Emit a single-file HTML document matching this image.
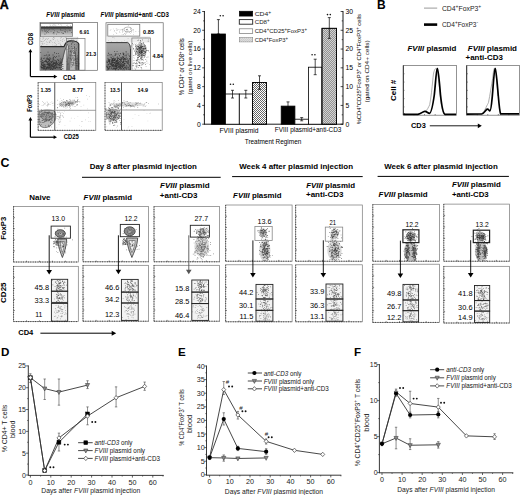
<!DOCTYPE html>
<html><head><meta charset="utf-8"><title>Figure</title>
<style>
html,body{margin:0;padding:0;background:#fff;width:520px;height:495px;overflow:hidden}
svg{display:block;font-family:"Liberation Sans",sans-serif}
</style></head><body>
<svg width="520" height="495" viewBox="0 0 520 495">
<rect width="520" height="495" fill="#fff"/>
<text x="-0.2" y="8.6" font-size="12.4" font-weight="bold" stroke="#000" stroke-width="0.35">A</text>
<text x="46.3" y="16.8" font-size="6.6" font-weight="bold" textLength="38.5" lengthAdjust="spacingAndGlyphs"><tspan font-style="italic">FVIII</tspan> plasmid</text>
<text x="100.5" y="16.8" font-size="6.6" font-weight="bold" textLength="68.3" lengthAdjust="spacingAndGlyphs"><tspan font-style="italic">FVIII</tspan> plasmid+anti -CD3</text>
<rect x="40" y="22.4" width="57.4" height="47.9" fill="#fff" stroke="#666" stroke-width="0.7"/>
<defs><linearGradient id="g1" x1="0" y1="0" x2="0" y2="1"><stop offset="0" stop-color="#9a9a9a"/><stop offset="0.4" stop-color="#8f8f8f"/><stop offset="1" stop-color="#6c6c6c"/></linearGradient><linearGradient id="g2" x1="0" y1="0" x2="0" y2="1"><stop offset="0" stop-color="#a8a8a8"/><stop offset="0.35" stop-color="#9a9a9a"/><stop offset="1" stop-color="#737373"/></linearGradient><linearGradient id="g3" x1="0" y1="0" x2="0" y2="1"><stop offset="0" stop-color="#555"/><stop offset="0.45" stop-color="#999"/><stop offset="1" stop-color="#d8d8d8"/></linearGradient></defs>
<rect x="40.3" y="36.8" width="38" height="10" fill="#e4e4e4"/>
<path d="M52.51 38.26h0.6v0.6h-0.6zM64.84 37.5h0.6v0.6h-0.6zM60.5 40.35h0.6v0.6h-0.6zM42.49 41.72h0.6v0.6h-0.6zM41.71 41.01h0.6v0.6h-0.6zM42.93 37.68h0.6v0.6h-0.6zM56.3 44.82h0.6v0.6h-0.6zM44.97 38.97h0.6v0.6h-0.6zM63.95 45.99h0.6v0.6h-0.6zM62.06 40.65h0.6v0.6h-0.6zM77.1 37.25h0.6v0.6h-0.6zM72.66 39.61h0.6v0.6h-0.6zM45.74 37.94h0.6v0.6h-0.6zM51.93 44.72h0.6v0.6h-0.6zM47.11 42.44h0.6v0.6h-0.6zM64.39 40.41h0.6v0.6h-0.6zM60.95 37.41h0.6v0.6h-0.6zM42.55 38.8h0.6v0.6h-0.6zM65.95 40.95h0.6v0.6h-0.6zM52.14 42.48h0.6v0.6h-0.6zM57.39 39.71h0.6v0.6h-0.6zM70.25 43.58h0.6v0.6h-0.6zM49.5 42.37h0.6v0.6h-0.6zM60.1 45.29h0.6v0.6h-0.6zM67.8 39.59h0.6v0.6h-0.6zM77.25 37.95h0.6v0.6h-0.6zM56.06 44.14h0.6v0.6h-0.6zM46.03 41.54h0.6v0.6h-0.6zM41.78 43.28h0.6v0.6h-0.6zM69.12 42.36h0.6v0.6h-0.6zM73.31 39.84h0.6v0.6h-0.6zM66.51 42.57h0.6v0.6h-0.6zM62.16 41.23h0.6v0.6h-0.6zM71.97 45.96h0.6v0.6h-0.6zM58.17 43.24h0.6v0.6h-0.6zM42.59 43.6h0.6v0.6h-0.6zM64.7 46.43h0.6v0.6h-0.6zM71.29 39.56h0.6v0.6h-0.6zM54.84 43.29h0.6v0.6h-0.6zM41.15 41.28h0.6v0.6h-0.6zM46.64 37.94h0.6v0.6h-0.6zM42.52 44.25h0.6v0.6h-0.6zM45.18 39.2h0.6v0.6h-0.6zM55.04 45.25h0.6v0.6h-0.6zM43.34 41.16h0.6v0.6h-0.6zM61.01 45.37h0.6v0.6h-0.6zM71.19 45.18h0.6v0.6h-0.6zM50.8 40.83h0.6v0.6h-0.6zM53.83 45.38h0.6v0.6h-0.6zM76.41 38.26h0.6v0.6h-0.6zM46.94 39.05h0.6v0.6h-0.6zM49.1 41.5h0.6v0.6h-0.6zM62.51 39.35h0.6v0.6h-0.6zM40.45 40.86h0.6v0.6h-0.6zM54.22 42.29h0.6v0.6h-0.6zM76.23 43.5h0.6v0.6h-0.6zM59.73 42.79h0.6v0.6h-0.6zM65.79 37.32h0.6v0.6h-0.6zM74.21 44.37h0.6v0.6h-0.6zM73.27 44.54h0.6v0.6h-0.6zM55.09 40.67h0.6v0.6h-0.6zM44.2 42.95h0.6v0.6h-0.6zM42.65 37.45h0.6v0.6h-0.6zM48.17 38.37h0.6v0.6h-0.6zM53.12 37.31h0.6v0.6h-0.6zM40.31 38.27h0.6v0.6h-0.6zM44.13 40.33h0.6v0.6h-0.6zM41.26 45.28h0.6v0.6h-0.6zM63.45 38.24h0.6v0.6h-0.6zM49.81 40.17h0.6v0.6h-0.6zM54.03 37.99h0.6v0.6h-0.6zM72.3 46.43h0.6v0.6h-0.6zM57.87 41.49h0.6v0.6h-0.6zM43.54 37.79h0.6v0.6h-0.6zM53.22 39.37h0.6v0.6h-0.6zM71.55 38.37h0.6v0.6h-0.6zM41.17 46.02h0.6v0.6h-0.6zM60.22 38.22h0.6v0.6h-0.6zM60.78 37.06h0.6v0.6h-0.6zM60.21 46.29h0.6v0.6h-0.6zM72.85 43.55h0.6v0.6h-0.6zM50.14 40.36h0.6v0.6h-0.6zM46.6 44.29h0.6v0.6h-0.6zM60.38 44.36h0.6v0.6h-0.6zM52.73 38.96h0.6v0.6h-0.6zM70.89 46.35h0.6v0.6h-0.6zM72.44 44.62h0.6v0.6h-0.6zM71.15 43.98h0.6v0.6h-0.6zM48.85 41.82h0.6v0.6h-0.6zM53.7 37.08h0.6v0.6h-0.6z" fill="#999"/>
<path d="M40.3 46.6 L64 46.6 C65 43.5 67 41.2 70 40.8 C74 40.6 77.5 41.2 78.8 44 L78.8 70 L40.3 70 Z" fill="url(#g1)"/>
<path d="M61 70 C62.5 60 64.5 51 67.5 44.5 C68.5 47 67.5 56 66.5 70 Z" fill="#d6d6d6"/>
<path d="M70 70 C70.5 62 72 52 74 46 C75 52 75.5 62 75.5 70 Z" fill="#b8b8b8"/>
<path d="M55.38 64.64h0.8v0.8h-0.8zM57.39 62.68h0.8v0.8h-0.8zM56.32 62.8h0.8v0.8h-0.8zM50.06 67.17h0.8v0.8h-0.8zM50.78 66.87h0.8v0.8h-0.8zM53.92 59.67h0.8v0.8h-0.8zM40.79 57.38h0.8v0.8h-0.8zM59.13 67.36h0.8v0.8h-0.8zM60.78 59.78h0.8v0.8h-0.8zM49.01 58.87h0.8v0.8h-0.8zM56.9 63.2h0.8v0.8h-0.8zM48.23 61.29h0.8v0.8h-0.8zM52.2 65.84h0.8v0.8h-0.8zM60.98 59.41h0.8v0.8h-0.8zM60.62 63.19h0.8v0.8h-0.8zM43.05 68.58h0.8v0.8h-0.8zM49.92 64.56h0.8v0.8h-0.8zM60.39 62.81h0.8v0.8h-0.8zM51.54 61.25h0.8v0.8h-0.8zM48.92 67.75h0.8v0.8h-0.8zM48.51 68.68h0.8v0.8h-0.8zM43.63 67.96h0.8v0.8h-0.8zM47.46 63.87h0.8v0.8h-0.8zM44.27 65.05h0.8v0.8h-0.8zM53.25 68.5h0.8v0.8h-0.8zM47.42 58.33h0.8v0.8h-0.8zM44.56 68.83h0.8v0.8h-0.8zM57.06 67.57h0.8v0.8h-0.8zM49.06 67.62h0.8v0.8h-0.8zM50.33 58.69h0.8v0.8h-0.8zM56.38 61.46h0.8v0.8h-0.8zM41.78 60.53h0.8v0.8h-0.8zM43.87 55.26h0.8v0.8h-0.8zM54.8 62.76h0.8v0.8h-0.8zM51.33 61.94h0.8v0.8h-0.8zM55.24 67.36h0.8v0.8h-0.8zM54.33 65.47h0.8v0.8h-0.8zM59.67 66.97h0.8v0.8h-0.8zM52.61 54.62h0.8v0.8h-0.8zM46.62 61.89h0.8v0.8h-0.8zM41.58 67.1h0.8v0.8h-0.8zM53.49 68.06h0.8v0.8h-0.8zM41.75 63.6h0.8v0.8h-0.8zM51.34 67.71h0.8v0.8h-0.8zM48.72 63.12h0.8v0.8h-0.8zM40.87 62.38h0.8v0.8h-0.8zM56.13 64.46h0.8v0.8h-0.8zM42.18 60.21h0.8v0.8h-0.8zM54.1 52.33h0.8v0.8h-0.8zM53.97 66.16h0.8v0.8h-0.8zM62.47 65.92h0.8v0.8h-0.8zM48.46 66.35h0.8v0.8h-0.8zM51.6 60.84h0.8v0.8h-0.8zM51.33 64.83h0.8v0.8h-0.8zM45.81 59.62h0.8v0.8h-0.8zM62.63 68.45h0.8v0.8h-0.8zM42.02 65.17h0.8v0.8h-0.8zM48.53 66.35h0.8v0.8h-0.8zM43.18 63.44h0.8v0.8h-0.8zM52.67 65.7h0.8v0.8h-0.8zM54.1 64.94h0.8v0.8h-0.8zM46.41 67.55h0.8v0.8h-0.8zM49.39 60.28h0.8v0.8h-0.8zM43.99 64h0.8v0.8h-0.8zM48.12 64.71h0.8v0.8h-0.8zM49 64.79h0.8v0.8h-0.8zM47.93 58.34h0.8v0.8h-0.8zM52.37 68.74h0.8v0.8h-0.8zM52.48 63.15h0.8v0.8h-0.8zM52.57 59.65h0.8v0.8h-0.8zM41.56 67.33h0.8v0.8h-0.8zM40.33 52.17h0.8v0.8h-0.8zM45.95 57.84h0.8v0.8h-0.8zM42.89 66.34h0.8v0.8h-0.8zM52.97 64.8h0.8v0.8h-0.8zM60.87 67.18h0.8v0.8h-0.8zM48.83 66.69h0.8v0.8h-0.8zM62.24 68.37h0.8v0.8h-0.8zM57.19 59.13h0.8v0.8h-0.8zM47.81 67.28h0.8v0.8h-0.8zM46.63 68.81h0.8v0.8h-0.8zM53.77 68.09h0.8v0.8h-0.8zM58.92 63.03h0.8v0.8h-0.8zM46.25 67.93h0.8v0.8h-0.8zM56.84 64.03h0.8v0.8h-0.8zM51.88 69.08h0.8v0.8h-0.8zM55.26 64.11h0.8v0.8h-0.8zM55.83 66.43h0.8v0.8h-0.8zM50.65 64.25h0.8v0.8h-0.8zM47.05 67.09h0.8v0.8h-0.8zM40.57 61.17h0.8v0.8h-0.8zM49.04 57.41h0.8v0.8h-0.8zM45.51 54.96h0.8v0.8h-0.8zM43.54 66.56h0.8v0.8h-0.8zM53.53 63.75h0.8v0.8h-0.8zM47.14 57.62h0.8v0.8h-0.8zM57.75 60.03h0.8v0.8h-0.8zM47.52 55.81h0.8v0.8h-0.8zM55.24 68.21h0.8v0.8h-0.8zM54.04 56.07h0.8v0.8h-0.8zM43.97 57.69h0.8v0.8h-0.8zM49.25 65.12h0.8v0.8h-0.8zM54.07 67.16h0.8v0.8h-0.8zM61.02 69.24h0.8v0.8h-0.8zM40.52 59.16h0.8v0.8h-0.8zM48.35 64.02h0.8v0.8h-0.8zM52.92 56.86h0.8v0.8h-0.8zM47.4 62.6h0.8v0.8h-0.8zM48.49 60.58h0.8v0.8h-0.8zM54.61 65.59h0.8v0.8h-0.8zM48.3 60.98h0.8v0.8h-0.8zM47.61 51.75h0.8v0.8h-0.8zM41.15 64.17h0.8v0.8h-0.8zM50.18 57.8h0.8v0.8h-0.8zM47 62.59h0.8v0.8h-0.8zM52.68 66.75h0.8v0.8h-0.8zM48.71 60.17h0.8v0.8h-0.8zM47.85 63.71h0.8v0.8h-0.8zM54.88 65.32h0.8v0.8h-0.8zM43.22 57.91h0.8v0.8h-0.8zM46.02 60.67h0.8v0.8h-0.8zM45.07 64.47h0.8v0.8h-0.8zM53.19 62.14h0.8v0.8h-0.8zM57.81 64.55h0.8v0.8h-0.8zM57.93 53.31h0.8v0.8h-0.8zM42.99 65.11h0.8v0.8h-0.8zM55.13 68.26h0.8v0.8h-0.8zM53.08 63.3h0.8v0.8h-0.8zM53.07 59.15h0.8v0.8h-0.8zM58.45 59.42h0.8v0.8h-0.8zM47.21 64.09h0.8v0.8h-0.8zM58.3 64.12h0.8v0.8h-0.8zM42.54 65.16h0.8v0.8h-0.8zM53.66 67.2h0.8v0.8h-0.8zM62.33 64.08h0.8v0.8h-0.8zM51.15 62.07h0.8v0.8h-0.8zM60.31 60.83h0.8v0.8h-0.8zM54.39 61.84h0.8v0.8h-0.8zM43.45 67.23h0.8v0.8h-0.8zM59.67 63.95h0.8v0.8h-0.8zM43.58 67.65h0.8v0.8h-0.8zM48.6 65.4h0.8v0.8h-0.8zM61.18 69.09h0.8v0.8h-0.8zM49.03 67.54h0.8v0.8h-0.8zM43.82 63.8h0.8v0.8h-0.8zM59.93 58.53h0.8v0.8h-0.8zM58.41 61.93h0.8v0.8h-0.8zM48.52 62.59h0.8v0.8h-0.8zM48.03 59.1h0.8v0.8h-0.8zM49.19 57.53h0.8v0.8h-0.8zM48.43 65.39h0.8v0.8h-0.8zM52.74 62.96h0.8v0.8h-0.8zM41.77 64.72h0.8v0.8h-0.8zM55.14 63.48h0.8v0.8h-0.8zM45.23 60.84h0.8v0.8h-0.8zM41.5 62.41h0.8v0.8h-0.8zM51.36 66.32h0.8v0.8h-0.8zM43.36 64.06h0.8v0.8h-0.8zM44.83 64.76h0.8v0.8h-0.8zM50.24 65.84h0.8v0.8h-0.8zM47.09 65.65h0.8v0.8h-0.8zM49.42 67.47h0.8v0.8h-0.8zM48.98 59.36h0.8v0.8h-0.8zM40.64 66.82h0.8v0.8h-0.8zM43.8 66.86h0.8v0.8h-0.8zM54.97 65.38h0.8v0.8h-0.8zM53.06 63.53h0.8v0.8h-0.8zM52.63 61.62h0.8v0.8h-0.8zM48.2 67.37h0.8v0.8h-0.8zM41.98 66.88h0.8v0.8h-0.8zM50.17 63.32h0.8v0.8h-0.8zM61.32 65.42h0.8v0.8h-0.8zM56.18 60.89h0.8v0.8h-0.8zM48.87 63.96h0.8v0.8h-0.8zM56.2 56.13h0.8v0.8h-0.8zM54.95 63.41h0.8v0.8h-0.8zM52.59 65.65h0.8v0.8h-0.8zM60.94 61.41h0.8v0.8h-0.8zM40.82 57.88h0.8v0.8h-0.8zM62.54 65.93h0.8v0.8h-0.8zM44.84 60.97h0.8v0.8h-0.8zM53.23 66.47h0.8v0.8h-0.8zM40.88 58.74h0.8v0.8h-0.8zM51.33 65.11h0.8v0.8h-0.8zM44.66 66.07h0.8v0.8h-0.8zM48.07 63.61h0.8v0.8h-0.8zM46.17 68.74h0.8v0.8h-0.8zM60.13 62.35h0.8v0.8h-0.8zM55.77 60.59h0.8v0.8h-0.8zM49.58 67.37h0.8v0.8h-0.8zM61.11 62.28h0.8v0.8h-0.8zM48.41 64.88h0.8v0.8h-0.8zM43.59 65.67h0.8v0.8h-0.8zM49.31 65.17h0.8v0.8h-0.8zM44.61 68h0.8v0.8h-0.8zM46.81 61.27h0.8v0.8h-0.8zM52.82 56.94h0.8v0.8h-0.8zM43.58 63.91h0.8v0.8h-0.8zM55.79 63.27h0.8v0.8h-0.8zM51.47 61.05h0.8v0.8h-0.8zM43.85 64.08h0.8v0.8h-0.8zM50.39 68.61h0.8v0.8h-0.8zM53.85 67.58h0.8v0.8h-0.8zM50.64 65.14h0.8v0.8h-0.8zM56.43 65.66h0.8v0.8h-0.8zM62.31 58.43h0.8v0.8h-0.8zM55.5 62.32h0.8v0.8h-0.8zM48.95 62.85h0.8v0.8h-0.8zM45 60.23h0.8v0.8h-0.8zM43.96 66.88h0.8v0.8h-0.8zM49.29 64.3h0.8v0.8h-0.8zM47.61 68.11h0.8v0.8h-0.8zM52.95 63.36h0.8v0.8h-0.8zM54.32 63.32h0.8v0.8h-0.8zM52.72 59.69h0.8v0.8h-0.8zM57.63 65.55h0.8v0.8h-0.8zM51.67 68.01h0.8v0.8h-0.8zM50.58 63.33h0.8v0.8h-0.8zM49.24 62.71h0.8v0.8h-0.8zM51.81 64.35h0.8v0.8h-0.8zM54.41 62.33h0.8v0.8h-0.8zM48.71 54.37h0.8v0.8h-0.8zM45.61 67.04h0.8v0.8h-0.8zM59.69 62.36h0.8v0.8h-0.8zM46.39 67.3h0.8v0.8h-0.8zM62.43 64.18h0.8v0.8h-0.8zM58.82 60.8h0.8v0.8h-0.8zM50.66 63.65h0.8v0.8h-0.8zM49.92 69.08h0.8v0.8h-0.8zM44.4 66.24h0.8v0.8h-0.8zM40.56 66.24h0.8v0.8h-0.8zM53.58 62.75h0.8v0.8h-0.8zM53.25 57.03h0.8v0.8h-0.8zM55.08 57.05h0.8v0.8h-0.8zM43.43 61.5h0.8v0.8h-0.8zM45.79 67.86h0.8v0.8h-0.8zM49.65 62.21h0.8v0.8h-0.8zM49.05 65.65h0.8v0.8h-0.8zM58.92 65.21h0.8v0.8h-0.8zM48.69 65.88h0.8v0.8h-0.8zM56.73 67.01h0.8v0.8h-0.8zM46.82 59.26h0.8v0.8h-0.8zM49.82 68.65h0.8v0.8h-0.8zM48.8 55.28h0.8v0.8h-0.8zM46.92 62.04h0.8v0.8h-0.8zM52.61 60.84h0.8v0.8h-0.8zM41.94 62.23h0.8v0.8h-0.8zM48.6 61.01h0.8v0.8h-0.8zM49.1 67.38h0.8v0.8h-0.8zM42.73 62.11h0.8v0.8h-0.8zM43.2 63.85h0.8v0.8h-0.8zM53.18 57.89h0.8v0.8h-0.8zM52.71 63.88h0.8v0.8h-0.8zM58.56 55.59h0.8v0.8h-0.8zM55.46 64.94h0.8v0.8h-0.8zM52.8 65.99h0.8v0.8h-0.8zM59.43 62.99h0.8v0.8h-0.8zM55.99 62.16h0.8v0.8h-0.8zM54.82 60.34h0.8v0.8h-0.8zM52.56 63.29h0.8v0.8h-0.8zM50.55 68.23h0.8v0.8h-0.8zM52.41 66.36h0.8v0.8h-0.8zM45.87 61.53h0.8v0.8h-0.8zM56.1 64.29h0.8v0.8h-0.8zM46.77 61.41h0.8v0.8h-0.8zM46.94 66.81h0.8v0.8h-0.8zM51.83 58.56h0.8v0.8h-0.8zM52.41 64.81h0.8v0.8h-0.8zM41 67.48h0.8v0.8h-0.8zM46.76 62.49h0.8v0.8h-0.8zM43.49 65.97h0.8v0.8h-0.8zM45.05 69.38h0.8v0.8h-0.8zM43.82 67.65h0.8v0.8h-0.8zM45.52 66.25h0.8v0.8h-0.8zM48.26 60.99h0.8v0.8h-0.8zM44.38 64.65h0.8v0.8h-0.8zM59.09 64.53h0.8v0.8h-0.8zM58.46 67.33h0.8v0.8h-0.8zM42.47 67.87h0.8v0.8h-0.8zM52.97 66.91h0.8v0.8h-0.8zM56.2 67.3h0.8v0.8h-0.8zM56.05 52.94h0.8v0.8h-0.8zM50.35 66.21h0.8v0.8h-0.8zM46.37 64.16h0.8v0.8h-0.8zM56.09 62.01h0.8v0.8h-0.8zM58.18 60.45h0.8v0.8h-0.8zM51.13 61.63h0.8v0.8h-0.8zM50.27 60.89h0.8v0.8h-0.8zM51.43 61.49h0.8v0.8h-0.8zM50.61 68.46h0.8v0.8h-0.8zM41.18 63.5h0.8v0.8h-0.8zM53.31 66.37h0.8v0.8h-0.8zM46.32 54.52h0.8v0.8h-0.8zM58.94 65.48h0.8v0.8h-0.8zM49.1 62.75h0.8v0.8h-0.8zM51.11 62.08h0.8v0.8h-0.8zM40.8 60.67h0.8v0.8h-0.8zM44.23 61.24h0.8v0.8h-0.8zM40.88 65.59h0.8v0.8h-0.8zM59.99 64.91h0.8v0.8h-0.8z" fill="#333"/>
<path d="M70.44 58.43h0.7v0.7h-0.7zM73.52 42.4h0.7v0.7h-0.7zM70.87 59.47h0.7v0.7h-0.7zM71.36 58.72h0.7v0.7h-0.7zM75.57 64.9h0.7v0.7h-0.7zM76.17 63.3h0.7v0.7h-0.7zM71.99 57.83h0.7v0.7h-0.7zM72.05 55.18h0.7v0.7h-0.7zM72.37 42.48h0.7v0.7h-0.7zM71.83 57.78h0.7v0.7h-0.7zM69.59 57.78h0.7v0.7h-0.7zM74.8 56.52h0.7v0.7h-0.7zM72.28 41.57h0.7v0.7h-0.7zM74.82 55.28h0.7v0.7h-0.7zM75.98 61.35h0.7v0.7h-0.7zM73.08 52.71h0.7v0.7h-0.7zM75.23 53.63h0.7v0.7h-0.7zM73.78 53.41h0.7v0.7h-0.7zM73.71 64.79h0.7v0.7h-0.7zM69.93 57.7h0.7v0.7h-0.7zM75.16 59.31h0.7v0.7h-0.7zM69.82 40.71h0.7v0.7h-0.7zM76.23 65.33h0.7v0.7h-0.7zM70.83 51.58h0.7v0.7h-0.7zM76.11 49.8h0.7v0.7h-0.7zM66.65 49.02h0.7v0.7h-0.7zM70.6 51.44h0.7v0.7h-0.7zM73.81 51.26h0.7v0.7h-0.7zM77.59 57.3h0.7v0.7h-0.7zM70.96 59.99h0.7v0.7h-0.7zM72.96 55.17h0.7v0.7h-0.7zM74.14 51.77h0.7v0.7h-0.7zM68.57 51.17h0.7v0.7h-0.7zM72.92 58.5h0.7v0.7h-0.7zM74.95 59.08h0.7v0.7h-0.7zM70.22 51.62h0.7v0.7h-0.7zM74.7 62.77h0.7v0.7h-0.7zM72.58 56.43h0.7v0.7h-0.7zM76.28 58.14h0.7v0.7h-0.7zM75.58 63.24h0.7v0.7h-0.7zM71 54.77h0.7v0.7h-0.7zM70.17 50.83h0.7v0.7h-0.7zM73.08 63.11h0.7v0.7h-0.7zM77.11 65.27h0.7v0.7h-0.7zM77.22 46.63h0.7v0.7h-0.7zM70.76 62.07h0.7v0.7h-0.7zM78.02 58.93h0.7v0.7h-0.7zM70 54.81h0.7v0.7h-0.7zM70.69 50.28h0.7v0.7h-0.7zM78.25 52.37h0.7v0.7h-0.7zM77.15 61.03h0.7v0.7h-0.7zM70.86 61.69h0.7v0.7h-0.7zM78.68 63.61h0.7v0.7h-0.7zM77.42 58.88h0.7v0.7h-0.7zM74.81 56.19h0.7v0.7h-0.7zM67.99 57.44h0.7v0.7h-0.7zM73.84 52.86h0.7v0.7h-0.7zM71.92 65.08h0.7v0.7h-0.7zM74.14 44.04h0.7v0.7h-0.7zM72.88 47.93h0.7v0.7h-0.7zM72.8 48.13h0.7v0.7h-0.7zM73.25 62.2h0.7v0.7h-0.7zM73.11 60.52h0.7v0.7h-0.7zM70.71 41.64h0.7v0.7h-0.7zM72.34 51.13h0.7v0.7h-0.7zM69.47 54.81h0.7v0.7h-0.7zM74.02 47.36h0.7v0.7h-0.7zM75.39 56.63h0.7v0.7h-0.7zM73.45 56.92h0.7v0.7h-0.7zM72.83 64.59h0.7v0.7h-0.7zM72.92 49.99h0.7v0.7h-0.7zM75.28 52.51h0.7v0.7h-0.7zM69.34 47.88h0.7v0.7h-0.7zM66.43 61.28h0.7v0.7h-0.7zM70.77 41.19h0.7v0.7h-0.7zM67.81 63.56h0.7v0.7h-0.7zM70.29 54.7h0.7v0.7h-0.7zM73.5 59.66h0.7v0.7h-0.7zM71.91 62.12h0.7v0.7h-0.7zM74 58.47h0.7v0.7h-0.7zM71.25 46.06h0.7v0.7h-0.7zM71.13 44.1h0.7v0.7h-0.7zM77.28 62.83h0.7v0.7h-0.7zM76.12 40.82h0.7v0.7h-0.7zM74.86 61.81h0.7v0.7h-0.7zM73.71 59.54h0.7v0.7h-0.7zM76.69 44.55h0.7v0.7h-0.7zM68.65 45.45h0.7v0.7h-0.7zM71.05 52.55h0.7v0.7h-0.7zM74.29 60.4h0.7v0.7h-0.7zM73.11 51.91h0.7v0.7h-0.7zM71.45 66.57h0.7v0.7h-0.7zM75.67 58.91h0.7v0.7h-0.7zM70.92 63.84h0.7v0.7h-0.7zM77.04 55.61h0.7v0.7h-0.7zM75.89 47.96h0.7v0.7h-0.7zM76.54 59.8h0.7v0.7h-0.7zM67.45 64.03h0.7v0.7h-0.7zM70.62 56.52h0.7v0.7h-0.7zM73.99 55.01h0.7v0.7h-0.7zM73.91 53.02h0.7v0.7h-0.7zM75.35 58.05h0.7v0.7h-0.7zM77.06 58.29h0.7v0.7h-0.7zM66.76 58.86h0.7v0.7h-0.7zM74.64 67.64h0.7v0.7h-0.7zM72.49 64.12h0.7v0.7h-0.7zM71.72 47.96h0.7v0.7h-0.7zM76.84 66.16h0.7v0.7h-0.7zM78.38 65.71h0.7v0.7h-0.7zM70.99 43.04h0.7v0.7h-0.7z" fill="#444"/>
<path d="M40.3 46.6 L64 46.6 C65 43.5 67 41.2 70 40.8 C74 40.6 77.5 41.2 78.8 44 L78.8 70" fill="none" stroke="#2a2a2a" stroke-width="1.2"/>
<polyline points="60.5,70 62.5,60 64.5,51 67.5,44.2" fill="none" stroke="#444" stroke-width="0.7"/>
<polyline points="66.8,70 67.8,56 68.6,46" fill="none" stroke="#555" stroke-width="0.6"/>
<polyline points="76,70 75.6,56 74.3,46" fill="none" stroke="#444" stroke-width="0.6"/>
<rect x="40.6" y="23.6" width="31.9" height="13" fill="#fff" stroke="#555" stroke-width="0.7"/>
<rect x="41" y="26.5" width="31.2" height="9.8" fill="url(#g3)"/>
<rect x="41" y="26.6" width="31.2" height="2" fill="#3a3a3a" stroke="none" stroke-width="1"/>
<path d="M60.47 29.17h0.6v0.6h-0.6zM53.44 29.46h0.6v0.6h-0.6zM68.6 27.15h0.6v0.6h-0.6zM68.54 26.69h0.6v0.6h-0.6zM47.39 28.47h0.6v0.6h-0.6zM68.94 30.26h0.6v0.6h-0.6zM52.76 33.13h0.6v0.6h-0.6zM48.24 29.96h0.6v0.6h-0.6zM57.48 32.16h0.6v0.6h-0.6zM64.34 31.35h0.6v0.6h-0.6zM51.8 28.95h0.6v0.6h-0.6zM45.82 32.82h0.6v0.6h-0.6zM61.53 32.06h0.6v0.6h-0.6zM46.26 29.79h0.6v0.6h-0.6zM64.98 30.84h0.6v0.6h-0.6zM44.91 29.97h0.6v0.6h-0.6zM68.44 28.28h0.6v0.6h-0.6zM46.94 28.76h0.6v0.6h-0.6zM62.8 32.83h0.6v0.6h-0.6zM45.79 27.67h0.6v0.6h-0.6zM48.68 28.95h0.6v0.6h-0.6zM57.19 27.71h0.6v0.6h-0.6zM51.17 27.92h0.6v0.6h-0.6zM71.23 31.97h0.6v0.6h-0.6zM44.16 33.72h0.6v0.6h-0.6zM44.15 29.38h0.6v0.6h-0.6zM71.5 32.46h0.6v0.6h-0.6zM63.73 29.76h0.6v0.6h-0.6zM47.08 31.28h0.6v0.6h-0.6zM44.31 28.05h0.6v0.6h-0.6zM53.04 26.75h0.6v0.6h-0.6zM53.37 32.43h0.6v0.6h-0.6zM62.5 30.25h0.6v0.6h-0.6zM60.6 29.97h0.6v0.6h-0.6zM45.4 31.03h0.6v0.6h-0.6zM53.55 32.06h0.6v0.6h-0.6zM69.15 29.73h0.6v0.6h-0.6zM58.79 32.12h0.6v0.6h-0.6zM54.06 28.21h0.6v0.6h-0.6zM63.39 33.1h0.6v0.6h-0.6zM65 31.75h0.6v0.6h-0.6zM67.43 31.6h0.6v0.6h-0.6zM60.89 29.9h0.6v0.6h-0.6zM50.7 31.21h0.6v0.6h-0.6zM44.03 29.65h0.6v0.6h-0.6zM65.25 31.85h0.6v0.6h-0.6zM60.52 28.38h0.6v0.6h-0.6zM54.13 29.91h0.6v0.6h-0.6zM60.27 29.57h0.6v0.6h-0.6zM61.93 33.48h0.6v0.6h-0.6zM46.67 31.41h0.6v0.6h-0.6zM65.12 29.42h0.6v0.6h-0.6zM56.19 33.81h0.6v0.6h-0.6zM42.18 30.58h0.6v0.6h-0.6zM45.99 32.36h0.6v0.6h-0.6zM70.16 30.39h0.6v0.6h-0.6zM44.13 30.81h0.6v0.6h-0.6zM57.77 31.88h0.6v0.6h-0.6zM56.88 31.29h0.6v0.6h-0.6zM66.7 30.41h0.6v0.6h-0.6zM53.72 33.61h0.6v0.6h-0.6zM47.51 31.63h0.6v0.6h-0.6zM53.17 32.22h0.6v0.6h-0.6zM44.79 33.88h0.6v0.6h-0.6zM52.02 26.92h0.6v0.6h-0.6zM49.51 29.5h0.6v0.6h-0.6zM41.41 29.64h0.6v0.6h-0.6zM54.04 31.74h0.6v0.6h-0.6zM51.92 28.49h0.6v0.6h-0.6zM47.96 32.06h0.6v0.6h-0.6z" fill="#444"/>
<path d="M70.14 25.32h0.6v0.6h-0.6zM47.79 26h0.6v0.6h-0.6zM53.15 24.53h0.6v0.6h-0.6zM45.01 25.94h0.6v0.6h-0.6zM66.1 25.59h0.6v0.6h-0.6zM55.54 25.41h0.6v0.6h-0.6zM48.01 26.41h0.6v0.6h-0.6zM51.95 25.6h0.6v0.6h-0.6zM66.38 26.04h0.6v0.6h-0.6zM55.51 24.74h0.6v0.6h-0.6zM58 24.31h0.6v0.6h-0.6zM66.85 24.89h0.6v0.6h-0.6zM67.37 24.67h0.6v0.6h-0.6zM52.66 24.63h0.6v0.6h-0.6zM54.21 24.46h0.6v0.6h-0.6zM41.08 25.8h0.6v0.6h-0.6zM49.72 24.61h0.6v0.6h-0.6zM50.36 25.2h0.6v0.6h-0.6zM54.28 25.59h0.6v0.6h-0.6zM61.44 24.91h0.6v0.6h-0.6zM69.79 26.14h0.6v0.6h-0.6zM42.77 26.07h0.6v0.6h-0.6zM69.08 25.96h0.6v0.6h-0.6zM45.35 26.08h0.6v0.6h-0.6zM60.63 24.04h0.6v0.6h-0.6z" fill="#aaa"/>
<rect x="66.6" y="38.6" width="18.4" height="31.6" fill="none" stroke="#777" stroke-width="0.7"/>
<text x="79.6" y="33.8" font-size="5.6" font-weight="bold" textLength="9.6" lengthAdjust="spacingAndGlyphs">6.91</text>
<text x="86" y="55.8" font-size="5.6" font-weight="bold" textLength="10.2" lengthAdjust="spacingAndGlyphs">21.3</text>
<rect x="106" y="22.75" width="57.2" height="47.55" fill="#fff" stroke="#666" stroke-width="0.7"/>
<rect x="106.3" y="36.5" width="44" height="6" fill="#ececec"/>
<path d="M107 68.38h0.6v0.6h-0.6zM135.03 44.88h0.6v0.6h-0.6zM110.92 41.28h0.6v0.6h-0.6zM116.66 62.51h0.6v0.6h-0.6zM121.57 41.61h0.6v0.6h-0.6zM145.83 63.02h0.6v0.6h-0.6zM113.8 66.35h0.6v0.6h-0.6zM132.96 62.67h0.6v0.6h-0.6zM135.58 66.45h0.6v0.6h-0.6zM140.78 64.6h0.6v0.6h-0.6zM115.09 59.71h0.6v0.6h-0.6zM129.59 61.35h0.6v0.6h-0.6zM125.58 66.07h0.6v0.6h-0.6zM130.65 45.36h0.6v0.6h-0.6zM116.69 41.17h0.6v0.6h-0.6zM127.95 38.46h0.6v0.6h-0.6zM126.82 41.34h0.6v0.6h-0.6zM127.87 53.19h0.6v0.6h-0.6zM129.97 65.41h0.6v0.6h-0.6zM106.79 64.67h0.6v0.6h-0.6zM126.86 55.35h0.6v0.6h-0.6zM135.44 64.66h0.6v0.6h-0.6zM122.81 50.53h0.6v0.6h-0.6zM148.29 39.03h0.6v0.6h-0.6zM134.21 57.81h0.6v0.6h-0.6zM107.74 56.92h0.6v0.6h-0.6zM136.19 67.71h0.6v0.6h-0.6zM120.87 69.39h0.6v0.6h-0.6zM128.71 52.74h0.6v0.6h-0.6zM145.54 37.64h0.6v0.6h-0.6zM137.74 57.45h0.6v0.6h-0.6zM121.23 65.37h0.6v0.6h-0.6zM122.43 52.4h0.6v0.6h-0.6zM129.36 62.31h0.6v0.6h-0.6zM115.67 51.08h0.6v0.6h-0.6zM124.87 55.06h0.6v0.6h-0.6zM142.46 46.31h0.6v0.6h-0.6zM142.51 50.02h0.6v0.6h-0.6zM128.41 45.6h0.6v0.6h-0.6zM128.53 69.16h0.6v0.6h-0.6zM134.97 63.03h0.6v0.6h-0.6zM120.89 47.12h0.6v0.6h-0.6zM119.52 56.15h0.6v0.6h-0.6zM134.11 62.77h0.6v0.6h-0.6zM108.24 60.71h0.6v0.6h-0.6zM145.02 54.77h0.6v0.6h-0.6zM108.66 46.56h0.6v0.6h-0.6zM106.77 42.86h0.6v0.6h-0.6zM146.58 56.89h0.6v0.6h-0.6zM135.12 62.93h0.6v0.6h-0.6zM146.08 56.99h0.6v0.6h-0.6zM133.33 57.5h0.6v0.6h-0.6zM136.79 56.48h0.6v0.6h-0.6zM136.12 43.62h0.6v0.6h-0.6zM135.51 51.84h0.6v0.6h-0.6zM139.68 39.9h0.6v0.6h-0.6zM114.39 37.74h0.6v0.6h-0.6zM140.19 67.12h0.6v0.6h-0.6zM135.02 48.86h0.6v0.6h-0.6zM142.28 62.85h0.6v0.6h-0.6zM130.95 45.14h0.6v0.6h-0.6zM119.64 50.63h0.6v0.6h-0.6zM120.35 50.93h0.6v0.6h-0.6zM134.42 67.78h0.6v0.6h-0.6zM108.88 55.51h0.6v0.6h-0.6zM108.21 40.48h0.6v0.6h-0.6zM141.75 55.77h0.6v0.6h-0.6zM146.46 51.46h0.6v0.6h-0.6zM107.11 49.47h0.6v0.6h-0.6zM132.25 67.91h0.6v0.6h-0.6zM149.16 52.43h0.6v0.6h-0.6zM124.44 39.92h0.6v0.6h-0.6zM134.54 43.61h0.6v0.6h-0.6zM113.1 37.02h0.6v0.6h-0.6zM106.71 59.41h0.6v0.6h-0.6zM111.79 68.87h0.6v0.6h-0.6zM110.33 65.63h0.6v0.6h-0.6zM112.11 37.1h0.6v0.6h-0.6zM137.79 44.62h0.6v0.6h-0.6zM138.41 42.78h0.6v0.6h-0.6zM108.68 62.43h0.6v0.6h-0.6zM137.54 65.16h0.6v0.6h-0.6zM138.24 39.32h0.6v0.6h-0.6zM133.85 60.26h0.6v0.6h-0.6zM126.54 67.73h0.6v0.6h-0.6zM117.55 68.8h0.6v0.6h-0.6zM137.7 36.88h0.6v0.6h-0.6zM107.14 58.3h0.6v0.6h-0.6zM142.05 39.17h0.6v0.6h-0.6zM120.03 60.94h0.6v0.6h-0.6zM113.72 65.34h0.6v0.6h-0.6zM127.66 38.5h0.6v0.6h-0.6zM122.49 55.76h0.6v0.6h-0.6zM125.58 59.18h0.6v0.6h-0.6zM112.8 63.21h0.6v0.6h-0.6zM122.3 58.1h0.6v0.6h-0.6zM133.89 50.5h0.6v0.6h-0.6zM123.28 62.84h0.6v0.6h-0.6zM147.6 62.78h0.6v0.6h-0.6zM131.16 46.3h0.6v0.6h-0.6zM109.14 69.13h0.6v0.6h-0.6zM137.09 64.22h0.6v0.6h-0.6zM120.94 56.8h0.6v0.6h-0.6zM149.02 64.35h0.6v0.6h-0.6zM132.65 46.84h0.6v0.6h-0.6zM125.14 66.25h0.6v0.6h-0.6zM122.89 59.44h0.6v0.6h-0.6zM132.68 66.52h0.6v0.6h-0.6zM141.63 45.99h0.6v0.6h-0.6zM106.57 45.31h0.6v0.6h-0.6z" fill="#aaa"/>
<path d="M106.3 42.6 L127.5 42.6 C129.5 43 130.5 46 130.5 50 L130.5 70 L106.3 70 Z" fill="url(#g2)"/>
<path d="M106.3 42.6 L127.5 42.6 C129.5 43 130.5 46 130.5 50 L130.5 70" fill="none" stroke="#3a3a3a" stroke-width="1"/>
<path d="M123.58 53.43h0.8v0.8h-0.8zM122.84 53.7h0.8v0.8h-0.8zM109.52 61.25h0.8v0.8h-0.8zM125.69 55.7h0.8v0.8h-0.8zM108.05 52.85h0.8v0.8h-0.8zM113.83 64.73h0.8v0.8h-0.8zM121.98 61.48h0.8v0.8h-0.8zM110.02 63.74h0.8v0.8h-0.8zM118.58 57.64h0.8v0.8h-0.8zM129.9 67.75h0.8v0.8h-0.8zM116.91 59.39h0.8v0.8h-0.8zM124.21 58.99h0.8v0.8h-0.8zM118.19 66.03h0.8v0.8h-0.8zM108.45 67.89h0.8v0.8h-0.8zM107.11 66.47h0.8v0.8h-0.8zM117.61 64.22h0.8v0.8h-0.8zM124.71 62.91h0.8v0.8h-0.8zM126.01 67.38h0.8v0.8h-0.8zM117.22 60.17h0.8v0.8h-0.8zM109.22 60.36h0.8v0.8h-0.8zM114.18 62.88h0.8v0.8h-0.8zM122.92 58.7h0.8v0.8h-0.8zM109.61 61.4h0.8v0.8h-0.8zM117.73 57.82h0.8v0.8h-0.8zM125.7 51.32h0.8v0.8h-0.8zM115.94 64.39h0.8v0.8h-0.8zM117.72 66.01h0.8v0.8h-0.8zM118.52 63.81h0.8v0.8h-0.8zM118.77 62.02h0.8v0.8h-0.8zM108.61 60.09h0.8v0.8h-0.8zM115.48 69.44h0.8v0.8h-0.8zM111.65 58.63h0.8v0.8h-0.8zM110.97 63.94h0.8v0.8h-0.8zM116.45 64.38h0.8v0.8h-0.8zM115.69 67.65h0.8v0.8h-0.8zM117.46 61.68h0.8v0.8h-0.8zM119.21 55.34h0.8v0.8h-0.8zM120.73 63.96h0.8v0.8h-0.8zM116.66 51.17h0.8v0.8h-0.8zM112.64 59.22h0.8v0.8h-0.8zM122.28 65.72h0.8v0.8h-0.8zM115.8 65.57h0.8v0.8h-0.8zM110.57 63.36h0.8v0.8h-0.8zM116.36 65.77h0.8v0.8h-0.8zM115.37 62.28h0.8v0.8h-0.8zM114.79 59.78h0.8v0.8h-0.8zM128.63 55.22h0.8v0.8h-0.8zM122.26 67.19h0.8v0.8h-0.8zM122.94 57.11h0.8v0.8h-0.8zM108.16 64.34h0.8v0.8h-0.8zM120.54 57.89h0.8v0.8h-0.8zM112.54 61h0.8v0.8h-0.8zM116.54 64.68h0.8v0.8h-0.8zM113.42 56.82h0.8v0.8h-0.8zM115.05 68.12h0.8v0.8h-0.8zM120 66.3h0.8v0.8h-0.8zM120.33 59.18h0.8v0.8h-0.8zM121.17 68.05h0.8v0.8h-0.8zM112.96 60h0.8v0.8h-0.8zM108.68 63.58h0.8v0.8h-0.8zM115.7 66.35h0.8v0.8h-0.8zM122.09 65.38h0.8v0.8h-0.8zM118.46 61.96h0.8v0.8h-0.8zM114.89 58.88h0.8v0.8h-0.8zM117.6 62.88h0.8v0.8h-0.8zM118.88 58.72h0.8v0.8h-0.8zM116.36 63.24h0.8v0.8h-0.8zM121.44 57.68h0.8v0.8h-0.8zM119.78 67.92h0.8v0.8h-0.8zM121.37 61.16h0.8v0.8h-0.8zM111.58 61.82h0.8v0.8h-0.8zM114.58 59.79h0.8v0.8h-0.8zM119.38 64.02h0.8v0.8h-0.8zM107.83 59.31h0.8v0.8h-0.8zM115.09 66.36h0.8v0.8h-0.8zM120.49 56.88h0.8v0.8h-0.8zM116.98 64.76h0.8v0.8h-0.8zM115 57.91h0.8v0.8h-0.8zM115.46 61.34h0.8v0.8h-0.8zM119.02 58.81h0.8v0.8h-0.8zM125.82 54.62h0.8v0.8h-0.8zM114.41 63.04h0.8v0.8h-0.8zM124.65 59.96h0.8v0.8h-0.8zM120.91 60.17h0.8v0.8h-0.8zM112.39 65.21h0.8v0.8h-0.8zM107.65 67.87h0.8v0.8h-0.8zM126.9 63.18h0.8v0.8h-0.8zM126.34 68.45h0.8v0.8h-0.8zM123.32 53.85h0.8v0.8h-0.8zM126.08 61.34h0.8v0.8h-0.8zM114.21 62.76h0.8v0.8h-0.8zM122.27 62.28h0.8v0.8h-0.8zM117.73 65.12h0.8v0.8h-0.8zM119.98 63.42h0.8v0.8h-0.8zM114.13 59.87h0.8v0.8h-0.8zM128.1 63.75h0.8v0.8h-0.8zM114.77 60.77h0.8v0.8h-0.8zM125.76 57.19h0.8v0.8h-0.8zM120.43 63.72h0.8v0.8h-0.8zM115.15 65.51h0.8v0.8h-0.8zM111.95 64.52h0.8v0.8h-0.8zM123.06 68.21h0.8v0.8h-0.8zM115.88 60h0.8v0.8h-0.8zM125.74 52.54h0.8v0.8h-0.8zM108.8 66.36h0.8v0.8h-0.8zM121.87 57.84h0.8v0.8h-0.8zM117.38 58.52h0.8v0.8h-0.8zM116.49 67.51h0.8v0.8h-0.8zM122.66 52.59h0.8v0.8h-0.8zM122.94 54.1h0.8v0.8h-0.8zM126.25 64.99h0.8v0.8h-0.8zM116.04 68.24h0.8v0.8h-0.8zM110.24 59.48h0.8v0.8h-0.8zM112.65 62.64h0.8v0.8h-0.8zM120.89 63.36h0.8v0.8h-0.8zM127.76 60.27h0.8v0.8h-0.8zM122.8 53.33h0.8v0.8h-0.8zM117.78 62.12h0.8v0.8h-0.8zM111.54 59.95h0.8v0.8h-0.8zM112.87 59.4h0.8v0.8h-0.8zM111.05 60.38h0.8v0.8h-0.8zM106.48 62.32h0.8v0.8h-0.8zM123.06 61.75h0.8v0.8h-0.8zM124.79 67.61h0.8v0.8h-0.8zM126.4 61.36h0.8v0.8h-0.8zM114.84 68.57h0.8v0.8h-0.8zM111.01 62.4h0.8v0.8h-0.8zM119.4 64.86h0.8v0.8h-0.8zM113.51 67.92h0.8v0.8h-0.8zM114.4 66.63h0.8v0.8h-0.8zM125.63 66.3h0.8v0.8h-0.8zM122.6 57.2h0.8v0.8h-0.8zM108.31 59.34h0.8v0.8h-0.8zM113.51 66.46h0.8v0.8h-0.8zM117.92 68.9h0.8v0.8h-0.8zM107.13 67.45h0.8v0.8h-0.8zM124.37 63.35h0.8v0.8h-0.8zM120.3 60.18h0.8v0.8h-0.8zM117.82 64.56h0.8v0.8h-0.8zM122.69 59.1h0.8v0.8h-0.8zM124.25 64.88h0.8v0.8h-0.8zM120.97 65.26h0.8v0.8h-0.8zM120.61 66.74h0.8v0.8h-0.8zM107.9 69h0.8v0.8h-0.8zM120.7 57.56h0.8v0.8h-0.8zM114.95 54.78h0.8v0.8h-0.8zM116.62 57.33h0.8v0.8h-0.8zM119.08 55.34h0.8v0.8h-0.8zM120.04 61.67h0.8v0.8h-0.8zM116.58 62.66h0.8v0.8h-0.8zM117.18 56.39h0.8v0.8h-0.8zM107.58 60.73h0.8v0.8h-0.8zM119.84 53.07h0.8v0.8h-0.8zM109.13 59.95h0.8v0.8h-0.8zM106.48 64.63h0.8v0.8h-0.8zM114.74 58.9h0.8v0.8h-0.8zM107.14 67.04h0.8v0.8h-0.8zM110.06 65.93h0.8v0.8h-0.8zM120.04 53.53h0.8v0.8h-0.8zM119.08 66.9h0.8v0.8h-0.8zM123.22 68.17h0.8v0.8h-0.8zM112.63 61.95h0.8v0.8h-0.8zM122.98 60.87h0.8v0.8h-0.8zM125.51 55.05h0.8v0.8h-0.8zM121.88 62.13h0.8v0.8h-0.8zM118.8 63.1h0.8v0.8h-0.8zM106.31 60.67h0.8v0.8h-0.8zM129.61 58.86h0.8v0.8h-0.8zM112.46 58.44h0.8v0.8h-0.8zM108.42 68.24h0.8v0.8h-0.8zM111.1 57.54h0.8v0.8h-0.8zM123.09 65.82h0.8v0.8h-0.8zM106.61 66.74h0.8v0.8h-0.8zM126.14 61.72h0.8v0.8h-0.8zM124.25 62.89h0.8v0.8h-0.8zM119.76 66.84h0.8v0.8h-0.8zM111.66 62.81h0.8v0.8h-0.8zM126.86 58.29h0.8v0.8h-0.8zM123.18 59.62h0.8v0.8h-0.8zM120.13 66.44h0.8v0.8h-0.8zM118.17 65.94h0.8v0.8h-0.8zM107.63 58.04h0.8v0.8h-0.8zM114.27 61.89h0.8v0.8h-0.8zM123.67 63.1h0.8v0.8h-0.8zM122.54 57.44h0.8v0.8h-0.8zM113.07 60.12h0.8v0.8h-0.8zM107.73 60.68h0.8v0.8h-0.8zM119.8 65.02h0.8v0.8h-0.8zM116.25 60.63h0.8v0.8h-0.8zM120.45 64.8h0.8v0.8h-0.8zM117.32 63.3h0.8v0.8h-0.8zM117.02 58.62h0.8v0.8h-0.8zM114.19 58.44h0.8v0.8h-0.8zM119.44 66.44h0.8v0.8h-0.8zM108.75 60.71h0.8v0.8h-0.8zM107.55 64.53h0.8v0.8h-0.8zM116.01 64.5h0.8v0.8h-0.8zM119.08 59.11h0.8v0.8h-0.8zM116.4 67.96h0.8v0.8h-0.8zM114.75 59.53h0.8v0.8h-0.8zM116.23 66.08h0.8v0.8h-0.8zM112.36 65.5h0.8v0.8h-0.8zM123.34 62.26h0.8v0.8h-0.8zM111.88 62.07h0.8v0.8h-0.8zM107.32 61.96h0.8v0.8h-0.8zM113.28 64.05h0.8v0.8h-0.8zM111.99 66.01h0.8v0.8h-0.8zM118.65 66.81h0.8v0.8h-0.8zM116.19 64.33h0.8v0.8h-0.8zM111.78 59.08h0.8v0.8h-0.8zM123.85 69.49h0.8v0.8h-0.8zM121.96 65.18h0.8v0.8h-0.8zM118.4 60.75h0.8v0.8h-0.8zM117.79 60.23h0.8v0.8h-0.8zM107.32 69.39h0.8v0.8h-0.8zM109.54 62.89h0.8v0.8h-0.8zM111.44 63.78h0.8v0.8h-0.8zM114.11 59.26h0.8v0.8h-0.8zM125.67 59.08h0.8v0.8h-0.8zM111.43 65.77h0.8v0.8h-0.8zM111.16 60.83h0.8v0.8h-0.8zM119.2 61.16h0.8v0.8h-0.8zM108.93 61.22h0.8v0.8h-0.8zM113.06 64.35h0.8v0.8h-0.8zM124.96 67.06h0.8v0.8h-0.8zM109.17 67.5h0.8v0.8h-0.8zM115.03 64.77h0.8v0.8h-0.8zM113.58 66.32h0.8v0.8h-0.8zM126.04 68.66h0.8v0.8h-0.8zM114.15 67.98h0.8v0.8h-0.8zM129.07 58.32h0.8v0.8h-0.8zM129.25 56.32h0.8v0.8h-0.8zM120.88 65.97h0.8v0.8h-0.8zM129.35 64.39h0.8v0.8h-0.8zM111.67 59.02h0.8v0.8h-0.8zM113.87 59.41h0.8v0.8h-0.8zM120.79 59.18h0.8v0.8h-0.8zM112.07 60.71h0.8v0.8h-0.8zM114.58 55.14h0.8v0.8h-0.8zM118.49 63.36h0.8v0.8h-0.8zM119.14 65.83h0.8v0.8h-0.8zM113.12 67.63h0.8v0.8h-0.8zM123.53 64.05h0.8v0.8h-0.8zM112.34 60.6h0.8v0.8h-0.8zM122.23 57.5h0.8v0.8h-0.8zM114.56 59.25h0.8v0.8h-0.8zM115.77 63.18h0.8v0.8h-0.8zM123.87 55.53h0.8v0.8h-0.8zM115.4 64.44h0.8v0.8h-0.8zM123.49 57.58h0.8v0.8h-0.8zM122.44 64.1h0.8v0.8h-0.8zM128.2 68.69h0.8v0.8h-0.8zM115.99 60.88h0.8v0.8h-0.8zM112.93 58.3h0.8v0.8h-0.8zM115.74 53.61h0.8v0.8h-0.8zM115.24 65.13h0.8v0.8h-0.8zM124.92 61.26h0.8v0.8h-0.8zM128.5 59.74h0.8v0.8h-0.8zM114.79 53.61h0.8v0.8h-0.8zM109.15 59.04h0.8v0.8h-0.8zM129.13 65.59h0.8v0.8h-0.8zM120.23 61.86h0.8v0.8h-0.8zM116.2 61.51h0.8v0.8h-0.8zM111.23 54.34h0.8v0.8h-0.8zM115.2 69.27h0.8v0.8h-0.8zM128.59 61.64h0.8v0.8h-0.8zM109.44 61.97h0.8v0.8h-0.8zM123.89 64.72h0.8v0.8h-0.8zM110.87 64.77h0.8v0.8h-0.8zM114.19 65.52h0.8v0.8h-0.8zM112.42 55.82h0.8v0.8h-0.8zM116.51 66.71h0.8v0.8h-0.8zM123.7 61.17h0.8v0.8h-0.8zM123.28 68.01h0.8v0.8h-0.8zM122.48 69.48h0.8v0.8h-0.8zM107.85 59.77h0.8v0.8h-0.8zM117.72 53.62h0.8v0.8h-0.8zM121.6 65.72h0.8v0.8h-0.8zM112.08 65.61h0.8v0.8h-0.8zM122.79 64.5h0.8v0.8h-0.8zM111.83 63.79h0.8v0.8h-0.8zM111.44 68.02h0.8v0.8h-0.8zM112.44 65.3h0.8v0.8h-0.8zM117.19 63.32h0.8v0.8h-0.8zM128.36 67h0.8v0.8h-0.8zM127.5 62.2h0.8v0.8h-0.8zM124.08 66.66h0.8v0.8h-0.8zM110.65 64.3h0.8v0.8h-0.8zM114.88 62.83h0.8v0.8h-0.8zM127.33 59.52h0.8v0.8h-0.8zM112.07 59.89h0.8v0.8h-0.8zM116.12 65.73h0.8v0.8h-0.8zM120.03 59.45h0.8v0.8h-0.8zM127.64 53.58h0.8v0.8h-0.8zM123.17 55.79h0.8v0.8h-0.8zM113.34 65.83h0.8v0.8h-0.8zM119.6 59.09h0.8v0.8h-0.8zM108.28 67.65h0.8v0.8h-0.8zM116.17 64.45h0.8v0.8h-0.8zM121.97 55.92h0.8v0.8h-0.8zM120.17 66.53h0.8v0.8h-0.8zM112.79 62h0.8v0.8h-0.8zM113.96 60.23h0.8v0.8h-0.8zM118.17 63.76h0.8v0.8h-0.8zM110.56 64.21h0.8v0.8h-0.8zM115.89 62.63h0.8v0.8h-0.8zM125.56 54.73h0.8v0.8h-0.8zM118.18 57.88h0.8v0.8h-0.8zM106.63 62.52h0.8v0.8h-0.8zM110.89 67.56h0.8v0.8h-0.8zM107.53 54.92h0.8v0.8h-0.8zM120.44 61.3h0.8v0.8h-0.8zM113.24 68.19h0.8v0.8h-0.8zM108.33 61.21h0.8v0.8h-0.8zM117.28 64.99h0.8v0.8h-0.8zM111.53 67.97h0.8v0.8h-0.8zM128.16 61.35h0.8v0.8h-0.8zM117.19 61.37h0.8v0.8h-0.8zM110.5 56.87h0.8v0.8h-0.8zM112.59 69.22h0.8v0.8h-0.8zM125.85 61.33h0.8v0.8h-0.8zM111.44 59.63h0.8v0.8h-0.8zM121.73 63.56h0.8v0.8h-0.8zM111.75 58.09h0.8v0.8h-0.8zM127.38 66.75h0.8v0.8h-0.8zM107.77 67.75h0.8v0.8h-0.8zM106.43 66.08h0.8v0.8h-0.8zM107.7 61.01h0.8v0.8h-0.8zM120.28 65.08h0.8v0.8h-0.8zM124.74 58.98h0.8v0.8h-0.8zM129.64 69.45h0.8v0.8h-0.8zM115.91 65.23h0.8v0.8h-0.8zM109.28 62.27h0.8v0.8h-0.8zM117.72 69.45h0.8v0.8h-0.8zM124.19 66.91h0.8v0.8h-0.8zM112.87 61.92h0.8v0.8h-0.8zM113.05 64.07h0.8v0.8h-0.8zM116.19 60.54h0.8v0.8h-0.8zM129.58 68.63h0.8v0.8h-0.8zM111.71 64.92h0.8v0.8h-0.8zM127.22 61.4h0.8v0.8h-0.8zM116.76 60.32h0.8v0.8h-0.8zM116.51 61.3h0.8v0.8h-0.8zM116.71 67.81h0.8v0.8h-0.8zM128.03 63.64h0.8v0.8h-0.8zM117.74 67.11h0.8v0.8h-0.8zM113.49 57.92h0.8v0.8h-0.8zM125.59 58.51h0.8v0.8h-0.8zM124.04 58.37h0.8v0.8h-0.8zM108.89 54.53h0.8v0.8h-0.8zM122.24 66.37h0.8v0.8h-0.8zM114.25 50.88h0.8v0.8h-0.8zM115.53 61.53h0.8v0.8h-0.8zM112.72 61.61h0.8v0.8h-0.8zM112.88 59.58h0.8v0.8h-0.8zM119.42 68.1h0.8v0.8h-0.8zM122.25 57.39h0.8v0.8h-0.8zM117.4 63.67h0.8v0.8h-0.8zM128.43 68.74h0.8v0.8h-0.8zM120.53 68.84h0.8v0.8h-0.8zM112.32 64.9h0.8v0.8h-0.8zM123.93 58.61h0.8v0.8h-0.8zM109.93 54.56h0.8v0.8h-0.8zM117.42 62.74h0.8v0.8h-0.8zM113.18 65.39h0.8v0.8h-0.8zM116.75 61.72h0.8v0.8h-0.8zM112.15 58.49h0.8v0.8h-0.8zM110.78 63.45h0.8v0.8h-0.8zM121.06 58.87h0.8v0.8h-0.8zM124.63 58.08h0.8v0.8h-0.8zM123.15 65.05h0.8v0.8h-0.8zM113.72 62.21h0.8v0.8h-0.8zM120.12 67.14h0.8v0.8h-0.8zM109.59 66.03h0.8v0.8h-0.8zM127.83 63.25h0.8v0.8h-0.8zM115.08 63.88h0.8v0.8h-0.8zM120.85 63.79h0.8v0.8h-0.8zM112.58 59.49h0.8v0.8h-0.8zM114.45 68.82h0.8v0.8h-0.8zM115.12 69.47h0.8v0.8h-0.8z" fill="#333"/>
<ellipse cx="141" cy="50" rx="6" ry="7" fill="#999" fill-opacity="0.6"/>
<path d="M133.1 48.32h0.7v0.7h-0.7zM141.84 49.95h0.7v0.7h-0.7zM135.9 47.57h0.7v0.7h-0.7zM144.84 45.29h0.7v0.7h-0.7zM137.96 46h0.7v0.7h-0.7zM139.3 52.34h0.7v0.7h-0.7zM142.83 42.59h0.7v0.7h-0.7zM145.48 47.84h0.7v0.7h-0.7zM139.19 56.08h0.7v0.7h-0.7zM140.75 45.48h0.7v0.7h-0.7zM139.04 47.35h0.7v0.7h-0.7zM137.9 48.78h0.7v0.7h-0.7zM143.7 51.28h0.7v0.7h-0.7zM136.76 60.17h0.7v0.7h-0.7zM137.96 50.42h0.7v0.7h-0.7zM141.1 52.78h0.7v0.7h-0.7zM139.99 51.67h0.7v0.7h-0.7zM147.47 50.35h0.7v0.7h-0.7zM137.67 51.2h0.7v0.7h-0.7zM138.53 48.65h0.7v0.7h-0.7zM141.58 51.23h0.7v0.7h-0.7zM140.13 53.09h0.7v0.7h-0.7zM140.41 45.24h0.7v0.7h-0.7zM143.7 48.67h0.7v0.7h-0.7zM144.73 47.61h0.7v0.7h-0.7zM142.76 51.15h0.7v0.7h-0.7zM132.72 44.55h0.7v0.7h-0.7zM137.56 55.13h0.7v0.7h-0.7zM135.2 53.33h0.7v0.7h-0.7zM144.36 51.81h0.7v0.7h-0.7zM143.07 48.19h0.7v0.7h-0.7zM140.97 50.82h0.7v0.7h-0.7zM142.29 52.58h0.7v0.7h-0.7zM140.37 47.44h0.7v0.7h-0.7zM139.27 51.5h0.7v0.7h-0.7zM135.9 45.43h0.7v0.7h-0.7zM139.73 47.98h0.7v0.7h-0.7zM140.17 40.29h0.7v0.7h-0.7zM139.95 49.08h0.7v0.7h-0.7zM143.38 42.78h0.7v0.7h-0.7zM140.06 51.73h0.7v0.7h-0.7zM142.5 54.36h0.7v0.7h-0.7zM144.24 46.17h0.7v0.7h-0.7zM142.96 48.78h0.7v0.7h-0.7zM138.53 55.6h0.7v0.7h-0.7zM139.06 46.88h0.7v0.7h-0.7zM139.75 46.89h0.7v0.7h-0.7zM144.1 51.39h0.7v0.7h-0.7zM145.31 51.5h0.7v0.7h-0.7zM139.11 53.83h0.7v0.7h-0.7zM138.99 48.31h0.7v0.7h-0.7zM140.48 50.14h0.7v0.7h-0.7zM144.68 47.78h0.7v0.7h-0.7zM142.08 49.9h0.7v0.7h-0.7zM137.13 46h0.7v0.7h-0.7zM140.32 51.48h0.7v0.7h-0.7zM141.99 51.75h0.7v0.7h-0.7zM141.15 48.36h0.7v0.7h-0.7zM142.31 46.33h0.7v0.7h-0.7zM136.86 48.78h0.7v0.7h-0.7zM136.59 48.12h0.7v0.7h-0.7zM138.7 47.97h0.7v0.7h-0.7zM140.86 47.07h0.7v0.7h-0.7zM139.7 43.74h0.7v0.7h-0.7zM141.45 46.77h0.7v0.7h-0.7zM142.25 39.64h0.7v0.7h-0.7zM138.53 50.89h0.7v0.7h-0.7zM133.47 48.68h0.7v0.7h-0.7zM141.29 50.38h0.7v0.7h-0.7zM136.38 50.84h0.7v0.7h-0.7zM141.46 46.44h0.7v0.7h-0.7zM143.3 49.82h0.7v0.7h-0.7zM141.06 48.35h0.7v0.7h-0.7zM142.69 50.36h0.7v0.7h-0.7zM144.51 51.66h0.7v0.7h-0.7zM139.09 49.18h0.7v0.7h-0.7zM143.84 48.66h0.7v0.7h-0.7zM142.18 51.92h0.7v0.7h-0.7zM140.44 41.45h0.7v0.7h-0.7zM141.41 50.79h0.7v0.7h-0.7zM141.42 47.21h0.7v0.7h-0.7zM144.74 49.51h0.7v0.7h-0.7zM139.07 47.37h0.7v0.7h-0.7zM142.11 45.99h0.7v0.7h-0.7zM137.9 57.35h0.7v0.7h-0.7zM145.05 53.87h0.7v0.7h-0.7zM145.22 52.19h0.7v0.7h-0.7zM135.78 54.39h0.7v0.7h-0.7zM144.83 51.8h0.7v0.7h-0.7zM134.94 54.57h0.7v0.7h-0.7zM145.23 48.19h0.7v0.7h-0.7zM141.4 52.86h0.7v0.7h-0.7zM140.74 54.04h0.7v0.7h-0.7zM141.25 52.54h0.7v0.7h-0.7zM141.26 44.56h0.7v0.7h-0.7zM137.92 61.66h0.7v0.7h-0.7zM141.87 54.83h0.7v0.7h-0.7zM144.53 56.31h0.7v0.7h-0.7zM142.72 47.81h0.7v0.7h-0.7zM141.06 42.93h0.7v0.7h-0.7zM140.42 53.34h0.7v0.7h-0.7zM134.29 50.73h0.7v0.7h-0.7zM143.56 54.89h0.7v0.7h-0.7zM138.13 47.6h0.7v0.7h-0.7zM135.18 46.24h0.7v0.7h-0.7zM142.66 57.63h0.7v0.7h-0.7zM137.44 55.08h0.7v0.7h-0.7zM142.33 48.18h0.7v0.7h-0.7zM147.82 40.7h0.7v0.7h-0.7zM140.79 50.81h0.7v0.7h-0.7zM147.62 56.63h0.7v0.7h-0.7zM148.04 50.5h0.7v0.7h-0.7zM144.05 55.04h0.7v0.7h-0.7zM142.59 51.33h0.7v0.7h-0.7zM140.43 48.49h0.7v0.7h-0.7zM137.18 57.2h0.7v0.7h-0.7zM139.61 42.32h0.7v0.7h-0.7zM141.82 49.87h0.7v0.7h-0.7zM141.55 56.7h0.7v0.7h-0.7zM140.67 49.02h0.7v0.7h-0.7zM138.68 49.92h0.7v0.7h-0.7zM139.64 50.76h0.7v0.7h-0.7zM138.33 57.13h0.7v0.7h-0.7zM143.69 53.02h0.7v0.7h-0.7zM143.23 53.03h0.7v0.7h-0.7zM143.1 55.21h0.7v0.7h-0.7zM144.13 54.99h0.7v0.7h-0.7zM139.44 49.99h0.7v0.7h-0.7zM138.73 53.54h0.7v0.7h-0.7zM143.59 48.28h0.7v0.7h-0.7zM142.82 59.71h0.7v0.7h-0.7zM144.85 45.87h0.7v0.7h-0.7zM140.71 52.35h0.7v0.7h-0.7zM140.89 51.43h0.7v0.7h-0.7zM144.68 51.21h0.7v0.7h-0.7zM137.58 52.64h0.7v0.7h-0.7zM140.7 50.42h0.7v0.7h-0.7zM139.24 44.88h0.7v0.7h-0.7zM137.12 48.69h0.7v0.7h-0.7zM137.67 39.95h0.7v0.7h-0.7zM144.58 45.7h0.7v0.7h-0.7zM138.74 51.97h0.7v0.7h-0.7zM133.49 54.97h0.7v0.7h-0.7zM138.6 52.44h0.7v0.7h-0.7zM139.5 51.13h0.7v0.7h-0.7zM141.33 50h0.7v0.7h-0.7zM135.31 44.56h0.7v0.7h-0.7zM140.87 55.22h0.7v0.7h-0.7zM139.3 51.97h0.7v0.7h-0.7zM141.51 51.79h0.7v0.7h-0.7zM144.09 44.45h0.7v0.7h-0.7zM141.86 49.34h0.7v0.7h-0.7zM140.03 46.84h0.7v0.7h-0.7zM138.55 46.19h0.7v0.7h-0.7zM137.58 59.29h0.7v0.7h-0.7zM146.3 50.04h0.7v0.7h-0.7zM143.31 46.39h0.7v0.7h-0.7zM132.33 43.25h0.7v0.7h-0.7zM141.44 55.33h0.7v0.7h-0.7zM140.87 46.29h0.7v0.7h-0.7zM140.25 46.31h0.7v0.7h-0.7zM136.65 49.14h0.7v0.7h-0.7zM139.75 46.99h0.7v0.7h-0.7zM138.24 46.56h0.7v0.7h-0.7zM141.74 55.16h0.7v0.7h-0.7zM140.34 58.28h0.7v0.7h-0.7zM135.95 51.02h0.7v0.7h-0.7zM137.39 49.4h0.7v0.7h-0.7zM141.32 52.07h0.7v0.7h-0.7zM144.52 47.94h0.7v0.7h-0.7z" fill="#333"/>
<path d="M135.76 59.9h0.7v0.7h-0.7zM141 56.92h0.7v0.7h-0.7zM135.15 63.12h0.7v0.7h-0.7zM143.47 49.76h0.7v0.7h-0.7zM140.7 59.68h0.7v0.7h-0.7zM135.14 68.69h0.7v0.7h-0.7zM140.74 58.2h0.7v0.7h-0.7zM141.51 64.76h0.7v0.7h-0.7zM142.62 64.39h0.7v0.7h-0.7zM141.39 54.12h0.7v0.7h-0.7zM138.56 61.75h0.7v0.7h-0.7zM138.71 54.83h0.7v0.7h-0.7zM133.8 62.46h0.7v0.7h-0.7zM140.11 57.59h0.7v0.7h-0.7zM138.58 55.81h0.7v0.7h-0.7zM137.44 60.43h0.7v0.7h-0.7zM137.8 64.97h0.7v0.7h-0.7zM139.51 61.77h0.7v0.7h-0.7zM141.38 68.43h0.7v0.7h-0.7zM142.05 62.33h0.7v0.7h-0.7zM139.44 56.29h0.7v0.7h-0.7zM138.83 64.99h0.7v0.7h-0.7zM140.77 58.73h0.7v0.7h-0.7zM135.46 52.04h0.7v0.7h-0.7zM141.1 67.01h0.7v0.7h-0.7zM141.28 52.97h0.7v0.7h-0.7zM139.27 62.3h0.7v0.7h-0.7zM136.87 63.03h0.7v0.7h-0.7zM139.32 56.12h0.7v0.7h-0.7zM135.76 65.74h0.7v0.7h-0.7zM141.22 55.81h0.7v0.7h-0.7zM136.54 66.2h0.7v0.7h-0.7zM142.03 59.22h0.7v0.7h-0.7zM145.43 59.31h0.7v0.7h-0.7zM136.4 67.38h0.7v0.7h-0.7zM139.36 63.02h0.7v0.7h-0.7zM140.13 55.14h0.7v0.7h-0.7zM135.95 59.86h0.7v0.7h-0.7zM144.79 55.14h0.7v0.7h-0.7zM144.63 62.29h0.7v0.7h-0.7zM136.21 62.56h0.7v0.7h-0.7zM141.93 55.75h0.7v0.7h-0.7zM132.74 63.08h0.7v0.7h-0.7zM136.22 63.57h0.7v0.7h-0.7zM133.49 60.17h0.7v0.7h-0.7zM137.24 52.35h0.7v0.7h-0.7zM139.18 62h0.7v0.7h-0.7zM138.1 54.11h0.7v0.7h-0.7zM140.72 50.79h0.7v0.7h-0.7zM141.82 63.86h0.7v0.7h-0.7zM145.71 66.16h0.7v0.7h-0.7zM141.21 62.54h0.7v0.7h-0.7zM140.09 53.27h0.7v0.7h-0.7zM144.98 64.07h0.7v0.7h-0.7zM139.03 54.32h0.7v0.7h-0.7zM145.05 64.1h0.7v0.7h-0.7zM135.97 64.92h0.7v0.7h-0.7zM146.45 60.87h0.7v0.7h-0.7zM141.36 58.58h0.7v0.7h-0.7zM137.86 67.26h0.7v0.7h-0.7zM139.58 65.62h0.7v0.7h-0.7zM138.96 65.25h0.7v0.7h-0.7zM142.82 55.08h0.7v0.7h-0.7zM136.35 60.57h0.7v0.7h-0.7zM142.83 62.62h0.7v0.7h-0.7zM144.22 52.98h0.7v0.7h-0.7zM141.68 57.37h0.7v0.7h-0.7zM140.34 62.87h0.7v0.7h-0.7zM136.7 59.67h0.7v0.7h-0.7zM136.05 62.55h0.7v0.7h-0.7zM137.11 58.12h0.7v0.7h-0.7zM140.74 57.2h0.7v0.7h-0.7zM143.9 57.29h0.7v0.7h-0.7zM142.88 62.65h0.7v0.7h-0.7zM136.49 59.73h0.7v0.7h-0.7zM137.16 58.9h0.7v0.7h-0.7zM141.52 53.4h0.7v0.7h-0.7zM132.15 64.94h0.7v0.7h-0.7zM133.25 65.18h0.7v0.7h-0.7zM143.49 63.27h0.7v0.7h-0.7zM139.29 59.54h0.7v0.7h-0.7zM140.88 59.24h0.7v0.7h-0.7zM138.19 58.85h0.7v0.7h-0.7zM143.97 57.39h0.7v0.7h-0.7zM141.29 54.31h0.7v0.7h-0.7zM137.58 53.01h0.7v0.7h-0.7zM139.33 64.97h0.7v0.7h-0.7zM141.04 58.14h0.7v0.7h-0.7zM142.07 58.98h0.7v0.7h-0.7zM141.26 62.59h0.7v0.7h-0.7z" fill="#666"/>
<rect x="107.8" y="24.3" width="32" height="11.8" fill="#fff" stroke="#666" stroke-width="0.7"/>
<path d="M128.19 25.2h0.6v0.6h-0.6zM113.91 31.5h0.6v0.6h-0.6zM123.17 34.34h0.6v0.6h-0.6zM122.18 28.93h0.6v0.6h-0.6zM135.57 31.08h0.6v0.6h-0.6zM138.69 30.99h0.6v0.6h-0.6zM122.42 31.4h0.6v0.6h-0.6zM117.9 29.14h0.6v0.6h-0.6zM119.7 29.57h0.6v0.6h-0.6zM130.03 29.07h0.6v0.6h-0.6zM126.49 29.04h0.6v0.6h-0.6zM122.39 30.33h0.6v0.6h-0.6zM115.66 31.96h0.6v0.6h-0.6zM125.67 32.48h0.6v0.6h-0.6zM131.44 31.24h0.6v0.6h-0.6zM122.84 27.9h0.6v0.6h-0.6zM122.3 29.11h0.6v0.6h-0.6zM125.93 29.1h0.6v0.6h-0.6zM133.08 29.09h0.6v0.6h-0.6zM122.13 31.79h0.6v0.6h-0.6zM124.02 27.66h0.6v0.6h-0.6zM127.2 29.62h0.6v0.6h-0.6zM115.85 28.56h0.6v0.6h-0.6zM127.73 30.58h0.6v0.6h-0.6zM121.76 34.19h0.6v0.6h-0.6zM127.24 28.81h0.6v0.6h-0.6zM125.83 29.77h0.6v0.6h-0.6zM113.26 33.99h0.6v0.6h-0.6zM122.58 29.47h0.6v0.6h-0.6zM119.64 31.89h0.6v0.6h-0.6zM124.22 33.29h0.6v0.6h-0.6zM130.09 33.18h0.6v0.6h-0.6zM123.09 30.72h0.6v0.6h-0.6zM120.66 29.67h0.6v0.6h-0.6zM110.64 28.88h0.6v0.6h-0.6zM116.66 28.74h0.6v0.6h-0.6zM133.39 30.5h0.6v0.6h-0.6zM133.45 31.66h0.6v0.6h-0.6zM131.1 31.94h0.6v0.6h-0.6zM119.33 31.55h0.6v0.6h-0.6zM121.52 28.98h0.6v0.6h-0.6zM133.22 34.17h0.6v0.6h-0.6zM116.45 33.35h0.6v0.6h-0.6zM130.41 28.37h0.6v0.6h-0.6zM126.11 30.72h0.6v0.6h-0.6zM126.89 29.31h0.6v0.6h-0.6zM114.09 30.06h0.6v0.6h-0.6zM130.64 31.51h0.6v0.6h-0.6zM129.09 32.12h0.6v0.6h-0.6zM116.36 29.92h0.6v0.6h-0.6zM126.62 31.93h0.6v0.6h-0.6zM125.2 31h0.6v0.6h-0.6zM125.03 34.04h0.6v0.6h-0.6zM109.88 30.26h0.6v0.6h-0.6zM112.95 28.69h0.6v0.6h-0.6zM125.73 33.3h0.6v0.6h-0.6zM127.57 31.29h0.6v0.6h-0.6zM131.85 30.39h0.6v0.6h-0.6zM117.4 29.81h0.6v0.6h-0.6zM126.59 29.47h0.6v0.6h-0.6z" fill="#999"/>
<ellipse cx="128" cy="29.5" rx="4" ry="2.5" fill="none" stroke="#999" stroke-width="0.6"/>
<rect x="131.9" y="38" width="18.7" height="32.2" fill="none" stroke="#777" stroke-width="0.7"/>
<text x="143.1" y="33.8" font-size="5.6" font-weight="bold" textLength="10.9" lengthAdjust="spacingAndGlyphs">0.85</text>
<text x="152.5" y="58.4" font-size="5.6" font-weight="bold" textLength="10.5" lengthAdjust="spacingAndGlyphs">4.84</text>
<rect x="38.1" y="82.6" width="57.7" height="47.7" fill="#fff" stroke="#777" stroke-width="0.7"/>
<path d="M68.93 102.72h0.6v0.6h-0.6zM69.76 120.87h0.6v0.6h-0.6zM75.54 97.05h0.6v0.6h-0.6zM52.29 114.77h0.6v0.6h-0.6zM89.15 96.36h0.6v0.6h-0.6zM70.91 117.83h0.6v0.6h-0.6zM80.73 106.29h0.6v0.6h-0.6zM80.53 110.24h0.6v0.6h-0.6zM86.04 95.36h0.6v0.6h-0.6zM87.02 108.6h0.6v0.6h-0.6zM60.36 97.91h0.6v0.6h-0.6zM52.24 119.21h0.6v0.6h-0.6zM73.94 99.99h0.6v0.6h-0.6zM57.22 99.63h0.6v0.6h-0.6zM49.91 102.25h0.6v0.6h-0.6zM56.55 127.21h0.6v0.6h-0.6zM89.86 121.12h0.6v0.6h-0.6zM63.99 111.41h0.6v0.6h-0.6zM78.96 124.97h0.6v0.6h-0.6zM77.57 116h0.6v0.6h-0.6zM49.95 115.63h0.6v0.6h-0.6zM82.29 120.96h0.6v0.6h-0.6zM44.62 118.68h0.6v0.6h-0.6zM57.46 100.35h0.6v0.6h-0.6zM88.29 117.2h0.6v0.6h-0.6zM77.28 99.45h0.6v0.6h-0.6zM81.42 125.93h0.6v0.6h-0.6zM85.24 119.58h0.6v0.6h-0.6zM81.62 121.47h0.6v0.6h-0.6zM69.52 109.37h0.6v0.6h-0.6zM81.26 120.89h0.6v0.6h-0.6zM83.54 104.87h0.6v0.6h-0.6zM88.05 112.55h0.6v0.6h-0.6zM87.3 98.82h0.6v0.6h-0.6zM88.42 120.99h0.6v0.6h-0.6zM52.6 122.67h0.6v0.6h-0.6zM51.6 101.53h0.6v0.6h-0.6zM62.9 102.81h0.6v0.6h-0.6zM64.63 124.97h0.6v0.6h-0.6zM74.27 118.44h0.6v0.6h-0.6z" fill="#bbb"/>
<path d="M39 112 C42 109.5 50 109.5 54.5 111 C56 113 56 117 55 120 C53 124 50 127 46 127.5 C42 128 39 126 39 122 Z" fill="#bcbcbc" stroke="#555" stroke-width="0.7"/>
<path d="M41 114 C44 112 50 112 52.5 113.5 C53.5 116 52 119 49 120 C45 121 42 119 41 117 Z" fill="#9a9a9a" stroke="#444" stroke-width="0.6"/>
<path d="M40.37 121.94h0.7v0.7h-0.7zM48.35 110.44h0.7v0.7h-0.7zM54.35 113.99h0.7v0.7h-0.7zM44.9 118.07h0.7v0.7h-0.7zM41.58 110h0.7v0.7h-0.7zM43.27 122.12h0.7v0.7h-0.7zM50.62 110.16h0.7v0.7h-0.7zM51.71 117.15h0.7v0.7h-0.7zM48.67 117.22h0.7v0.7h-0.7zM48.29 112.67h0.7v0.7h-0.7zM42.56 113.96h0.7v0.7h-0.7zM44.9 119.68h0.7v0.7h-0.7zM41.23 123.9h0.7v0.7h-0.7zM43.76 114.45h0.7v0.7h-0.7zM49.55 118.88h0.7v0.7h-0.7zM45.03 112.37h0.7v0.7h-0.7zM42.17 110.08h0.7v0.7h-0.7zM51.45 121.69h0.7v0.7h-0.7zM54.59 119.16h0.7v0.7h-0.7zM47.94 120.28h0.7v0.7h-0.7zM50.62 115.88h0.7v0.7h-0.7zM48.03 126.33h0.7v0.7h-0.7zM39.16 110.91h0.7v0.7h-0.7zM42.33 120.26h0.7v0.7h-0.7zM51.64 115.53h0.7v0.7h-0.7zM49.41 116.79h0.7v0.7h-0.7zM47.8 114.66h0.7v0.7h-0.7zM46.38 116.98h0.7v0.7h-0.7zM51.4 126.67h0.7v0.7h-0.7zM38.64 119.31h0.7v0.7h-0.7zM46.48 121.19h0.7v0.7h-0.7zM51.1 120.38h0.7v0.7h-0.7zM50 112.88h0.7v0.7h-0.7zM39.11 124.23h0.7v0.7h-0.7zM51.74 112.87h0.7v0.7h-0.7zM52.09 119.89h0.7v0.7h-0.7zM42.22 122.05h0.7v0.7h-0.7zM43.55 113.78h0.7v0.7h-0.7zM39.8 116.06h0.7v0.7h-0.7zM50.91 114.09h0.7v0.7h-0.7zM38.44 126.29h0.7v0.7h-0.7zM54.5 119.99h0.7v0.7h-0.7zM44.17 111.75h0.7v0.7h-0.7zM39.4 119.42h0.7v0.7h-0.7zM52.13 112.4h0.7v0.7h-0.7zM46.5 115.8h0.7v0.7h-0.7zM45.39 119.18h0.7v0.7h-0.7zM55.57 114.24h0.7v0.7h-0.7zM50.18 121.72h0.7v0.7h-0.7zM45.27 116.35h0.7v0.7h-0.7zM40.68 121.68h0.7v0.7h-0.7zM44.2 114.16h0.7v0.7h-0.7zM46.79 113.28h0.7v0.7h-0.7zM41.98 115.71h0.7v0.7h-0.7zM52.95 116.11h0.7v0.7h-0.7zM48.79 110.64h0.7v0.7h-0.7zM44.77 110.32h0.7v0.7h-0.7zM46.04 119.63h0.7v0.7h-0.7zM39.01 113.17h0.7v0.7h-0.7zM47.63 113h0.7v0.7h-0.7zM49.96 121.17h0.7v0.7h-0.7zM48.42 115.14h0.7v0.7h-0.7zM46.3 114.25h0.7v0.7h-0.7zM45.93 118.38h0.7v0.7h-0.7zM45.2 121.23h0.7v0.7h-0.7zM47.99 120.57h0.7v0.7h-0.7zM49.3 115.97h0.7v0.7h-0.7zM44.42 121.36h0.7v0.7h-0.7zM49.21 119.2h0.7v0.7h-0.7zM43.01 119.74h0.7v0.7h-0.7zM49.95 116.2h0.7v0.7h-0.7zM49.31 126.44h0.7v0.7h-0.7zM41.41 111.07h0.7v0.7h-0.7zM45.48 119.37h0.7v0.7h-0.7zM46.73 111.93h0.7v0.7h-0.7zM40.25 114.58h0.7v0.7h-0.7zM46.56 113.39h0.7v0.7h-0.7zM39.96 124.63h0.7v0.7h-0.7zM42.85 116.32h0.7v0.7h-0.7zM44.11 114.45h0.7v0.7h-0.7zM46.67 115.7h0.7v0.7h-0.7zM49.19 111.84h0.7v0.7h-0.7zM40.03 125.49h0.7v0.7h-0.7zM46.17 120.34h0.7v0.7h-0.7zM51.64 119.41h0.7v0.7h-0.7zM46.66 110.23h0.7v0.7h-0.7zM39.53 121.26h0.7v0.7h-0.7zM49.45 119.48h0.7v0.7h-0.7zM41.9 111.85h0.7v0.7h-0.7zM47.19 112.55h0.7v0.7h-0.7zM53.4 114.29h0.7v0.7h-0.7zM44.05 120.77h0.7v0.7h-0.7zM47.93 113.08h0.7v0.7h-0.7zM50.08 125.38h0.7v0.7h-0.7zM41.15 115.92h0.7v0.7h-0.7zM49.23 120.05h0.7v0.7h-0.7zM50.75 118.87h0.7v0.7h-0.7zM43.58 111.86h0.7v0.7h-0.7zM41.67 120.34h0.7v0.7h-0.7zM45.21 125.59h0.7v0.7h-0.7zM50.41 122.46h0.7v0.7h-0.7zM46.64 111.7h0.7v0.7h-0.7zM54.23 111.26h0.7v0.7h-0.7zM41.01 109.56h0.7v0.7h-0.7zM51.27 122.16h0.7v0.7h-0.7zM44.73 111.06h0.7v0.7h-0.7zM46.24 118.66h0.7v0.7h-0.7zM39.82 111.93h0.7v0.7h-0.7zM46.05 120.08h0.7v0.7h-0.7zM46.83 118.97h0.7v0.7h-0.7zM47.87 112.98h0.7v0.7h-0.7zM45.96 115.35h0.7v0.7h-0.7zM48.61 113.61h0.7v0.7h-0.7zM52.84 117.14h0.7v0.7h-0.7zM48.82 119.76h0.7v0.7h-0.7zM51.06 118.77h0.7v0.7h-0.7zM38.81 114.24h0.7v0.7h-0.7zM54.68 119.08h0.7v0.7h-0.7zM48.97 119.05h0.7v0.7h-0.7zM43.68 114.02h0.7v0.7h-0.7zM43.66 122.09h0.7v0.7h-0.7zM48.1 124.83h0.7v0.7h-0.7zM48.69 125.32h0.7v0.7h-0.7zM48.51 111.79h0.7v0.7h-0.7zM54.17 118.49h0.7v0.7h-0.7zM51.75 117.95h0.7v0.7h-0.7zM45.06 117.75h0.7v0.7h-0.7zM41.55 111.73h0.7v0.7h-0.7zM42.58 114.69h0.7v0.7h-0.7zM40.52 116.54h0.7v0.7h-0.7z" fill="#555"/>
<path d="M58.75 123.96h0.6v0.6h-0.6zM62.51 115.8h0.6v0.6h-0.6zM60.17 115.14h0.6v0.6h-0.6zM58.96 115.87h0.6v0.6h-0.6zM56.67 116.3h0.6v0.6h-0.6zM57.29 111.74h0.6v0.6h-0.6zM57.12 118.18h0.6v0.6h-0.6zM56.33 117.87h0.6v0.6h-0.6zM59.4 122.13h0.6v0.6h-0.6zM55.33 115.56h0.6v0.6h-0.6zM59.26 121.91h0.6v0.6h-0.6zM58.65 118.97h0.6v0.6h-0.6zM62.09 114.88h0.6v0.6h-0.6zM63.32 113.13h0.6v0.6h-0.6zM59.57 117.04h0.6v0.6h-0.6zM62.97 116.65h0.6v0.6h-0.6zM57.38 110.45h0.6v0.6h-0.6zM57.8 119.73h0.6v0.6h-0.6zM59.83 120.85h0.6v0.6h-0.6zM60.13 115.82h0.6v0.6h-0.6zM59.49 116.68h0.6v0.6h-0.6zM58.92 111.85h0.6v0.6h-0.6zM58.95 117.14h0.6v0.6h-0.6zM60.46 121.71h0.6v0.6h-0.6zM61.78 112.25h0.6v0.6h-0.6zM58.83 117.39h0.6v0.6h-0.6zM58.48 118.95h0.6v0.6h-0.6zM63.42 117.16h0.6v0.6h-0.6zM60.66 115.48h0.6v0.6h-0.6zM57.73 112.09h0.6v0.6h-0.6zM58.27 116.48h0.6v0.6h-0.6zM58.74 121.17h0.6v0.6h-0.6zM57.75 116.37h0.6v0.6h-0.6zM57.28 116.27h0.6v0.6h-0.6zM60.37 112.82h0.6v0.6h-0.6zM59.99 117.53h0.6v0.6h-0.6zM58.51 118.87h0.6v0.6h-0.6zM60.04 113.81h0.6v0.6h-0.6zM60.65 119.25h0.6v0.6h-0.6zM59.17 117.9h0.6v0.6h-0.6z" fill="#999"/>
<ellipse cx="68" cy="103.5" rx="9" ry="2.6" transform="rotate(-10 68 103.5)" fill="#aaa" fill-opacity="0.6"/>
<path d="M60.55 105.43h0.6v0.6h-0.6zM61.57 102.44h0.6v0.6h-0.6zM65.99 104.1h0.6v0.6h-0.6zM67.59 102.97h0.6v0.6h-0.6zM62.18 104.84h0.6v0.6h-0.6zM63.22 101.76h0.6v0.6h-0.6zM68.99 105.97h0.6v0.6h-0.6zM65.3 102.04h0.6v0.6h-0.6zM76.66 105.12h0.6v0.6h-0.6zM66.21 103.42h0.6v0.6h-0.6zM70.14 108.49h0.6v0.6h-0.6zM69.09 105.12h0.6v0.6h-0.6zM70.06 99.84h0.6v0.6h-0.6zM61.14 102.44h0.6v0.6h-0.6zM70.58 103.25h0.6v0.6h-0.6zM78.45 101.21h0.6v0.6h-0.6zM69.84 103.32h0.6v0.6h-0.6zM69.52 107.45h0.6v0.6h-0.6zM70.12 105.81h0.6v0.6h-0.6zM75.46 101.12h0.6v0.6h-0.6zM71.92 102.13h0.6v0.6h-0.6zM68.69 103.67h0.6v0.6h-0.6zM67.98 102.65h0.6v0.6h-0.6zM77.09 101.46h0.6v0.6h-0.6zM72.65 105.76h0.6v0.6h-0.6zM72 104.68h0.6v0.6h-0.6zM76.52 104.02h0.6v0.6h-0.6zM77.7 99.24h0.6v0.6h-0.6zM79.55 101.57h0.6v0.6h-0.6zM57.5 104.14h0.6v0.6h-0.6zM59.77 104.87h0.6v0.6h-0.6zM58.91 103.23h0.6v0.6h-0.6zM69.79 103.48h0.6v0.6h-0.6zM63.22 103.89h0.6v0.6h-0.6zM67.44 103.73h0.6v0.6h-0.6zM67.89 103.12h0.6v0.6h-0.6zM72.7 99.77h0.6v0.6h-0.6zM65.13 104.24h0.6v0.6h-0.6zM65.47 102.93h0.6v0.6h-0.6zM65.48 104.31h0.6v0.6h-0.6zM75.3 101.91h0.6v0.6h-0.6zM66.53 104.4h0.6v0.6h-0.6zM65.98 100.32h0.6v0.6h-0.6zM69.47 102.56h0.6v0.6h-0.6zM64.81 105.19h0.6v0.6h-0.6zM68.09 102.45h0.6v0.6h-0.6zM68.05 103.28h0.6v0.6h-0.6zM70.66 103.45h0.6v0.6h-0.6zM64.79 101.74h0.6v0.6h-0.6zM61.49 104.36h0.6v0.6h-0.6zM61.44 106.01h0.6v0.6h-0.6zM59.62 101.67h0.6v0.6h-0.6zM66.31 100.55h0.6v0.6h-0.6zM77.32 100.09h0.6v0.6h-0.6zM67.62 103.12h0.6v0.6h-0.6zM62.61 101.2h0.6v0.6h-0.6zM57.26 106.92h0.6v0.6h-0.6zM74.7 106.3h0.6v0.6h-0.6zM59.52 105.98h0.6v0.6h-0.6zM68.17 105.01h0.6v0.6h-0.6zM65.18 105.3h0.6v0.6h-0.6zM73.48 103.67h0.6v0.6h-0.6zM76.5 101.72h0.6v0.6h-0.6zM76.92 100.69h0.6v0.6h-0.6zM77.02 96.94h0.6v0.6h-0.6zM67.84 102.07h0.6v0.6h-0.6zM68.32 105.33h0.6v0.6h-0.6zM72.28 102.94h0.6v0.6h-0.6zM77.61 99.15h0.6v0.6h-0.6zM63.64 107.01h0.6v0.6h-0.6zM69.31 99.49h0.6v0.6h-0.6zM69.65 101.05h0.6v0.6h-0.6zM77.08 104.03h0.6v0.6h-0.6zM65.16 106.35h0.6v0.6h-0.6zM63.35 105.98h0.6v0.6h-0.6zM71.39 102.69h0.6v0.6h-0.6zM59.51 104.45h0.6v0.6h-0.6zM57.43 107.53h0.6v0.6h-0.6zM61.54 100.17h0.6v0.6h-0.6zM71.57 103.56h0.6v0.6h-0.6zM65.65 107.77h0.6v0.6h-0.6zM72.59 102.83h0.6v0.6h-0.6zM63.29 98.91h0.6v0.6h-0.6zM71.13 104.72h0.6v0.6h-0.6zM64.07 101.59h0.6v0.6h-0.6zM67.24 100.58h0.6v0.6h-0.6zM68.28 104.86h0.6v0.6h-0.6zM77.01 102.44h0.6v0.6h-0.6zM69.39 104.63h0.6v0.6h-0.6zM76.18 101.51h0.6v0.6h-0.6zM60.5 103.34h0.6v0.6h-0.6zM60.29 103.2h0.6v0.6h-0.6zM67.39 104.23h0.6v0.6h-0.6zM68.95 103.47h0.6v0.6h-0.6zM66.02 104.61h0.6v0.6h-0.6zM73.47 103.95h0.6v0.6h-0.6zM76.77 101.47h0.6v0.6h-0.6zM67.03 106.76h0.6v0.6h-0.6zM69.31 104.03h0.6v0.6h-0.6zM66.31 105.56h0.6v0.6h-0.6zM65.31 102.12h0.6v0.6h-0.6zM67.51 102.78h0.6v0.6h-0.6zM72.82 101.98h0.6v0.6h-0.6zM68.66 102.99h0.6v0.6h-0.6zM69.82 102.04h0.6v0.6h-0.6zM74.1 99.85h0.6v0.6h-0.6zM65.51 102.63h0.6v0.6h-0.6zM71.84 102.91h0.6v0.6h-0.6zM70.77 102.42h0.6v0.6h-0.6zM63.41 102.24h0.6v0.6h-0.6z" fill="#555"/>
<path d="M45.33 102.7h0.6v0.6h-0.6zM48.4 104.03h0.6v0.6h-0.6zM51.88 103.34h0.6v0.6h-0.6zM43.26 101.91h0.6v0.6h-0.6zM47.31 104.04h0.6v0.6h-0.6zM41.76 105.32h0.6v0.6h-0.6zM52.68 105.52h0.6v0.6h-0.6zM46.95 104.93h0.6v0.6h-0.6zM44.59 103.39h0.6v0.6h-0.6zM47.1 106.17h0.6v0.6h-0.6zM45.92 104.93h0.6v0.6h-0.6zM47.33 102.44h0.6v0.6h-0.6zM48.21 104.49h0.6v0.6h-0.6zM43.44 104.45h0.6v0.6h-0.6zM43.44 102.18h0.6v0.6h-0.6zM48.1 103.15h0.6v0.6h-0.6zM42.09 101.06h0.6v0.6h-0.6zM47.12 103.86h0.6v0.6h-0.6zM44.7 103.78h0.6v0.6h-0.6zM39.36 104.09h0.6v0.6h-0.6zM49.08 103.92h0.6v0.6h-0.6zM43.94 103.62h0.6v0.6h-0.6zM47.65 105.1h0.6v0.6h-0.6zM48.38 103.88h0.6v0.6h-0.6zM43.38 104.79h0.6v0.6h-0.6zM52.86 102.76h0.6v0.6h-0.6zM50.19 103.96h0.6v0.6h-0.6zM46.77 101.57h0.6v0.6h-0.6zM48.51 102.94h0.6v0.6h-0.6zM52.72 102.87h0.6v0.6h-0.6z" fill="#aaa"/>
<line x1="54.75" y1="82.6" x2="54.75" y2="130.3" stroke="#444" stroke-width="0.9"/>
<line x1="38.1" y1="110.3" x2="95.8" y2="110.3" stroke="#777" stroke-width="0.7"/>
<path d="M38.1 130.3H95.8" stroke="#333" stroke-width="0.9" stroke-dasharray="0.8 1.6"/>
<path d="M38.1 82.6V130.3" stroke="#333" stroke-width="0.8" stroke-dasharray="0.8 1.8"/>
<text x="40.6" y="91.9" font-size="5.6" font-weight="bold" textLength="10.4" lengthAdjust="spacingAndGlyphs">1.35</text>
<text x="72.5" y="91.9" font-size="5.6" font-weight="bold" textLength="10.6" lengthAdjust="spacingAndGlyphs">8.77</text>
<rect x="105" y="82.4" width="57.2" height="47.9" fill="#fff" stroke="#777" stroke-width="0.7"/>
<path d="M116.55 104.78h0.6v0.6h-0.6zM144.05 105.95h0.6v0.6h-0.6zM109.66 107.43h0.6v0.6h-0.6zM146.66 112.91h0.6v0.6h-0.6zM138.18 102.08h0.6v0.6h-0.6zM125.93 108.9h0.6v0.6h-0.6zM115.03 118.56h0.6v0.6h-0.6zM121.89 103.35h0.6v0.6h-0.6zM149.3 113.48h0.6v0.6h-0.6zM113.92 100.3h0.6v0.6h-0.6zM134.73 114.41h0.6v0.6h-0.6zM107.08 113.17h0.6v0.6h-0.6zM138.58 115.04h0.6v0.6h-0.6zM116.3 113.97h0.6v0.6h-0.6zM132.62 118.23h0.6v0.6h-0.6zM112.38 122.5h0.6v0.6h-0.6zM147.61 120.73h0.6v0.6h-0.6zM143.72 110.3h0.6v0.6h-0.6zM145.72 105.09h0.6v0.6h-0.6zM115.98 116.74h0.6v0.6h-0.6zM145.67 102.3h0.6v0.6h-0.6zM115.55 101.01h0.6v0.6h-0.6zM125.32 103.93h0.6v0.6h-0.6zM114.43 120.97h0.6v0.6h-0.6zM131.67 126.3h0.6v0.6h-0.6zM123.69 119.02h0.6v0.6h-0.6zM106.55 126.56h0.6v0.6h-0.6zM116.26 113.36h0.6v0.6h-0.6zM128.51 126.55h0.6v0.6h-0.6zM127.65 127.77h0.6v0.6h-0.6zM133.33 106.06h0.6v0.6h-0.6zM142.69 105.65h0.6v0.6h-0.6zM149.98 112.78h0.6v0.6h-0.6zM115.96 126.91h0.6v0.6h-0.6zM120.16 111.4h0.6v0.6h-0.6zM121.1 118.72h0.6v0.6h-0.6zM107.01 110.47h0.6v0.6h-0.6zM113.13 123.18h0.6v0.6h-0.6zM106.01 117.01h0.6v0.6h-0.6zM117.35 112.72h0.6v0.6h-0.6z" fill="#bbb"/>
<ellipse cx="113" cy="115" rx="7.5" ry="6.5" fill="#999" fill-opacity="0.6"/>
<path d="M106.43 112.31h0.7v0.7h-0.7zM115.16 117.54h0.7v0.7h-0.7zM114.45 116.97h0.7v0.7h-0.7zM107.12 114.17h0.7v0.7h-0.7zM114.17 113.99h0.7v0.7h-0.7zM113.27 117.71h0.7v0.7h-0.7zM108.76 112.47h0.7v0.7h-0.7zM108.3 107.41h0.7v0.7h-0.7zM116.43 114.05h0.7v0.7h-0.7zM117.3 113.36h0.7v0.7h-0.7zM113.67 115.51h0.7v0.7h-0.7zM112.08 118.6h0.7v0.7h-0.7zM108.16 117.66h0.7v0.7h-0.7zM117.75 108.36h0.7v0.7h-0.7zM109.92 110.57h0.7v0.7h-0.7zM115.5 117.25h0.7v0.7h-0.7zM109.74 109.99h0.7v0.7h-0.7zM116.04 105.86h0.7v0.7h-0.7zM115.86 114.31h0.7v0.7h-0.7zM110.43 113.78h0.7v0.7h-0.7zM111.77 111.77h0.7v0.7h-0.7zM113.36 119.28h0.7v0.7h-0.7zM106.31 113.99h0.7v0.7h-0.7zM119.63 118.29h0.7v0.7h-0.7zM109.39 111.42h0.7v0.7h-0.7zM109.21 107.88h0.7v0.7h-0.7zM118.1 115.31h0.7v0.7h-0.7zM109.91 108.64h0.7v0.7h-0.7zM111.3 112.73h0.7v0.7h-0.7zM120.63 112.96h0.7v0.7h-0.7zM113.51 119.75h0.7v0.7h-0.7zM115.96 114.2h0.7v0.7h-0.7zM115.65 113.08h0.7v0.7h-0.7zM112.61 110.77h0.7v0.7h-0.7zM109.02 108.43h0.7v0.7h-0.7zM115.22 117.29h0.7v0.7h-0.7zM113.77 118.45h0.7v0.7h-0.7zM115.37 115.54h0.7v0.7h-0.7zM109.09 117.62h0.7v0.7h-0.7zM118.25 117.79h0.7v0.7h-0.7zM118.52 112.91h0.7v0.7h-0.7zM108.67 120.53h0.7v0.7h-0.7zM110.42 116.07h0.7v0.7h-0.7zM112.16 115.1h0.7v0.7h-0.7zM111.8 112.62h0.7v0.7h-0.7zM113.9 106.5h0.7v0.7h-0.7zM108.99 110.03h0.7v0.7h-0.7zM109.72 103.75h0.7v0.7h-0.7zM115.54 122.24h0.7v0.7h-0.7zM111.91 118.28h0.7v0.7h-0.7zM115.65 109.51h0.7v0.7h-0.7zM118.38 107.56h0.7v0.7h-0.7zM110.46 113.42h0.7v0.7h-0.7zM118.54 115.52h0.7v0.7h-0.7zM112.45 111.45h0.7v0.7h-0.7zM113.4 115.19h0.7v0.7h-0.7zM116.22 121.15h0.7v0.7h-0.7zM116.25 115.08h0.7v0.7h-0.7zM112.33 122.06h0.7v0.7h-0.7zM113.89 114.93h0.7v0.7h-0.7zM120.92 121.91h0.7v0.7h-0.7zM115.51 114.52h0.7v0.7h-0.7zM110.2 119.7h0.7v0.7h-0.7zM111 119.23h0.7v0.7h-0.7zM109.55 115.46h0.7v0.7h-0.7zM114.77 115.64h0.7v0.7h-0.7zM114.03 116.68h0.7v0.7h-0.7zM108.06 110.11h0.7v0.7h-0.7zM112.35 122.95h0.7v0.7h-0.7zM112.45 110.92h0.7v0.7h-0.7zM110.1 115.15h0.7v0.7h-0.7zM118.2 112.51h0.7v0.7h-0.7zM115.47 115.82h0.7v0.7h-0.7zM111.43 110.85h0.7v0.7h-0.7zM112.33 111.82h0.7v0.7h-0.7zM115.36 107.25h0.7v0.7h-0.7zM117.96 118.34h0.7v0.7h-0.7zM115.54 121.58h0.7v0.7h-0.7zM115.65 107.49h0.7v0.7h-0.7zM113.23 116.98h0.7v0.7h-0.7zM110 110.03h0.7v0.7h-0.7zM114.9 117.25h0.7v0.7h-0.7zM111.13 113.93h0.7v0.7h-0.7zM110.77 112.51h0.7v0.7h-0.7zM112.75 119.72h0.7v0.7h-0.7zM105.93 113.51h0.7v0.7h-0.7zM120.09 116.39h0.7v0.7h-0.7zM113.68 118.67h0.7v0.7h-0.7zM108.6 109.69h0.7v0.7h-0.7zM105.72 108.6h0.7v0.7h-0.7zM114.09 118.73h0.7v0.7h-0.7zM111.17 112.02h0.7v0.7h-0.7zM114.77 117.69h0.7v0.7h-0.7zM114.13 106.65h0.7v0.7h-0.7zM110.61 103.89h0.7v0.7h-0.7zM114.07 111.28h0.7v0.7h-0.7zM110.12 121.59h0.7v0.7h-0.7zM118.8 117.11h0.7v0.7h-0.7zM114.21 115.76h0.7v0.7h-0.7zM110.43 114.78h0.7v0.7h-0.7zM110.1 115.71h0.7v0.7h-0.7zM116.91 118.65h0.7v0.7h-0.7zM108.77 114.43h0.7v0.7h-0.7zM111.84 109.6h0.7v0.7h-0.7zM113.34 112.89h0.7v0.7h-0.7zM117.03 116.9h0.7v0.7h-0.7zM109.58 115.35h0.7v0.7h-0.7zM111.44 112.22h0.7v0.7h-0.7zM110.87 119.66h0.7v0.7h-0.7zM111.19 107.5h0.7v0.7h-0.7zM109.61 118.53h0.7v0.7h-0.7zM111.44 113.56h0.7v0.7h-0.7zM106.84 116.76h0.7v0.7h-0.7zM112.78 116.22h0.7v0.7h-0.7zM116.47 118.65h0.7v0.7h-0.7zM110.22 112.41h0.7v0.7h-0.7zM119.82 118.13h0.7v0.7h-0.7zM113.63 110.21h0.7v0.7h-0.7zM116.87 117.31h0.7v0.7h-0.7zM116.52 116.17h0.7v0.7h-0.7zM113.27 112.59h0.7v0.7h-0.7zM114.35 116.07h0.7v0.7h-0.7zM115.85 119.75h0.7v0.7h-0.7zM114.37 112.63h0.7v0.7h-0.7zM116.53 121.79h0.7v0.7h-0.7zM109.35 116.84h0.7v0.7h-0.7zM115.4 117.35h0.7v0.7h-0.7zM115.21 114.6h0.7v0.7h-0.7zM112.56 122.38h0.7v0.7h-0.7zM120.58 108.87h0.7v0.7h-0.7zM110.05 112.74h0.7v0.7h-0.7zM106.03 116.55h0.7v0.7h-0.7zM112.76 112.64h0.7v0.7h-0.7zM116.93 125.64h0.7v0.7h-0.7zM119.45 120.14h0.7v0.7h-0.7zM111.2 117.88h0.7v0.7h-0.7zM112.84 120.06h0.7v0.7h-0.7zM115.55 114.85h0.7v0.7h-0.7zM115.42 111.86h0.7v0.7h-0.7zM116.47 121.58h0.7v0.7h-0.7zM111.42 117.43h0.7v0.7h-0.7zM105.72 119.1h0.7v0.7h-0.7zM116.84 110.54h0.7v0.7h-0.7zM120.62 115.5h0.7v0.7h-0.7zM105.44 109.02h0.7v0.7h-0.7zM116.82 113.81h0.7v0.7h-0.7zM117.83 108.22h0.7v0.7h-0.7zM112.57 119.27h0.7v0.7h-0.7zM110.04 117.98h0.7v0.7h-0.7zM111.43 116.51h0.7v0.7h-0.7zM114.41 124.76h0.7v0.7h-0.7zM107.59 118.41h0.7v0.7h-0.7zM118.74 110.09h0.7v0.7h-0.7zM113.36 125.1h0.7v0.7h-0.7zM111.96 107.53h0.7v0.7h-0.7zM114.33 111.83h0.7v0.7h-0.7zM110.55 111.34h0.7v0.7h-0.7zM114.29 112.96h0.7v0.7h-0.7zM109.05 114.01h0.7v0.7h-0.7zM114.78 111.26h0.7v0.7h-0.7zM117.86 107.74h0.7v0.7h-0.7zM114.78 113.3h0.7v0.7h-0.7zM119.88 112.19h0.7v0.7h-0.7zM110.1 109.14h0.7v0.7h-0.7zM108.26 113.53h0.7v0.7h-0.7zM108.81 121.66h0.7v0.7h-0.7zM114.83 106.1h0.7v0.7h-0.7zM113.92 119h0.7v0.7h-0.7zM113.01 117.07h0.7v0.7h-0.7zM112.52 115.91h0.7v0.7h-0.7zM113.93 111.91h0.7v0.7h-0.7zM114.52 115.72h0.7v0.7h-0.7zM112.83 112.01h0.7v0.7h-0.7zM108.57 116.08h0.7v0.7h-0.7zM116.61 104.43h0.7v0.7h-0.7zM110.66 120.92h0.7v0.7h-0.7zM117 111.88h0.7v0.7h-0.7zM118.91 110.68h0.7v0.7h-0.7zM109.55 123.48h0.7v0.7h-0.7zM111.09 114.05h0.7v0.7h-0.7zM105.79 110.58h0.7v0.7h-0.7zM107.86 114.4h0.7v0.7h-0.7zM111.44 112.35h0.7v0.7h-0.7zM110.23 118.25h0.7v0.7h-0.7zM119.71 113.22h0.7v0.7h-0.7zM120.06 122.05h0.7v0.7h-0.7zM118.87 116.31h0.7v0.7h-0.7zM106.48 117.95h0.7v0.7h-0.7zM111.21 115.85h0.7v0.7h-0.7zM114.02 110.9h0.7v0.7h-0.7zM114.29 122.33h0.7v0.7h-0.7zM114.01 112h0.7v0.7h-0.7zM108.97 116.79h0.7v0.7h-0.7zM110.41 104.96h0.7v0.7h-0.7zM114.14 118.64h0.7v0.7h-0.7zM109.52 121.42h0.7v0.7h-0.7zM115.19 120.22h0.7v0.7h-0.7zM106.31 114.99h0.7v0.7h-0.7zM120.01 123.83h0.7v0.7h-0.7zM118.78 115h0.7v0.7h-0.7z" fill="#444"/>
<ellipse cx="128" cy="104.5" rx="16" ry="2.2" fill="#bbb" fill-opacity="0.5"/>
<path d="M127.78 103.52h0.6v0.6h-0.6zM136.7 103.42h0.6v0.6h-0.6zM127.2 101.28h0.6v0.6h-0.6zM111.34 107.27h0.6v0.6h-0.6zM126.58 104.84h0.6v0.6h-0.6zM146.19 102.17h0.6v0.6h-0.6zM120.82 104.17h0.6v0.6h-0.6zM113.74 102.38h0.6v0.6h-0.6zM113.95 105.5h0.6v0.6h-0.6zM125.54 105.78h0.6v0.6h-0.6zM115.47 105.42h0.6v0.6h-0.6zM121.68 104.64h0.6v0.6h-0.6zM135.11 104.55h0.6v0.6h-0.6zM122.57 101.9h0.6v0.6h-0.6zM126.62 105.73h0.6v0.6h-0.6zM119.82 104.4h0.6v0.6h-0.6zM108.72 102.41h0.6v0.6h-0.6zM129.94 106.53h0.6v0.6h-0.6zM122.96 101.88h0.6v0.6h-0.6zM122.28 102.05h0.6v0.6h-0.6zM123.31 107.52h0.6v0.6h-0.6zM128.93 104.26h0.6v0.6h-0.6zM136.15 103.91h0.6v0.6h-0.6zM129.25 104.81h0.6v0.6h-0.6zM130.37 102.2h0.6v0.6h-0.6zM132.96 105.88h0.6v0.6h-0.6zM117.22 106.84h0.6v0.6h-0.6zM126.2 105.56h0.6v0.6h-0.6zM131.44 105.89h0.6v0.6h-0.6zM119.74 103.58h0.6v0.6h-0.6zM129.69 105.46h0.6v0.6h-0.6zM131.64 105.03h0.6v0.6h-0.6zM121.24 106.24h0.6v0.6h-0.6zM130.63 106.17h0.6v0.6h-0.6zM119.46 104.69h0.6v0.6h-0.6zM121.32 104.01h0.6v0.6h-0.6zM127.9 105.05h0.6v0.6h-0.6zM118.14 100.51h0.6v0.6h-0.6zM118.32 105.35h0.6v0.6h-0.6zM117.7 105.18h0.6v0.6h-0.6zM122.37 103.01h0.6v0.6h-0.6zM137.51 107.11h0.6v0.6h-0.6zM124.98 104.42h0.6v0.6h-0.6zM135.45 102.41h0.6v0.6h-0.6zM117.39 106.29h0.6v0.6h-0.6zM134.89 103.72h0.6v0.6h-0.6zM118.33 105.05h0.6v0.6h-0.6zM112.1 103.71h0.6v0.6h-0.6zM123.71 100.61h0.6v0.6h-0.6zM131.83 105.71h0.6v0.6h-0.6zM136.54 102.23h0.6v0.6h-0.6zM113.3 103.21h0.6v0.6h-0.6zM113.09 107.75h0.6v0.6h-0.6zM116.34 104h0.6v0.6h-0.6zM128.04 105.22h0.6v0.6h-0.6zM140.36 102.78h0.6v0.6h-0.6zM134.71 104.74h0.6v0.6h-0.6zM114.39 104.74h0.6v0.6h-0.6zM112.11 107.07h0.6v0.6h-0.6zM118.77 106.1h0.6v0.6h-0.6zM138.9 103.52h0.6v0.6h-0.6zM117.1 104.71h0.6v0.6h-0.6zM115.6 105.93h0.6v0.6h-0.6zM127.74 103.29h0.6v0.6h-0.6zM119.2 105.65h0.6v0.6h-0.6zM111.61 107.18h0.6v0.6h-0.6zM118.21 104.19h0.6v0.6h-0.6zM116.82 107.08h0.6v0.6h-0.6zM134.18 106.57h0.6v0.6h-0.6zM132.49 104.64h0.6v0.6h-0.6zM142.85 105.56h0.6v0.6h-0.6zM130.34 105.42h0.6v0.6h-0.6zM133.32 104.94h0.6v0.6h-0.6zM124.34 101.96h0.6v0.6h-0.6zM146.49 102.43h0.6v0.6h-0.6zM145.25 106.44h0.6v0.6h-0.6zM120.01 104.92h0.6v0.6h-0.6zM125.76 101.34h0.6v0.6h-0.6zM122.67 104.97h0.6v0.6h-0.6zM137.68 102.58h0.6v0.6h-0.6zM129.3 104.63h0.6v0.6h-0.6zM127.49 104.74h0.6v0.6h-0.6zM122.35 102.32h0.6v0.6h-0.6zM130.53 105.12h0.6v0.6h-0.6zM131.76 106.49h0.6v0.6h-0.6zM113.63 100.76h0.6v0.6h-0.6zM108.19 107.92h0.6v0.6h-0.6zM116.87 105.14h0.6v0.6h-0.6zM125.85 105.66h0.6v0.6h-0.6zM158.08 103.67h0.6v0.6h-0.6zM124.3 103.55h0.6v0.6h-0.6zM128.45 105.33h0.6v0.6h-0.6zM116.31 106.61h0.6v0.6h-0.6zM137.46 105.21h0.6v0.6h-0.6zM124.9 104.12h0.6v0.6h-0.6zM109.57 105.55h0.6v0.6h-0.6zM116.26 103.7h0.6v0.6h-0.6zM135.96 103.03h0.6v0.6h-0.6zM120.78 105.87h0.6v0.6h-0.6zM144.57 103.4h0.6v0.6h-0.6zM137.04 103.45h0.6v0.6h-0.6zM129.88 105.27h0.6v0.6h-0.6zM114.62 106.14h0.6v0.6h-0.6zM143.99 104.58h0.6v0.6h-0.6zM128.7 102.62h0.6v0.6h-0.6zM143.88 104.6h0.6v0.6h-0.6zM113.24 105.72h0.6v0.6h-0.6zM111.39 103.4h0.6v0.6h-0.6zM148.1 103.48h0.6v0.6h-0.6zM119.47 103.58h0.6v0.6h-0.6z" fill="#666"/>
<line x1="121.5" y1="82.4" x2="121.5" y2="130.3" stroke="#444" stroke-width="0.9"/>
<line x1="105" y1="110" x2="162.2" y2="110" stroke="#777" stroke-width="0.7"/>
<path d="M105 130.3H162.2" stroke="#333" stroke-width="0.9" stroke-dasharray="0.8 1.6"/>
<path d="M105 82.4V130.3" stroke="#333" stroke-width="0.8" stroke-dasharray="0.8 1.8"/>
<text x="110" y="91.9" font-size="5.6" font-weight="bold" textLength="10" lengthAdjust="spacingAndGlyphs">13.5</text>
<text x="137.5" y="91.9" font-size="5.6" font-weight="bold" textLength="10.5" lengthAdjust="spacingAndGlyphs">14.9</text>
<line x1="30.4" y1="76.6" x2="30.4" y2="51.8" stroke="#000" stroke-width="1.2"/>
<polygon points="30.4,48.9 28.5,52.3 32.3,52.3" fill="#000" stroke="none" stroke-width="1"/>
<line x1="30.4" y1="76.6" x2="54.4" y2="76.6" stroke="#000" stroke-width="1.2"/>
<polygon points="57.3,76.6 53.9,74.7 53.9,78.5" fill="#000" stroke="none" stroke-width="1"/>
<text transform="translate(31 39) rotate(-90)" x="0" y="2.31" text-anchor="middle" font-size="6.6" font-weight="bold" textLength="11.9" lengthAdjust="spacingAndGlyphs">CD8</text>
<text x="63.1" y="79.6" font-size="6.6" font-weight="bold" textLength="12.4" lengthAdjust="spacingAndGlyphs">CD4</text>
<line x1="30.4" y1="137.2" x2="30.4" y2="119.9" stroke="#000" stroke-width="1.2"/>
<polygon points="30.4,117 28.5,120.4 32.3,120.4" fill="#000" stroke="none" stroke-width="1"/>
<line x1="30.4" y1="137.2" x2="54.1" y2="137.2" stroke="#000" stroke-width="1.2"/>
<polygon points="57,137.2 53.6,135.3 53.6,139.1" fill="#000" stroke="none" stroke-width="1"/>
<text transform="translate(30 103.3) rotate(-90)" x="0" y="2.31" text-anchor="middle" font-size="6.6" font-weight="bold" textLength="16.7" lengthAdjust="spacingAndGlyphs">FoxP3</text>
<text x="63.7" y="139.4" font-size="6.6" font-weight="bold" textLength="15.1" lengthAdjust="spacingAndGlyphs">CD25</text>
<line x1="204.4" y1="124.7" x2="204.4" y2="11" stroke="#000" stroke-width="0.9"/>
<line x1="343" y1="124.7" x2="343" y2="11" stroke="#000" stroke-width="0.9"/>
<line x1="204.4" y1="124.2" x2="343" y2="124.2" stroke="#000" stroke-width="0.9"/>
<line x1="202.2" y1="124.2" x2="204.4" y2="124.2" stroke="#000" stroke-width="0.7"/>
<line x1="203.2" y1="114.81" x2="204.4" y2="114.81" stroke="#000" stroke-width="0.7"/>
<line x1="202.2" y1="105.42" x2="204.4" y2="105.42" stroke="#000" stroke-width="0.7"/>
<line x1="203.2" y1="96.02" x2="204.4" y2="96.02" stroke="#000" stroke-width="0.7"/>
<line x1="202.2" y1="86.63" x2="204.4" y2="86.63" stroke="#000" stroke-width="0.7"/>
<line x1="203.2" y1="77.24" x2="204.4" y2="77.24" stroke="#000" stroke-width="0.7"/>
<line x1="202.2" y1="67.85" x2="204.4" y2="67.85" stroke="#000" stroke-width="0.7"/>
<line x1="203.2" y1="58.46" x2="204.4" y2="58.46" stroke="#000" stroke-width="0.7"/>
<line x1="202.2" y1="49.06" x2="204.4" y2="49.06" stroke="#000" stroke-width="0.7"/>
<line x1="203.2" y1="39.67" x2="204.4" y2="39.67" stroke="#000" stroke-width="0.7"/>
<line x1="202.2" y1="30.28" x2="204.4" y2="30.28" stroke="#000" stroke-width="0.7"/>
<line x1="203.2" y1="20.89" x2="204.4" y2="20.89" stroke="#000" stroke-width="0.7"/>
<line x1="202.2" y1="11.5" x2="204.4" y2="11.5" stroke="#000" stroke-width="0.7"/>
<line x1="340.6" y1="124.2" x2="343" y2="124.2" stroke="#000" stroke-width="0.7"/>
<line x1="340.6" y1="105.42" x2="343" y2="105.42" stroke="#000" stroke-width="0.7"/>
<line x1="340.6" y1="86.63" x2="343" y2="86.63" stroke="#000" stroke-width="0.7"/>
<line x1="340.6" y1="67.84" x2="343" y2="67.84" stroke="#000" stroke-width="0.7"/>
<line x1="340.6" y1="49.06" x2="343" y2="49.06" stroke="#000" stroke-width="0.7"/>
<line x1="340.6" y1="30.28" x2="343" y2="30.28" stroke="#000" stroke-width="0.7"/>
<line x1="340.6" y1="11.49" x2="343" y2="11.49" stroke="#000" stroke-width="0.7"/>
<line x1="341.7" y1="114.81" x2="343" y2="114.81" stroke="#000" stroke-width="0.6"/>
<line x1="341.7" y1="96.02" x2="343" y2="96.02" stroke="#000" stroke-width="0.6"/>
<line x1="341.7" y1="77.24" x2="343" y2="77.24" stroke="#000" stroke-width="0.6"/>
<line x1="341.7" y1="58.45" x2="343" y2="58.45" stroke="#000" stroke-width="0.6"/>
<line x1="341.7" y1="39.67" x2="343" y2="39.67" stroke="#000" stroke-width="0.6"/>
<line x1="341.7" y1="20.88" x2="343" y2="20.88" stroke="#000" stroke-width="0.6"/>
<text x="200.8" y="126.6" font-size="6.8" text-anchor="end">0</text>
<text x="200.8" y="107.82" font-size="6.8" text-anchor="end">4</text>
<text x="200.8" y="89.03" font-size="6.8" text-anchor="end">8</text>
<text x="200.8" y="70.25" font-size="6.8" text-anchor="end">12</text>
<text x="200.8" y="51.46" font-size="6.8" text-anchor="end">16</text>
<text x="200.8" y="32.68" font-size="6.8" text-anchor="end">20</text>
<text x="200.8" y="13.9" font-size="6.8" text-anchor="end">24</text>
<text x="345.4" y="126.6" font-size="6.8">0</text>
<text x="345.4" y="107.82" font-size="6.8">5</text>
<text x="345.4" y="89.03" font-size="6.8">10</text>
<text x="345.4" y="70.25" font-size="6.8">15</text>
<text x="345.4" y="51.46" font-size="6.8">20</text>
<text x="345.4" y="32.68" font-size="6.8">25</text>
<text x="345.4" y="13.89" font-size="6.8">30</text>
<defs><pattern id="hatch" patternUnits="userSpaceOnUse" width="1.5" height="1.5" patternTransform="rotate(45)"><rect width="1.5" height="1.5" fill="#fff"/><line x1="0" y1="0" x2="0" y2="1.5" stroke="#333" stroke-width="0.6"/></pattern></defs>
<rect x="211.4" y="34" width="14" height="90.2" fill="#000" stroke="#000" stroke-width="0.8"/>
<rect x="225.4" y="94" width="13.9" height="30.2" fill="#fff" stroke="#000" stroke-width="0.8"/>
<rect x="239.3" y="94" width="13.1" height="30.2" fill="#fff" stroke="#000" stroke-width="0.8"/>
<rect x="252.4" y="82.6" width="14.2" height="41.6" fill="#fff" stroke="#000" stroke-width="0.8"/>
<clipPath id="hc1"><rect x="252.4" y="82.6" width="14.2" height="41.6"/></clipPath>
<path clip-path="url(#hc1)" d="M210.8 124.2L252.4 82.6M212.8 124.2L254.4 82.6M214.8 124.2L256.4 82.6M216.8 124.2L258.4 82.6M218.8 124.2L260.4 82.6M220.8 124.2L262.4 82.6M222.8 124.2L264.4 82.6M224.8 124.2L266.4 82.6M226.8 124.2L268.4 82.6M228.8 124.2L270.4 82.6M230.8 124.2L272.4 82.6M232.8 124.2L274.4 82.6M234.8 124.2L276.4 82.6M236.8 124.2L278.4 82.6M238.8 124.2L280.4 82.6M240.8 124.2L282.4 82.6M242.8 124.2L284.4 82.6M244.8 124.2L286.4 82.6M246.8 124.2L288.4 82.6M248.8 124.2L290.4 82.6M250.8 124.2L292.4 82.6M252.8 124.2L294.4 82.6M254.8 124.2L296.4 82.6M256.8 124.2L298.4 82.6M258.8 124.2L300.4 82.6M260.8 124.2L302.4 82.6M262.8 124.2L304.4 82.6M264.8 124.2L306.4 82.6M266.8 124.2L308.4 82.6" stroke="#333" stroke-width="0.75" stroke-opacity="1" fill="none"/>
<rect x="252.4" y="82.6" width="14.2" height="41.6" fill="none" stroke="#000" stroke-width="0.8"/>
<rect x="281.2" y="106.1" width="13.7" height="18.1" fill="#000" stroke="#000" stroke-width="0.8"/>
<rect x="294.9" y="119.2" width="13.6" height="5" fill="#fff" stroke="#000" stroke-width="0.8"/>
<rect x="308.5" y="67.2" width="13.5" height="57" fill="#fff" stroke="#000" stroke-width="0.8"/>
<rect x="322" y="28.3" width="14.6" height="95.9" fill="#fff" stroke="#000" stroke-width="0.8"/>
<clipPath id="hc2"><rect x="322" y="28.3" width="14.6" height="95.9"/></clipPath>
<path clip-path="url(#hc2)" d="M226.1 124.2L322 28.3M228.1 124.2L324 28.3M230.1 124.2L326 28.3M232.1 124.2L328 28.3M234.1 124.2L330 28.3M236.1 124.2L332 28.3M238.1 124.2L334 28.3M240.1 124.2L336 28.3M242.1 124.2L338 28.3M244.1 124.2L340 28.3M246.1 124.2L342 28.3M248.1 124.2L344 28.3M250.1 124.2L346 28.3M252.1 124.2L348 28.3M254.1 124.2L350 28.3M256.1 124.2L352 28.3M258.1 124.2L354 28.3M260.1 124.2L356 28.3M262.1 124.2L358 28.3M264.1 124.2L360 28.3M266.1 124.2L362 28.3M268.1 124.2L364 28.3M270.1 124.2L366 28.3M272.1 124.2L368 28.3M274.1 124.2L370 28.3M276.1 124.2L372 28.3M278.1 124.2L374 28.3M280.1 124.2L376 28.3M282.1 124.2L378 28.3M284.1 124.2L380 28.3M286.1 124.2L382 28.3M288.1 124.2L384 28.3M290.1 124.2L386 28.3M292.1 124.2L388 28.3M294.1 124.2L390 28.3M296.1 124.2L392 28.3M298.1 124.2L394 28.3M300.1 124.2L396 28.3M302.1 124.2L398 28.3M304.1 124.2L400 28.3M306.1 124.2L402 28.3M308.1 124.2L404 28.3M310.1 124.2L406 28.3M312.1 124.2L408 28.3M314.1 124.2L410 28.3M316.1 124.2L412 28.3M318.1 124.2L414 28.3M320.1 124.2L416 28.3M322.1 124.2L418 28.3M324.1 124.2L420 28.3M326.1 124.2L422 28.3M328.1 124.2L424 28.3M330.1 124.2L426 28.3M332.1 124.2L428 28.3M334.1 124.2L430 28.3M336.1 124.2L432 28.3" stroke="#333" stroke-width="0.75" stroke-opacity="1" fill="none"/>
<rect x="322" y="28.3" width="14.6" height="95.9" fill="none" stroke="#000" stroke-width="0.8"/>
<line x1="218.4" y1="19.6" x2="218.4" y2="34" stroke="#000" stroke-width="0.7"/>
<line x1="216.9" y1="19.6" x2="219.9" y2="19.6" stroke="#000" stroke-width="0.7"/>
<line x1="216.9" y1="34" x2="219.9" y2="34" stroke="#000" stroke-width="0.7"/>
<line x1="232.5" y1="90.3" x2="232.5" y2="98" stroke="#000" stroke-width="0.7"/>
<line x1="231" y1="90.3" x2="234" y2="90.3" stroke="#000" stroke-width="0.7"/>
<line x1="231" y1="98" x2="234" y2="98" stroke="#000" stroke-width="0.7"/>
<line x1="245.8" y1="90.3" x2="245.8" y2="98" stroke="#000" stroke-width="0.7"/>
<line x1="244.3" y1="90.3" x2="247.3" y2="90.3" stroke="#000" stroke-width="0.7"/>
<line x1="244.3" y1="98" x2="247.3" y2="98" stroke="#000" stroke-width="0.7"/>
<line x1="259.5" y1="75.8" x2="259.5" y2="89.3" stroke="#000" stroke-width="0.7"/>
<line x1="258" y1="75.8" x2="261" y2="75.8" stroke="#000" stroke-width="0.7"/>
<line x1="258" y1="89.3" x2="261" y2="89.3" stroke="#000" stroke-width="0.7"/>
<line x1="288" y1="101.9" x2="288" y2="110" stroke="#000" stroke-width="0.7"/>
<line x1="286.5" y1="101.9" x2="289.5" y2="101.9" stroke="#000" stroke-width="0.7"/>
<line x1="286.5" y1="110" x2="289.5" y2="110" stroke="#000" stroke-width="0.7"/>
<line x1="301.7" y1="117.6" x2="301.7" y2="120.8" stroke="#000" stroke-width="0.7"/>
<line x1="300.2" y1="117.6" x2="303.2" y2="117.6" stroke="#000" stroke-width="0.7"/>
<line x1="300.2" y1="120.8" x2="303.2" y2="120.8" stroke="#000" stroke-width="0.7"/>
<line x1="315.2" y1="59.2" x2="315.2" y2="74.7" stroke="#000" stroke-width="0.7"/>
<line x1="313.7" y1="59.2" x2="316.7" y2="59.2" stroke="#000" stroke-width="0.7"/>
<line x1="313.7" y1="74.7" x2="316.7" y2="74.7" stroke="#000" stroke-width="0.7"/>
<line x1="329.3" y1="17.6" x2="329.3" y2="38.4" stroke="#000" stroke-width="0.7"/>
<line x1="327.8" y1="17.6" x2="330.8" y2="17.6" stroke="#000" stroke-width="0.7"/>
<line x1="327.8" y1="38.4" x2="330.8" y2="38.4" stroke="#000" stroke-width="0.7"/>
<circle cx="220.3" cy="15.8" r="0.8" fill="#111"/><circle cx="223.1" cy="15.8" r="0.8" fill="#111"/>
<circle cx="230.5" cy="84.2" r="0.8" fill="#111"/><circle cx="233.3" cy="84.2" r="0.8" fill="#111"/>
<circle cx="312.1" cy="54.8" r="0.8" fill="#111"/><circle cx="314.9" cy="54.8" r="0.8" fill="#111"/>
<circle cx="327.5" cy="14.6" r="0.8" fill="#111"/><circle cx="330.3" cy="14.6" r="0.8" fill="#111"/>
<rect x="239.3" y="11.2" width="13.4" height="4.9" fill="#000" stroke="#000" stroke-width="0.6"/>
<rect x="239.3" y="19.6" width="13.4" height="4.6" fill="#fff" stroke="#222" stroke-width="0.9"/>
<rect x="239.3" y="28.8" width="13.4" height="4.7" fill="#fff" stroke="#777" stroke-width="0.7"/>
<clipPath id="hc3"><rect x="239.3" y="37.3" width="13.4" height="4.6"/></clipPath>
<path clip-path="url(#hc3)" d="M234.7 41.9L239.3 37.3M236.7 41.9L241.3 37.3M238.7 41.9L243.3 37.3M240.7 41.9L245.3 37.3M242.7 41.9L247.3 37.3M244.7 41.9L249.3 37.3M246.7 41.9L251.3 37.3M248.7 41.9L253.3 37.3M250.7 41.9L255.3 37.3M252.7 41.9L257.3 37.3" stroke="#777" stroke-width="0.6" stroke-opacity="1" fill="none"/>
<rect x="239.3" y="37.3" width="13.4" height="4.6" fill="none" stroke="#888" stroke-width="0.6"/>
<text x="254.7" y="16" font-size="6.2" fill="#222" textLength="16.5" lengthAdjust="spacingAndGlyphs">CD4<tspan baseline-shift="super" font-size="72%">+</tspan></text>
<text x="254.7" y="24.3" font-size="6.2" fill="#222" textLength="14.9" lengthAdjust="spacingAndGlyphs">CD8<tspan baseline-shift="super" font-size="72%">+</tspan></text>
<text x="254.7" y="33.3" font-size="6.2" fill="#222" textLength="52.3" lengthAdjust="spacingAndGlyphs">CD4<tspan baseline-shift="super" font-size="72%">+</tspan>CD25<tspan baseline-shift="super" font-size="72%">+</tspan>FoxP3<tspan baseline-shift="super" font-size="72%">+</tspan></text>
<text x="254.7" y="42.2" font-size="6.2" fill="#222" textLength="33.3" lengthAdjust="spacingAndGlyphs">CD4<tspan baseline-shift="super" font-size="72%">+</tspan>FoxP3<tspan baseline-shift="super" font-size="72%">+</tspan></text>
<text x="219.5" y="133.4" font-size="6.6" textLength="39" lengthAdjust="spacingAndGlyphs">FVIII plasmid</text>
<text x="274.8" y="132.1" font-size="6.6" textLength="66.6" lengthAdjust="spacingAndGlyphs">FVIII plasmid+anti-CD3</text>
<text x="244.7" y="143.5" font-size="6.6" textLength="56.6" lengthAdjust="spacingAndGlyphs">Treatment Regimen</text>
<text transform="translate(181.8 66.7) rotate(-90)" x="0" y="2.24" text-anchor="middle" font-size="6.4" textLength="56.9" lengthAdjust="spacingAndGlyphs">% CD4<tspan baseline-shift="super" font-size="72%">+</tspan> or CD8<tspan baseline-shift="super" font-size="72%">+</tspan> cells</text>
<text transform="translate(189.4 67.5) rotate(-90)" x="0" y="2.1" text-anchor="middle" font-size="6" textLength="53.8" lengthAdjust="spacingAndGlyphs">(gated on live cells)</text>
<text transform="translate(358.4 69.2) rotate(-90)" x="0" y="2.17" text-anchor="middle" font-size="6.2" textLength="110.3" lengthAdjust="spacingAndGlyphs">%CD4<tspan baseline-shift="super" font-size="72%">+</tspan>CD25<tspan baseline-shift="super" font-size="72%">+</tspan>FoxP3<tspan baseline-shift="super" font-size="72%">+</tspan> or CD4<tspan baseline-shift="super" font-size="72%">+</tspan>FoxP3<tspan baseline-shift="super" font-size="72%">+</tspan> cells</text>
<text transform="translate(366.9 71.4) rotate(-90)" x="0" y="2.1" text-anchor="middle" font-size="6" textLength="62" lengthAdjust="spacingAndGlyphs">(gated on CD4+ cells)</text>
<text x="376.9" y="8.6" font-size="12" font-weight="bold">B</text>
<line x1="424" y1="8.1" x2="437.2" y2="8.1" stroke="#999" stroke-width="1"/>
<line x1="424" y1="24.6" x2="437.2" y2="24.6" stroke="#000" stroke-width="2.6"/>
<text x="441.9" y="11.2" font-size="7.2" fill="#222" textLength="39.3" lengthAdjust="spacingAndGlyphs">CD4<tspan baseline-shift="super" font-size="72%">+</tspan>FoxP3<tspan baseline-shift="super" font-size="72%">+</tspan></text>
<text x="441.9" y="27.2" font-size="7.2" fill="#222" textLength="36.1" lengthAdjust="spacingAndGlyphs">CD4<tspan baseline-shift="super" font-size="72%">+</tspan>FoxP3<tspan baseline-shift="super" font-size="72%">-</tspan></text>
<text x="407.5" y="51.3" font-size="7.4" font-weight="bold" textLength="48.9" lengthAdjust="spacingAndGlyphs"><tspan font-style="italic">FVIII</tspan> plasmid</text>
<text x="467.8" y="51.3" font-size="7.4" font-weight="bold" textLength="49.2" lengthAdjust="spacingAndGlyphs"><tspan font-style="italic">FVIII</tspan> plasmid</text>
<text x="465.5" y="60.4" font-size="7.4" font-weight="bold" textLength="37.3" lengthAdjust="spacingAndGlyphs">+anti-CD3</text>
<rect x="403.3" y="65.5" width="53.1" height="49.7" fill="#fff" stroke="#666" stroke-width="0.7"/>
<line x1="403.3" y1="65.5" x2="403.3" y2="115.2" stroke="#333" stroke-width="1"/>
<line x1="403.3" y1="106.92" x2="404.5" y2="106.92" stroke="#444" stroke-width="0.6"/>
<line x1="403.3" y1="98.63" x2="404.5" y2="98.63" stroke="#444" stroke-width="0.6"/>
<line x1="403.3" y1="90.35" x2="404.5" y2="90.35" stroke="#444" stroke-width="0.6"/>
<line x1="403.3" y1="82.07" x2="404.5" y2="82.07" stroke="#444" stroke-width="0.6"/>
<line x1="403.3" y1="73.78" x2="404.5" y2="73.78" stroke="#444" stroke-width="0.6"/>
<line x1="413.92" y1="115.2" x2="413.92" y2="114" stroke="#444" stroke-width="0.6"/>
<line x1="424.54" y1="115.2" x2="424.54" y2="114" stroke="#444" stroke-width="0.6"/>
<line x1="435.16" y1="115.2" x2="435.16" y2="114" stroke="#444" stroke-width="0.6"/>
<line x1="445.78" y1="115.2" x2="445.78" y2="114" stroke="#444" stroke-width="0.6"/>
<path d="M418 114.1 C421 113.6 423 111.8 425 111.4 C427 111 428.5 107 429.7 104.8 C431 98 432 88 432.8 80 C433.4 72 434.5 69 435.8 68.5 C437 68.4 438 75 439.5 88 C440.5 100 441.5 110 444 114" fill="none" stroke="#999" stroke-width="0.8" stroke-linejoin="round"/>
<path d="M403.6 113.6 L404.5 114.3 L418 114.3 C421 114 422.5 111.5 424.8 111.3 C426.8 111.2 428 113.4 429.5 113.4 C431.5 113.2 433 104 434.3 95 C435.5 84 436.3 69 437.3 68.5 C438.5 69 439.5 84 440.5 95 C441.5 104 442.5 113 444.8 114.3 L456 114.3" fill="none" stroke="#000" stroke-width="1.7" stroke-linejoin="round"/>
<rect x="466.7" y="65.5" width="52.7" height="49.7" fill="#fff" stroke="#666" stroke-width="0.7"/>
<line x1="466.7" y1="65.5" x2="466.7" y2="115.2" stroke="#333" stroke-width="1"/>
<line x1="466.7" y1="106.92" x2="467.9" y2="106.92" stroke="#444" stroke-width="0.6"/>
<line x1="466.7" y1="98.63" x2="467.9" y2="98.63" stroke="#444" stroke-width="0.6"/>
<line x1="466.7" y1="90.35" x2="467.9" y2="90.35" stroke="#444" stroke-width="0.6"/>
<line x1="466.7" y1="82.07" x2="467.9" y2="82.07" stroke="#444" stroke-width="0.6"/>
<line x1="466.7" y1="73.78" x2="467.9" y2="73.78" stroke="#444" stroke-width="0.6"/>
<line x1="477.24" y1="115.2" x2="477.24" y2="114" stroke="#444" stroke-width="0.6"/>
<line x1="487.78" y1="115.2" x2="487.78" y2="114" stroke="#444" stroke-width="0.6"/>
<line x1="498.32" y1="115.2" x2="498.32" y2="114" stroke="#444" stroke-width="0.6"/>
<line x1="508.86" y1="115.2" x2="508.86" y2="114" stroke="#444" stroke-width="0.6"/>
<path d="M481.8 113.9 C483.5 113.4 484.5 110 486 107.5 C487 105 488 104 488.5 102.4 C490 95 491.5 85 492.7 78.2 C493.3 72 493.8 69 494.2 68.5 C495.5 69 497 80 498 96" fill="none" stroke="#999" stroke-width="0.8" stroke-linejoin="round"/>
<path d="M467 114.2 L481.8 113.9 C484 113.6 485.5 110 487.3 109.1 C488.5 108.8 489 110.9 489.9 110.9 C491 110.9 491.5 105 492.3 96.4 C493.3 85 494.2 69 495.2 68.5 C496.2 69 497.3 85 498.3 96 C499 104 499.8 112 500.6 113.8 L519 113.8" fill="none" stroke="#000" stroke-width="1.7" stroke-linejoin="round"/>
<text transform="translate(393 90.4) rotate(-90)" x="0" y="2.59" text-anchor="middle" font-size="7.4" font-weight="bold" textLength="21.4" lengthAdjust="spacingAndGlyphs">Cell #</text>
<text x="411" y="128.4" font-size="7.2" font-weight="bold" textLength="14.8" lengthAdjust="spacingAndGlyphs">CD3</text>
<line x1="429.8" y1="125.8" x2="478.3" y2="125.8" stroke="#000" stroke-width="0.9"/>
<polygon points="481.8,125.8 477.8,123.4 477.8,128.2" fill="#000" stroke="none" stroke-width="1"/>
<text x="0.6" y="166.6" font-size="12.4" font-weight="bold">C</text>
<text x="89.7" y="168.5" font-size="8" font-weight="bold" textLength="107.2" lengthAdjust="spacingAndGlyphs">Day 8 after plasmid injection</text>
<line x1="82" y1="177.3" x2="220.7" y2="177.3" stroke="#000" stroke-width="1"/>
<text x="239.2" y="168.5" font-size="8" font-weight="bold" textLength="113.8" lengthAdjust="spacingAndGlyphs">Week 4 after plasmid injection</text>
<line x1="232.1" y1="176.6" x2="362.7" y2="176.6" stroke="#000" stroke-width="1"/>
<text x="384.2" y="168.5" font-size="8" font-weight="bold" textLength="113.6" lengthAdjust="spacingAndGlyphs">Week 6 after plasmid injection</text>
<line x1="377.6" y1="176.4" x2="508.9" y2="176.4" stroke="#000" stroke-width="1"/>
<text x="29.3" y="200.1" font-size="7.9" font-weight="bold" textLength="21.2" lengthAdjust="spacingAndGlyphs">Naive</text>
<text x="83.6" y="199.5" font-size="7.9" font-weight="bold" textLength="48.5" lengthAdjust="spacingAndGlyphs"><tspan font-style="italic">FVIII</tspan> plasmid</text>
<text x="160.1" y="188.3" font-size="7.9" font-weight="bold" textLength="49.5" lengthAdjust="spacingAndGlyphs"><tspan font-style="italic">FVIII</tspan> plasmid</text>
<text x="159.8" y="198.1" font-size="7.9" font-weight="bold" textLength="37.7" lengthAdjust="spacingAndGlyphs">+anti-CD3</text>
<text x="233.1" y="198.1" font-size="7.9" font-weight="bold" textLength="48.5" lengthAdjust="spacingAndGlyphs"><tspan font-style="italic">FVIII</tspan> plasmid</text>
<text x="306.2" y="188" font-size="7.9" font-weight="bold" textLength="48.8" lengthAdjust="spacingAndGlyphs"><tspan font-style="italic">FVIII</tspan> plasmid</text>
<text x="306" y="197.2" font-size="7.9" font-weight="bold" textLength="37.5" lengthAdjust="spacingAndGlyphs">+anti-CD3</text>
<text x="378.6" y="197.4" font-size="7.9" font-weight="bold" textLength="49.1" lengthAdjust="spacingAndGlyphs"><tspan font-style="italic">FVIII</tspan> plasmid</text>
<text x="451.9" y="187.3" font-size="7.9" font-weight="bold" textLength="48.9" lengthAdjust="spacingAndGlyphs"><tspan font-style="italic">FVIII</tspan> plasmid</text>
<text x="451.9" y="196.6" font-size="7.9" font-weight="bold" textLength="36.8" lengthAdjust="spacingAndGlyphs">+anti-CD3</text>
<text transform="translate(3.9 228.3) rotate(-90)" x="0" y="2.59" text-anchor="middle" font-size="7.4" font-weight="bold" textLength="23" lengthAdjust="spacingAndGlyphs">FoxP3</text>
<text transform="translate(3.8 292.7) rotate(-90)" x="0" y="2.59" text-anchor="middle" font-size="7.4" font-weight="bold" textLength="20.4" lengthAdjust="spacingAndGlyphs">CD25</text>
<text x="18.2" y="334.5" font-size="7.4" font-weight="bold" textLength="15.1" lengthAdjust="spacingAndGlyphs">CD4</text>
<line x1="40.4" y1="333.2" x2="112.2" y2="333.2" stroke="#000" stroke-width="1"/>
<polygon points="116.2,333.2 111.7,330.7 111.7,335.7" fill="#000" stroke="none" stroke-width="1"/>
<rect x="13.6" y="206.5" width="64.7" height="55.5" fill="#fff" stroke="#777" stroke-width="0.7"/>
<path d="M13.6 206.5V262" stroke="#222" stroke-width="0.9" stroke-dasharray="0.8 1.6"/>
<path d="M13.6 262H78.3" stroke="#222" stroke-width="0.9" stroke-dasharray="0.8 1.6"/>
<line x1="13.6" y1="217.6" x2="14.9" y2="217.6" stroke="#333" stroke-width="0.6"/>
<line x1="26.54" y1="262" x2="26.54" y2="260.7" stroke="#333" stroke-width="0.6"/>
<line x1="13.6" y1="228.7" x2="14.9" y2="228.7" stroke="#333" stroke-width="0.6"/>
<line x1="39.48" y1="262" x2="39.48" y2="260.7" stroke="#333" stroke-width="0.6"/>
<line x1="13.6" y1="239.8" x2="14.9" y2="239.8" stroke="#333" stroke-width="0.6"/>
<line x1="52.42" y1="262" x2="52.42" y2="260.7" stroke="#333" stroke-width="0.6"/>
<line x1="13.6" y1="250.9" x2="14.9" y2="250.9" stroke="#333" stroke-width="0.6"/>
<line x1="65.36" y1="262" x2="65.36" y2="260.7" stroke="#333" stroke-width="0.6"/>
<rect x="13.6" y="266.3" width="64.7" height="55.3" fill="#fff" stroke="#777" stroke-width="0.7"/>
<path d="M13.6 266.3V321.6" stroke="#222" stroke-width="0.9" stroke-dasharray="0.8 1.6"/>
<path d="M13.6 321.6H78.3" stroke="#222" stroke-width="0.9" stroke-dasharray="0.8 1.6"/>
<line x1="13.6" y1="277.36" x2="14.9" y2="277.36" stroke="#333" stroke-width="0.6"/>
<line x1="26.54" y1="321.6" x2="26.54" y2="320.3" stroke="#333" stroke-width="0.6"/>
<line x1="13.6" y1="288.42" x2="14.9" y2="288.42" stroke="#333" stroke-width="0.6"/>
<line x1="39.48" y1="321.6" x2="39.48" y2="320.3" stroke="#333" stroke-width="0.6"/>
<line x1="13.6" y1="299.48" x2="14.9" y2="299.48" stroke="#333" stroke-width="0.6"/>
<line x1="52.42" y1="321.6" x2="52.42" y2="320.3" stroke="#333" stroke-width="0.6"/>
<line x1="13.6" y1="310.54" x2="14.9" y2="310.54" stroke="#333" stroke-width="0.6"/>
<line x1="65.36" y1="321.6" x2="65.36" y2="320.3" stroke="#333" stroke-width="0.6"/>
<path d="M57.7 239 C58.2 247 60.4 252.5 62.4 257.5 C64.4 252.5 66.3 247 66.6 239 Z" fill="#c4c4c4" stroke="#333" stroke-width="0.8"/>
<path d="M60.2 241.5 C60.7 247 61.4 250.5 62.4 252.5 C63.4 250.5 64.1 247 64.1 241.5 Z" fill="#eee" stroke="#555" stroke-width="0.6"/>
<path d="M62.4 245.5h1.4v1.4h-1.4z" fill="#333"/>
<path d="M60.45 247.49h0.7v0.7h-0.7zM66.53 240.47h0.7v0.7h-0.7zM63.47 236.89h0.7v0.7h-0.7zM66.72 244.6h0.7v0.7h-0.7zM60.05 251.89h0.7v0.7h-0.7zM61.83 251.16h0.7v0.7h-0.7zM65.37 252.46h0.7v0.7h-0.7zM59.75 245.26h0.7v0.7h-0.7zM63.25 244.13h0.7v0.7h-0.7zM66.72 241.79h0.7v0.7h-0.7zM65.16 251.13h0.7v0.7h-0.7zM56.29 240.64h0.7v0.7h-0.7zM59.44 242.54h0.7v0.7h-0.7zM63.32 244.22h0.7v0.7h-0.7zM62.39 242.93h0.7v0.7h-0.7zM61.9 247.18h0.7v0.7h-0.7zM64.39 241.48h0.7v0.7h-0.7zM61.81 241.57h0.7v0.7h-0.7zM61.61 238.54h0.7v0.7h-0.7zM65.01 248.02h0.7v0.7h-0.7zM61.78 241.92h0.7v0.7h-0.7zM60.78 242.01h0.7v0.7h-0.7zM57.52 252.35h0.7v0.7h-0.7zM72.02 239.47h0.7v0.7h-0.7zM58.65 247.6h0.7v0.7h-0.7zM63.97 237.92h0.7v0.7h-0.7zM56.39 247.44h0.7v0.7h-0.7zM56.18 251.4h0.7v0.7h-0.7zM60.66 245.38h0.7v0.7h-0.7zM62.14 242.48h0.7v0.7h-0.7zM61.72 243.65h0.7v0.7h-0.7zM65.88 244.59h0.7v0.7h-0.7zM62.05 242.62h0.7v0.7h-0.7zM60.25 241.69h0.7v0.7h-0.7zM62.18 253.27h0.7v0.7h-0.7z" fill="#666"/>
<path d="M57.37 242.97h0.8v0.8h-0.8zM58.2 244.53h0.8v0.8h-0.8zM56.01 242.17h0.8v0.8h-0.8zM54.05 243h0.8v0.8h-0.8zM55.23 239.33h0.8v0.8h-0.8zM53.77 246.37h0.8v0.8h-0.8zM56.02 243.5h0.8v0.8h-0.8zM56 241.57h0.8v0.8h-0.8zM56.39 244.67h0.8v0.8h-0.8zM55.24 243.52h0.8v0.8h-0.8zM57.24 241.53h0.8v0.8h-0.8zM55.95 241.02h0.8v0.8h-0.8zM56.6 241.76h0.8v0.8h-0.8zM57.42 240.97h0.8v0.8h-0.8zM58.23 241.88h0.8v0.8h-0.8zM54.44 240.69h0.8v0.8h-0.8zM56.69 240.79h0.8v0.8h-0.8zM58.41 245.06h0.8v0.8h-0.8zM56.48 239.66h0.8v0.8h-0.8zM55.66 241.05h0.8v0.8h-0.8zM52.98 243.35h0.8v0.8h-0.8zM59 241.43h0.8v0.8h-0.8zM56.91 245.07h0.8v0.8h-0.8zM54.26 241.82h0.8v0.8h-0.8zM56.1 243.44h0.8v0.8h-0.8zM53.98 242.93h0.8v0.8h-0.8zM55.54 244.4h0.8v0.8h-0.8zM53.3 241.37h0.8v0.8h-0.8zM54.94 241.87h0.8v0.8h-0.8zM56.78 241.24h0.8v0.8h-0.8zM59.81 241.09h0.8v0.8h-0.8zM56.96 244.54h0.8v0.8h-0.8zM57.15 242.09h0.8v0.8h-0.8zM54.46 241.99h0.8v0.8h-0.8zM56.7 242.74h0.8v0.8h-0.8zM56.57 243.65h0.8v0.8h-0.8zM54.37 240.63h0.8v0.8h-0.8zM57.86 241.53h0.8v0.8h-0.8zM53.32 246.22h0.8v0.8h-0.8zM54.45 240.63h0.8v0.8h-0.8z" fill="#555"/>
<ellipse cx="60.3" cy="233.5" rx="5" ry="3.8" fill="#8a8a8a" stroke="#333" stroke-width="0.8"/>
<ellipse cx="60.6" cy="233.8" rx="2.25" ry="1.71" fill="#bbb" stroke="#555" stroke-width="0.5"/>
<path d="M63.2 230.92h0.7v0.7h-0.7zM57.69 235.89h0.7v0.7h-0.7zM57.84 239.22h0.7v0.7h-0.7zM60.59 239.62h0.7v0.7h-0.7zM60.69 233.63h0.7v0.7h-0.7zM58.38 232.99h0.7v0.7h-0.7zM58.8 233.45h0.7v0.7h-0.7zM62.62 230.6h0.7v0.7h-0.7zM57.55 228.73h0.7v0.7h-0.7zM64.81 233.33h0.7v0.7h-0.7zM60.26 233.37h0.7v0.7h-0.7zM63.31 234.23h0.7v0.7h-0.7zM62.85 233.12h0.7v0.7h-0.7zM59.94 233.37h0.7v0.7h-0.7zM54.71 235.98h0.7v0.7h-0.7zM55.57 231.23h0.7v0.7h-0.7zM62.31 233.63h0.7v0.7h-0.7zM62.74 237.39h0.7v0.7h-0.7zM65.89 236.65h0.7v0.7h-0.7zM59.62 238.17h0.7v0.7h-0.7zM57.66 233.3h0.7v0.7h-0.7zM63.29 233.01h0.7v0.7h-0.7zM59.94 232.7h0.7v0.7h-0.7zM64.39 227.87h0.7v0.7h-0.7zM64.12 235.92h0.7v0.7h-0.7z" fill="#555"/>
<rect x="51.1" y="226.1" width="19.3" height="12.1" fill="none" stroke="#222" stroke-width="0.9"/>
<text x="51.5" y="221.4" font-size="7.4" textLength="13.5" lengthAdjust="spacingAndGlyphs">13.0</text>
<line x1="49.2" y1="235.3" x2="49.2" y2="270.6" stroke="#000" stroke-width="0.9"/>
<polygon points="49.2,274.6 46.4,270.1 52,270.1" fill="#000" stroke="none" stroke-width="1"/>
<rect x="51.4" y="279.3" width="16.3" height="41.9" fill="#ddd" fill-opacity="0.35"/>
<path d="M59.33 287.48h0.7v0.7h-0.7zM56.64 289.65h0.7v0.7h-0.7zM63.74 285.03h0.7v0.7h-0.7zM58.54 283.32h0.7v0.7h-0.7zM58.98 280.29h0.7v0.7h-0.7zM59.5 287.44h0.7v0.7h-0.7zM60.48 287.14h0.7v0.7h-0.7zM54.97 281.49h0.7v0.7h-0.7zM61.45 289.21h0.7v0.7h-0.7zM56.12 282.96h0.7v0.7h-0.7zM56.34 287.84h0.7v0.7h-0.7zM60.58 285.38h0.7v0.7h-0.7zM57.6 286.61h0.7v0.7h-0.7zM59.65 282.3h0.7v0.7h-0.7zM60.55 282.61h0.7v0.7h-0.7zM62.41 287.73h0.7v0.7h-0.7zM57.49 287.58h0.7v0.7h-0.7zM59.75 282.45h0.7v0.7h-0.7zM56.16 286.63h0.7v0.7h-0.7zM63.17 282.76h0.7v0.7h-0.7zM60.03 286.62h0.7v0.7h-0.7zM61.89 287.01h0.7v0.7h-0.7zM63.23 288.29h0.7v0.7h-0.7zM57.26 286.82h0.7v0.7h-0.7zM52.52 284.54h0.7v0.7h-0.7zM59.61 287.55h0.7v0.7h-0.7zM58.64 288.55h0.7v0.7h-0.7zM63.51 281.92h0.7v0.7h-0.7zM57.92 286.28h0.7v0.7h-0.7zM61.02 285.82h0.7v0.7h-0.7zM62.04 280.56h0.7v0.7h-0.7zM61.88 289.88h0.7v0.7h-0.7zM62.88 286.94h0.7v0.7h-0.7zM58.84 286.84h0.7v0.7h-0.7zM57.73 285.09h0.7v0.7h-0.7zM58 281.55h0.7v0.7h-0.7zM58.85 283.78h0.7v0.7h-0.7zM59.76 285.06h0.7v0.7h-0.7zM60.07 289.19h0.7v0.7h-0.7zM59.96 286.86h0.7v0.7h-0.7zM58.35 287.94h0.7v0.7h-0.7zM58.53 282.78h0.7v0.7h-0.7zM55.83 288.79h0.7v0.7h-0.7zM57.97 286.22h0.7v0.7h-0.7zM62.94 287.38h0.7v0.7h-0.7zM66.28 284.72h0.7v0.7h-0.7zM62.42 288h0.7v0.7h-0.7zM57.58 285.44h0.7v0.7h-0.7zM57.86 281.19h0.7v0.7h-0.7zM60.45 282.18h0.7v0.7h-0.7zM64.59 282.31h0.7v0.7h-0.7zM57.92 285.61h0.7v0.7h-0.7zM57.99 285.46h0.7v0.7h-0.7zM57.73 279.61h0.7v0.7h-0.7zM52.31 280.13h0.7v0.7h-0.7zM64.11 287.01h0.7v0.7h-0.7zM60.01 283.41h0.7v0.7h-0.7zM59.11 286.44h0.7v0.7h-0.7zM55.38 282.08h0.7v0.7h-0.7zM56.88 290.24h0.7v0.7h-0.7zM56.38 289.9h0.7v0.7h-0.7zM59.31 285.38h0.7v0.7h-0.7zM63.6 288.72h0.7v0.7h-0.7zM62.37 281.01h0.7v0.7h-0.7zM59.24 283.33h0.7v0.7h-0.7zM56.28 289.29h0.7v0.7h-0.7zM60.43 285.28h0.7v0.7h-0.7zM62.18 285.17h0.7v0.7h-0.7zM63.98 281.48h0.7v0.7h-0.7zM62.19 281.29h0.7v0.7h-0.7zM63.78 284.16h0.7v0.7h-0.7zM63.22 283.6h0.7v0.7h-0.7zM60.75 289.78h0.7v0.7h-0.7zM56.84 285.63h0.7v0.7h-0.7zM57.04 288.63h0.7v0.7h-0.7zM57.74 283.77h0.7v0.7h-0.7zM58.94 289.87h0.7v0.7h-0.7zM56.43 285.15h0.7v0.7h-0.7zM58.56 283.07h0.7v0.7h-0.7zM57.19 284.62h0.7v0.7h-0.7zM60.25 280.55h0.7v0.7h-0.7zM56.65 284.99h0.7v0.7h-0.7zM58.79 289.14h0.7v0.7h-0.7zM54.72 285.95h0.7v0.7h-0.7zM60.31 289.48h0.7v0.7h-0.7zM57.94 287.89h0.7v0.7h-0.7zM56.36 290.39h0.7v0.7h-0.7zM59.34 282.56h0.7v0.7h-0.7zM57.01 280.33h0.7v0.7h-0.7zM56.5 280.67h0.7v0.7h-0.7z" fill="#555"/>
<path d="M59.4 298.11h0.7v0.7h-0.7zM59.06 297.54h0.7v0.7h-0.7zM63.11 295.72h0.7v0.7h-0.7zM60.28 294.26h0.7v0.7h-0.7zM58.8 298.33h0.7v0.7h-0.7zM56.68 297.08h0.7v0.7h-0.7zM59.12 301.08h0.7v0.7h-0.7zM56.64 298.25h0.7v0.7h-0.7zM60.26 298.8h0.7v0.7h-0.7zM61.17 294.12h0.7v0.7h-0.7zM57.79 297.88h0.7v0.7h-0.7zM59.96 293.22h0.7v0.7h-0.7zM56.75 298.19h0.7v0.7h-0.7zM57.65 295.18h0.7v0.7h-0.7zM62.51 297.27h0.7v0.7h-0.7zM59.22 297.18h0.7v0.7h-0.7zM56.03 301.36h0.7v0.7h-0.7zM58.18 295.1h0.7v0.7h-0.7zM64.01 297.51h0.7v0.7h-0.7zM57.63 294.8h0.7v0.7h-0.7zM61.39 295.33h0.7v0.7h-0.7zM56.19 294.29h0.7v0.7h-0.7zM59.19 297.71h0.7v0.7h-0.7zM57.58 301.58h0.7v0.7h-0.7zM56.68 294.13h0.7v0.7h-0.7zM61.04 298.6h0.7v0.7h-0.7zM58.38 300.39h0.7v0.7h-0.7zM58.95 297.52h0.7v0.7h-0.7zM62.32 298.02h0.7v0.7h-0.7zM56.72 295.69h0.7v0.7h-0.7zM59.98 295.13h0.7v0.7h-0.7zM62.36 299.05h0.7v0.7h-0.7zM59.6 297.04h0.7v0.7h-0.7zM60.64 297.7h0.7v0.7h-0.7zM57.38 299.72h0.7v0.7h-0.7zM57.07 296.65h0.7v0.7h-0.7zM58.48 292.5h0.7v0.7h-0.7zM61.36 296.54h0.7v0.7h-0.7zM56.06 296.51h0.7v0.7h-0.7zM57.85 299.43h0.7v0.7h-0.7zM56.65 293.63h0.7v0.7h-0.7zM59.28 298.33h0.7v0.7h-0.7zM62.32 295.8h0.7v0.7h-0.7zM62.85 300.39h0.7v0.7h-0.7zM56.93 296.14h0.7v0.7h-0.7zM57.9 300.09h0.7v0.7h-0.7zM62.29 295.85h0.7v0.7h-0.7zM58.09 298.08h0.7v0.7h-0.7zM57.23 292.09h0.7v0.7h-0.7zM56.66 298.06h0.7v0.7h-0.7zM54.09 298.67h0.7v0.7h-0.7zM56.1 301.09h0.7v0.7h-0.7zM61.63 297.27h0.7v0.7h-0.7zM63.95 295.41h0.7v0.7h-0.7zM57.97 292.89h0.7v0.7h-0.7zM57.59 297.23h0.7v0.7h-0.7zM61.56 301.56h0.7v0.7h-0.7zM58.75 294.09h0.7v0.7h-0.7zM58.55 295.21h0.7v0.7h-0.7zM58.15 295.31h0.7v0.7h-0.7z" fill="#666"/>
<path d="M56.95 311.99h0.7v0.7h-0.7zM58.02 311.3h0.7v0.7h-0.7zM55.42 313.16h0.7v0.7h-0.7zM61.26 316.12h0.7v0.7h-0.7zM57.91 305.58h0.7v0.7h-0.7zM55.67 305.39h0.7v0.7h-0.7zM57.63 310.47h0.7v0.7h-0.7zM54.27 316.25h0.7v0.7h-0.7zM54.97 308.26h0.7v0.7h-0.7zM57.4 317.18h0.7v0.7h-0.7zM65.03 310.22h0.7v0.7h-0.7zM58.73 309.99h0.7v0.7h-0.7zM58.96 311.3h0.7v0.7h-0.7zM66.89 305.9h0.7v0.7h-0.7zM59.23 307.66h0.7v0.7h-0.7zM60.61 309.25h0.7v0.7h-0.7zM61.26 305.95h0.7v0.7h-0.7zM65.83 313.53h0.7v0.7h-0.7zM54.3 316.41h0.7v0.7h-0.7zM58.15 305.52h0.7v0.7h-0.7zM60.86 309.26h0.7v0.7h-0.7zM61.74 309.09h0.7v0.7h-0.7zM62.23 313.18h0.7v0.7h-0.7zM60.61 313.23h0.7v0.7h-0.7zM58.47 310.18h0.7v0.7h-0.7zM60.89 316.46h0.7v0.7h-0.7zM64.57 305.59h0.7v0.7h-0.7zM62.77 311.89h0.7v0.7h-0.7zM60.24 307.68h0.7v0.7h-0.7zM64.45 307.48h0.7v0.7h-0.7zM59.31 308.06h0.7v0.7h-0.7zM65.28 319.64h0.7v0.7h-0.7zM55.64 309.67h0.7v0.7h-0.7zM60.63 309.78h0.7v0.7h-0.7zM58.5 306.01h0.7v0.7h-0.7zM60.29 305.92h0.7v0.7h-0.7zM60.66 308.39h0.7v0.7h-0.7zM58.53 306.69h0.7v0.7h-0.7zM59.89 316.4h0.7v0.7h-0.7zM62.31 310.68h0.7v0.7h-0.7zM56.02 311.87h0.7v0.7h-0.7zM64.5 313.95h0.7v0.7h-0.7zM58.27 315.49h0.7v0.7h-0.7zM56.75 320.18h0.7v0.7h-0.7zM57.88 307.23h0.7v0.7h-0.7zM57.84 311.77h0.7v0.7h-0.7zM62.51 309.02h0.7v0.7h-0.7zM54.28 311.85h0.7v0.7h-0.7zM61.55 314.96h0.7v0.7h-0.7zM57.28 307.17h0.7v0.7h-0.7zM56.73 317.75h0.7v0.7h-0.7zM60.2 318.53h0.7v0.7h-0.7zM64.92 312.43h0.7v0.7h-0.7zM55.7 309.71h0.7v0.7h-0.7zM58.46 310.11h0.7v0.7h-0.7zM59.97 307.44h0.7v0.7h-0.7zM62.98 304.38h0.7v0.7h-0.7zM55.41 315.74h0.7v0.7h-0.7zM61.41 311.18h0.7v0.7h-0.7zM62.04 315.92h0.7v0.7h-0.7z" fill="#888"/>
<rect x="51.4" y="279.3" width="16.3" height="11.9" fill="none" stroke="#222" stroke-width="0.9"/>
<rect x="51.4" y="291.2" width="16.3" height="11.2" fill="none" stroke="#222" stroke-width="0.9"/>
<rect x="51.4" y="303.4" width="16.3" height="17.8" fill="none" stroke="#222" stroke-width="0.9"/>
<text x="49" y="290.1" font-size="7.4" text-anchor="end">45.8</text>
<text x="49" y="302.8" font-size="7.4" text-anchor="end">33.3</text>
<text x="35.3" y="316.9" font-size="7.4" textLength="7.1" lengthAdjust="spacingAndGlyphs">11</text>
<rect x="83" y="206.6" width="65.5" height="55.2" fill="#fff" stroke="#777" stroke-width="0.7"/>
<path d="M83 206.6V261.8" stroke="#222" stroke-width="0.9" stroke-dasharray="0.8 1.6"/>
<path d="M83 261.8H148.5" stroke="#222" stroke-width="0.9" stroke-dasharray="0.8 1.6"/>
<line x1="83" y1="217.64" x2="84.3" y2="217.64" stroke="#333" stroke-width="0.6"/>
<line x1="96.1" y1="261.8" x2="96.1" y2="260.5" stroke="#333" stroke-width="0.6"/>
<line x1="83" y1="228.68" x2="84.3" y2="228.68" stroke="#333" stroke-width="0.6"/>
<line x1="109.2" y1="261.8" x2="109.2" y2="260.5" stroke="#333" stroke-width="0.6"/>
<line x1="83" y1="239.72" x2="84.3" y2="239.72" stroke="#333" stroke-width="0.6"/>
<line x1="122.3" y1="261.8" x2="122.3" y2="260.5" stroke="#333" stroke-width="0.6"/>
<line x1="83" y1="250.76" x2="84.3" y2="250.76" stroke="#333" stroke-width="0.6"/>
<line x1="135.4" y1="261.8" x2="135.4" y2="260.5" stroke="#333" stroke-width="0.6"/>
<rect x="83" y="265.3" width="65.5" height="55.9" fill="#fff" stroke="#777" stroke-width="0.7"/>
<path d="M83 265.3V321.2" stroke="#222" stroke-width="0.9" stroke-dasharray="0.8 1.6"/>
<path d="M83 321.2H148.5" stroke="#222" stroke-width="0.9" stroke-dasharray="0.8 1.6"/>
<line x1="83" y1="276.48" x2="84.3" y2="276.48" stroke="#333" stroke-width="0.6"/>
<line x1="96.1" y1="321.2" x2="96.1" y2="319.9" stroke="#333" stroke-width="0.6"/>
<line x1="83" y1="287.66" x2="84.3" y2="287.66" stroke="#333" stroke-width="0.6"/>
<line x1="109.2" y1="321.2" x2="109.2" y2="319.9" stroke="#333" stroke-width="0.6"/>
<line x1="83" y1="298.84" x2="84.3" y2="298.84" stroke="#333" stroke-width="0.6"/>
<line x1="122.3" y1="321.2" x2="122.3" y2="319.9" stroke="#333" stroke-width="0.6"/>
<line x1="83" y1="310.02" x2="84.3" y2="310.02" stroke="#333" stroke-width="0.6"/>
<line x1="135.4" y1="321.2" x2="135.4" y2="319.9" stroke="#333" stroke-width="0.6"/>
<path d="M126.6 238 C127.1 246 129.9 252.5 131.9 257.5 C133.9 252.5 137.4 246 137.7 238 Z" fill="#c4c4c4" stroke="#333" stroke-width="0.8"/>
<path d="M129.1 240.5 C129.6 246 130.9 250.5 131.9 252.5 C132.9 250.5 135.2 246 135.2 240.5 Z" fill="#eee" stroke="#555" stroke-width="0.6"/>
<path d="M131.9 244.5h1.4v1.4h-1.4z" fill="#333"/>
<path d="M130.45 243.85h0.7v0.7h-0.7zM133.23 252.88h0.7v0.7h-0.7zM130.85 245.65h0.7v0.7h-0.7zM133.76 249.39h0.7v0.7h-0.7zM133.4 248.75h0.7v0.7h-0.7zM129.01 242.86h0.7v0.7h-0.7zM126.44 243.8h0.7v0.7h-0.7zM139.03 245.09h0.7v0.7h-0.7zM132.41 245.19h0.7v0.7h-0.7zM132.58 238.19h0.7v0.7h-0.7zM130.11 243.26h0.7v0.7h-0.7zM132.65 240.22h0.7v0.7h-0.7zM131.84 240.79h0.7v0.7h-0.7zM128.26 241.13h0.7v0.7h-0.7zM129.78 247.71h0.7v0.7h-0.7zM136.1 246.58h0.7v0.7h-0.7zM131.53 241.58h0.7v0.7h-0.7zM127.52 241.71h0.7v0.7h-0.7zM136.76 249.1h0.7v0.7h-0.7zM132.81 242.95h0.7v0.7h-0.7zM132.16 245.89h0.7v0.7h-0.7zM132.13 245.91h0.7v0.7h-0.7zM129.88 244.23h0.7v0.7h-0.7zM131.12 248.76h0.7v0.7h-0.7zM128.49 249.73h0.7v0.7h-0.7zM131.9 241.82h0.7v0.7h-0.7zM132.21 244.57h0.7v0.7h-0.7zM131.46 245.89h0.7v0.7h-0.7zM130.45 236.59h0.7v0.7h-0.7zM134.2 243.92h0.7v0.7h-0.7zM137.06 245.73h0.7v0.7h-0.7zM126.25 249.48h0.7v0.7h-0.7zM130.12 246.44h0.7v0.7h-0.7zM138.7 248.82h0.7v0.7h-0.7zM128.93 243.63h0.7v0.7h-0.7z" fill="#666"/>
<path d="M122.23 242.82h0.8v0.8h-0.8zM125.43 239.51h0.8v0.8h-0.8zM125.27 243.34h0.8v0.8h-0.8zM125.79 240.21h0.8v0.8h-0.8zM123.58 239.33h0.8v0.8h-0.8zM122.7 242.13h0.8v0.8h-0.8zM124.66 244.05h0.8v0.8h-0.8zM125 240.89h0.8v0.8h-0.8zM122.5 244.52h0.8v0.8h-0.8zM124.84 241.46h0.8v0.8h-0.8zM123.12 239.47h0.8v0.8h-0.8zM125.53 239.62h0.8v0.8h-0.8zM125.46 242.74h0.8v0.8h-0.8zM124.04 238.36h0.8v0.8h-0.8zM125.21 244.25h0.8v0.8h-0.8zM123.39 239.06h0.8v0.8h-0.8zM126.2 241.8h0.8v0.8h-0.8zM123.68 243.9h0.8v0.8h-0.8zM124.19 242.4h0.8v0.8h-0.8zM124.01 240.06h0.8v0.8h-0.8zM124.92 239.85h0.8v0.8h-0.8zM121.99 240.47h0.8v0.8h-0.8zM126.42 243.65h0.8v0.8h-0.8zM127.8 243.45h0.8v0.8h-0.8zM126.98 242.01h0.8v0.8h-0.8zM123.96 242.42h0.8v0.8h-0.8zM123.2 242.95h0.8v0.8h-0.8zM123.94 242.02h0.8v0.8h-0.8zM123.35 241.26h0.8v0.8h-0.8zM126.04 241.1h0.8v0.8h-0.8zM123.61 242.07h0.8v0.8h-0.8zM125.9 241.16h0.8v0.8h-0.8zM122.88 238.49h0.8v0.8h-0.8zM122.63 243.59h0.8v0.8h-0.8zM124.47 242.45h0.8v0.8h-0.8zM126.18 242.07h0.8v0.8h-0.8zM125.31 240.54h0.8v0.8h-0.8zM122.23 242.74h0.8v0.8h-0.8zM124.46 242.64h0.8v0.8h-0.8zM123.03 241.25h0.8v0.8h-0.8z" fill="#555"/>
<ellipse cx="129.7" cy="231.3" rx="5.5" ry="4.5" fill="#8a8a8a" stroke="#333" stroke-width="0.8"/>
<ellipse cx="130" cy="231.6" rx="2.48" ry="2.02" fill="#bbb" stroke="#555" stroke-width="0.5"/>
<path d="M136.22 229.13h0.7v0.7h-0.7zM130.02 234.75h0.7v0.7h-0.7zM128.95 231.66h0.7v0.7h-0.7zM122.81 233.36h0.7v0.7h-0.7zM128.27 234.69h0.7v0.7h-0.7zM129.41 230.36h0.7v0.7h-0.7zM131.11 230.7h0.7v0.7h-0.7zM128.03 235.36h0.7v0.7h-0.7zM132.88 231.62h0.7v0.7h-0.7zM132.32 233.48h0.7v0.7h-0.7zM131.58 231.45h0.7v0.7h-0.7zM129.93 232.4h0.7v0.7h-0.7zM131.53 232.26h0.7v0.7h-0.7zM127.92 231.14h0.7v0.7h-0.7zM131.18 228.77h0.7v0.7h-0.7zM129.67 233.3h0.7v0.7h-0.7zM130.25 230.59h0.7v0.7h-0.7zM129.63 230.08h0.7v0.7h-0.7zM132.88 230.36h0.7v0.7h-0.7zM124.32 228.2h0.7v0.7h-0.7zM130.67 231.88h0.7v0.7h-0.7zM128.17 227.93h0.7v0.7h-0.7zM129.22 229.16h0.7v0.7h-0.7zM127.58 231.33h0.7v0.7h-0.7zM127.22 232.15h0.7v0.7h-0.7z" fill="#555"/>
<rect x="120.3" y="224.4" width="19.1" height="12.3" fill="none" stroke="#222" stroke-width="0.9"/>
<text x="124.4" y="221" font-size="7.4" textLength="13.2" lengthAdjust="spacingAndGlyphs">12.2</text>
<line x1="118.4" y1="235.3" x2="118.4" y2="270.3" stroke="#000" stroke-width="0.9"/>
<polygon points="118.4,274.3 115.6,269.8 121.2,269.8" fill="#000" stroke="none" stroke-width="1"/>
<rect x="121.4" y="279.4" width="16.8" height="41" fill="#ddd" fill-opacity="0.35"/>
<path d="M127.63 283.92h0.7v0.7h-0.7zM134.43 289.65h0.7v0.7h-0.7zM127.64 285.83h0.7v0.7h-0.7zM132.48 289.09h0.7v0.7h-0.7zM125.02 285.59h0.7v0.7h-0.7zM127.63 288.86h0.7v0.7h-0.7zM131.67 283.63h0.7v0.7h-0.7zM136.09 284.69h0.7v0.7h-0.7zM136.97 285.13h0.7v0.7h-0.7zM128.25 283.9h0.7v0.7h-0.7zM134.13 285.65h0.7v0.7h-0.7zM131.2 280.72h0.7v0.7h-0.7zM135.05 289.8h0.7v0.7h-0.7zM130.85 288.68h0.7v0.7h-0.7zM128.33 283.9h0.7v0.7h-0.7zM125.19 287.31h0.7v0.7h-0.7zM133.43 289.28h0.7v0.7h-0.7zM132.5 288.69h0.7v0.7h-0.7zM127.1 280.54h0.7v0.7h-0.7zM131.68 286.49h0.7v0.7h-0.7zM132.69 284.71h0.7v0.7h-0.7zM127.21 287.62h0.7v0.7h-0.7zM128.01 282.27h0.7v0.7h-0.7zM126.53 283.59h0.7v0.7h-0.7zM134.87 284.14h0.7v0.7h-0.7zM133.15 285.53h0.7v0.7h-0.7zM130.98 283.09h0.7v0.7h-0.7zM135.06 282.73h0.7v0.7h-0.7zM131.52 283.45h0.7v0.7h-0.7zM130.59 281.07h0.7v0.7h-0.7zM128.7 289.5h0.7v0.7h-0.7zM132.3 280.53h0.7v0.7h-0.7zM130.64 287.91h0.7v0.7h-0.7zM127.92 284.54h0.7v0.7h-0.7zM129.08 287.43h0.7v0.7h-0.7zM129.03 288.91h0.7v0.7h-0.7zM129.43 286.16h0.7v0.7h-0.7zM127.1 287.38h0.7v0.7h-0.7zM135.75 286.42h0.7v0.7h-0.7zM129.74 285.84h0.7v0.7h-0.7zM131.89 285h0.7v0.7h-0.7zM129.79 286.69h0.7v0.7h-0.7zM133.63 289.65h0.7v0.7h-0.7zM126.71 283.28h0.7v0.7h-0.7zM129.86 289.23h0.7v0.7h-0.7zM132.64 284.99h0.7v0.7h-0.7zM136.05 285.16h0.7v0.7h-0.7zM134.49 286.63h0.7v0.7h-0.7zM124.57 283.36h0.7v0.7h-0.7zM131.91 290.1h0.7v0.7h-0.7zM129.5 290h0.7v0.7h-0.7zM125.13 282.49h0.7v0.7h-0.7zM126.99 281.62h0.7v0.7h-0.7zM134.64 282.1h0.7v0.7h-0.7zM127.37 284.22h0.7v0.7h-0.7zM132.4 283.96h0.7v0.7h-0.7zM131.96 288.03h0.7v0.7h-0.7zM127.11 280.8h0.7v0.7h-0.7zM134.61 282.93h0.7v0.7h-0.7zM126.65 287.33h0.7v0.7h-0.7zM129.96 282.06h0.7v0.7h-0.7zM133.02 289.5h0.7v0.7h-0.7zM130.62 282.77h0.7v0.7h-0.7zM130.93 287.39h0.7v0.7h-0.7zM127.1 285.92h0.7v0.7h-0.7zM124.78 288.27h0.7v0.7h-0.7zM128.55 283.83h0.7v0.7h-0.7zM131.63 285.29h0.7v0.7h-0.7zM132.72 287.89h0.7v0.7h-0.7zM133.21 286.29h0.7v0.7h-0.7zM123.46 291.27h0.7v0.7h-0.7zM124.8 290.01h0.7v0.7h-0.7zM130.54 280.22h0.7v0.7h-0.7zM130 289.35h0.7v0.7h-0.7zM126.8 285.98h0.7v0.7h-0.7zM127.63 281.77h0.7v0.7h-0.7zM127.98 290.94h0.7v0.7h-0.7zM131.82 285.69h0.7v0.7h-0.7zM129.56 286.32h0.7v0.7h-0.7zM130.64 286.54h0.7v0.7h-0.7zM124.75 289.5h0.7v0.7h-0.7zM131.87 280.95h0.7v0.7h-0.7zM129.38 285.42h0.7v0.7h-0.7zM128.06 287.95h0.7v0.7h-0.7zM129 284.68h0.7v0.7h-0.7zM126.99 284.67h0.7v0.7h-0.7zM126.75 285.97h0.7v0.7h-0.7zM133.7 289.86h0.7v0.7h-0.7zM131.06 280.32h0.7v0.7h-0.7zM132.83 289.56h0.7v0.7h-0.7z" fill="#555"/>
<path d="M129.85 296.44h0.7v0.7h-0.7zM133.01 293.83h0.7v0.7h-0.7zM127.98 299.65h0.7v0.7h-0.7zM130.09 292.53h0.7v0.7h-0.7zM127.95 301.51h0.7v0.7h-0.7zM133.29 295.5h0.7v0.7h-0.7zM133.12 295.12h0.7v0.7h-0.7zM130.53 297.51h0.7v0.7h-0.7zM126.12 298.7h0.7v0.7h-0.7zM127.36 294.65h0.7v0.7h-0.7zM127.34 294.2h0.7v0.7h-0.7zM132.43 297.83h0.7v0.7h-0.7zM130.55 296.66h0.7v0.7h-0.7zM129.99 296.67h0.7v0.7h-0.7zM130.02 301.1h0.7v0.7h-0.7zM125.77 296.66h0.7v0.7h-0.7zM127.98 301.85h0.7v0.7h-0.7zM134.8 295.77h0.7v0.7h-0.7zM131.96 296.73h0.7v0.7h-0.7zM126.85 297.19h0.7v0.7h-0.7zM131.54 301.69h0.7v0.7h-0.7zM132.17 297.89h0.7v0.7h-0.7zM122.77 297.92h0.7v0.7h-0.7zM126.78 300.31h0.7v0.7h-0.7zM130.78 296.97h0.7v0.7h-0.7zM128.96 299.41h0.7v0.7h-0.7zM131.5 299.85h0.7v0.7h-0.7zM128.6 292.99h0.7v0.7h-0.7zM133.69 302.08h0.7v0.7h-0.7zM128.13 297.46h0.7v0.7h-0.7zM130.6 295.12h0.7v0.7h-0.7zM135.83 297.6h0.7v0.7h-0.7zM130.43 296.09h0.7v0.7h-0.7zM126.02 292.43h0.7v0.7h-0.7zM132.46 297.24h0.7v0.7h-0.7zM127.6 296.36h0.7v0.7h-0.7zM129.76 302.1h0.7v0.7h-0.7zM131.51 295.81h0.7v0.7h-0.7zM128.34 292.41h0.7v0.7h-0.7zM133.55 301.92h0.7v0.7h-0.7zM130.06 294.46h0.7v0.7h-0.7zM131.79 299.26h0.7v0.7h-0.7zM130.26 293.51h0.7v0.7h-0.7zM130.51 295.59h0.7v0.7h-0.7zM131.98 299.64h0.7v0.7h-0.7zM131.1 296.07h0.7v0.7h-0.7zM134.29 300.25h0.7v0.7h-0.7zM133.54 300.48h0.7v0.7h-0.7zM131.76 298.92h0.7v0.7h-0.7zM127.04 299.69h0.7v0.7h-0.7zM132.49 298.19h0.7v0.7h-0.7zM125.24 296.43h0.7v0.7h-0.7zM131.86 300.12h0.7v0.7h-0.7zM129.15 300.4h0.7v0.7h-0.7zM129.66 295.03h0.7v0.7h-0.7zM128.69 300.18h0.7v0.7h-0.7zM132.61 293.64h0.7v0.7h-0.7zM126.89 297.98h0.7v0.7h-0.7zM136.06 293.48h0.7v0.7h-0.7zM126.11 299.01h0.7v0.7h-0.7z" fill="#666"/>
<path d="M131.3 308.31h0.7v0.7h-0.7zM129.72 314.4h0.7v0.7h-0.7zM124.67 311.58h0.7v0.7h-0.7zM131.57 316.84h0.7v0.7h-0.7zM133.23 311.31h0.7v0.7h-0.7zM125.56 319.17h0.7v0.7h-0.7zM132.07 308.17h0.7v0.7h-0.7zM132.85 317.48h0.7v0.7h-0.7zM128.42 307.5h0.7v0.7h-0.7zM127.34 311.25h0.7v0.7h-0.7zM126.62 313.87h0.7v0.7h-0.7zM135.36 305.09h0.7v0.7h-0.7zM132.86 308.75h0.7v0.7h-0.7zM131.4 311h0.7v0.7h-0.7zM133.57 307.75h0.7v0.7h-0.7zM131.96 307.4h0.7v0.7h-0.7zM130.47 311.63h0.7v0.7h-0.7zM125.83 319.44h0.7v0.7h-0.7zM126.77 312.88h0.7v0.7h-0.7zM129.65 309.21h0.7v0.7h-0.7zM131.9 311.14h0.7v0.7h-0.7zM127.6 315.94h0.7v0.7h-0.7zM124.21 306.06h0.7v0.7h-0.7zM133.8 308.92h0.7v0.7h-0.7zM128.85 313.77h0.7v0.7h-0.7zM133.09 314.64h0.7v0.7h-0.7zM126.97 308.55h0.7v0.7h-0.7zM132.88 311.04h0.7v0.7h-0.7zM127.95 316.56h0.7v0.7h-0.7zM126.64 307.77h0.7v0.7h-0.7zM127.77 313.68h0.7v0.7h-0.7zM128.4 317.9h0.7v0.7h-0.7zM121.92 317.05h0.7v0.7h-0.7zM127.92 310.18h0.7v0.7h-0.7zM131.47 312.83h0.7v0.7h-0.7zM131.49 308.97h0.7v0.7h-0.7zM130.41 305.55h0.7v0.7h-0.7zM126.2 310.03h0.7v0.7h-0.7zM130.87 312.27h0.7v0.7h-0.7zM127.53 304h0.7v0.7h-0.7zM130.88 307.25h0.7v0.7h-0.7zM133.28 314.71h0.7v0.7h-0.7zM128.59 308.29h0.7v0.7h-0.7zM133.14 313.52h0.7v0.7h-0.7zM134.59 313.72h0.7v0.7h-0.7zM128.09 308.37h0.7v0.7h-0.7zM127.74 313.11h0.7v0.7h-0.7zM130.54 315.08h0.7v0.7h-0.7zM131.12 305.86h0.7v0.7h-0.7zM129.2 306.47h0.7v0.7h-0.7zM131.21 304.39h0.7v0.7h-0.7zM128.1 306.93h0.7v0.7h-0.7zM127.99 310.27h0.7v0.7h-0.7zM134.22 310.28h0.7v0.7h-0.7zM125.61 310.02h0.7v0.7h-0.7zM131.99 314.78h0.7v0.7h-0.7zM133.04 312.21h0.7v0.7h-0.7zM133.35 304.25h0.7v0.7h-0.7zM129.31 306.88h0.7v0.7h-0.7zM124.86 306.98h0.7v0.7h-0.7z" fill="#888"/>
<rect x="121.4" y="279.4" width="16.8" height="12.7" fill="none" stroke="#222" stroke-width="0.9"/>
<rect x="121.4" y="292.1" width="16.8" height="10.9" fill="none" stroke="#222" stroke-width="0.9"/>
<rect x="121.4" y="303" width="16.8" height="17.4" fill="none" stroke="#222" stroke-width="0.9"/>
<text x="119.4" y="289.5" font-size="7.4" text-anchor="end">46.6</text>
<text x="119.4" y="302.2" font-size="7.4" text-anchor="end">34.2</text>
<text x="119.4" y="317.3" font-size="7.4" text-anchor="end">12.3</text>
<rect x="154" y="206.6" width="65.5" height="55.2" fill="#fff" stroke="#777" stroke-width="0.7"/>
<path d="M154 206.6V261.8" stroke="#222" stroke-width="0.9" stroke-dasharray="0.8 1.6"/>
<path d="M154 261.8H219.5" stroke="#222" stroke-width="0.9" stroke-dasharray="0.8 1.6"/>
<line x1="154" y1="217.64" x2="155.3" y2="217.64" stroke="#333" stroke-width="0.6"/>
<line x1="167.1" y1="261.8" x2="167.1" y2="260.5" stroke="#333" stroke-width="0.6"/>
<line x1="154" y1="228.68" x2="155.3" y2="228.68" stroke="#333" stroke-width="0.6"/>
<line x1="180.2" y1="261.8" x2="180.2" y2="260.5" stroke="#333" stroke-width="0.6"/>
<line x1="154" y1="239.72" x2="155.3" y2="239.72" stroke="#333" stroke-width="0.6"/>
<line x1="193.3" y1="261.8" x2="193.3" y2="260.5" stroke="#333" stroke-width="0.6"/>
<line x1="154" y1="250.76" x2="155.3" y2="250.76" stroke="#333" stroke-width="0.6"/>
<line x1="206.4" y1="261.8" x2="206.4" y2="260.5" stroke="#333" stroke-width="0.6"/>
<rect x="154" y="265.3" width="65.5" height="55.9" fill="#fff" stroke="#777" stroke-width="0.7"/>
<path d="M154 265.3V321.2" stroke="#222" stroke-width="0.9" stroke-dasharray="0.8 1.6"/>
<path d="M154 321.2H219.5" stroke="#222" stroke-width="0.9" stroke-dasharray="0.8 1.6"/>
<line x1="154" y1="276.48" x2="155.3" y2="276.48" stroke="#333" stroke-width="0.6"/>
<line x1="167.1" y1="321.2" x2="167.1" y2="319.9" stroke="#333" stroke-width="0.6"/>
<line x1="154" y1="287.66" x2="155.3" y2="287.66" stroke="#333" stroke-width="0.6"/>
<line x1="180.2" y1="321.2" x2="180.2" y2="319.9" stroke="#333" stroke-width="0.6"/>
<line x1="154" y1="298.84" x2="155.3" y2="298.84" stroke="#333" stroke-width="0.6"/>
<line x1="193.3" y1="321.2" x2="193.3" y2="319.9" stroke="#333" stroke-width="0.6"/>
<line x1="154" y1="310.02" x2="155.3" y2="310.02" stroke="#333" stroke-width="0.6"/>
<line x1="206.4" y1="321.2" x2="206.4" y2="319.9" stroke="#333" stroke-width="0.6"/>
<ellipse cx="201.75" cy="246.5" rx="7.44" ry="10.5" fill="#999" fill-opacity="0.35"/>
<path d="M205.15 246h0.7v0.7h-0.7zM202.24 246.43h0.7v0.7h-0.7zM202.37 245.53h0.7v0.7h-0.7zM198.42 244.92h0.7v0.7h-0.7zM202.13 241.61h0.7v0.7h-0.7zM203.34 256.09h0.7v0.7h-0.7zM196.17 243.54h0.7v0.7h-0.7zM200.8 246.6h0.7v0.7h-0.7zM202.08 242.56h0.7v0.7h-0.7zM201.64 246.53h0.7v0.7h-0.7zM201.46 254.88h0.7v0.7h-0.7zM202.19 238.47h0.7v0.7h-0.7zM196.42 249.72h0.7v0.7h-0.7zM200.59 243.14h0.7v0.7h-0.7zM197.14 244.82h0.7v0.7h-0.7zM201.44 242.77h0.7v0.7h-0.7zM200.56 251.32h0.7v0.7h-0.7zM204.42 249.48h0.7v0.7h-0.7zM201.16 239.12h0.7v0.7h-0.7zM204.39 254.64h0.7v0.7h-0.7zM206.09 252.83h0.7v0.7h-0.7zM202.69 248.54h0.7v0.7h-0.7zM201.7 253.32h0.7v0.7h-0.7zM200.84 258.18h0.7v0.7h-0.7zM204.4 244.75h0.7v0.7h-0.7zM201.75 237.75h0.7v0.7h-0.7zM199.26 244.87h0.7v0.7h-0.7zM210.08 242.08h0.7v0.7h-0.7zM204.87 246.92h0.7v0.7h-0.7zM200.75 249.9h0.7v0.7h-0.7zM194.98 251.64h0.7v0.7h-0.7zM208.33 248.11h0.7v0.7h-0.7zM201.54 247.37h0.7v0.7h-0.7zM204 243.84h0.7v0.7h-0.7zM202.16 249.24h0.7v0.7h-0.7zM200.56 248.62h0.7v0.7h-0.7zM202.89 250.39h0.7v0.7h-0.7zM198.4 243.59h0.7v0.7h-0.7zM200.3 253.02h0.7v0.7h-0.7zM202.6 237.51h0.7v0.7h-0.7zM197.41 257.05h0.7v0.7h-0.7zM202.9 239.46h0.7v0.7h-0.7zM198.66 247.28h0.7v0.7h-0.7zM206.6 255.31h0.7v0.7h-0.7zM200.51 244.87h0.7v0.7h-0.7zM208.27 241.16h0.7v0.7h-0.7zM207.06 248.35h0.7v0.7h-0.7zM202.07 253.5h0.7v0.7h-0.7zM203.39 241.95h0.7v0.7h-0.7zM196.57 246.59h0.7v0.7h-0.7zM203.49 253.94h0.7v0.7h-0.7zM192.87 253.8h0.7v0.7h-0.7zM203.86 254.76h0.7v0.7h-0.7zM204.46 247.66h0.7v0.7h-0.7zM203.22 248.67h0.7v0.7h-0.7zM199.62 245.88h0.7v0.7h-0.7zM202.19 244.05h0.7v0.7h-0.7zM196.77 238.64h0.7v0.7h-0.7zM203.47 249.34h0.7v0.7h-0.7zM202.12 240.14h0.7v0.7h-0.7zM204.64 244.37h0.7v0.7h-0.7zM194.7 255.02h0.7v0.7h-0.7zM196.68 258.77h0.7v0.7h-0.7zM203.56 244.1h0.7v0.7h-0.7zM193.76 242.67h0.7v0.7h-0.7zM206.79 253.91h0.7v0.7h-0.7zM202.63 237.18h0.7v0.7h-0.7zM200.46 244.96h0.7v0.7h-0.7zM203.32 245.82h0.7v0.7h-0.7zM202.92 237.61h0.7v0.7h-0.7zM199.56 254.35h0.7v0.7h-0.7zM196.81 251.53h0.7v0.7h-0.7zM209.6 250.05h0.7v0.7h-0.7zM197.03 253.29h0.7v0.7h-0.7zM195.45 248.34h0.7v0.7h-0.7zM200.36 253.25h0.7v0.7h-0.7zM205.76 247.54h0.7v0.7h-0.7zM207.84 251.86h0.7v0.7h-0.7zM200.13 241.15h0.7v0.7h-0.7zM210.12 244.29h0.7v0.7h-0.7zM203.15 245.87h0.7v0.7h-0.7zM200.14 237.73h0.7v0.7h-0.7zM201.26 245.88h0.7v0.7h-0.7zM205.09 243.7h0.7v0.7h-0.7zM196.43 240.65h0.7v0.7h-0.7zM201.62 247.86h0.7v0.7h-0.7zM204.21 244.41h0.7v0.7h-0.7zM203.58 247.29h0.7v0.7h-0.7zM207.49 246.2h0.7v0.7h-0.7zM202.24 249.59h0.7v0.7h-0.7zM205.89 241.48h0.7v0.7h-0.7zM200.14 245h0.7v0.7h-0.7zM194.51 253.61h0.7v0.7h-0.7zM205.4 246.62h0.7v0.7h-0.7zM213.19 253.44h0.7v0.7h-0.7zM208.63 255.07h0.7v0.7h-0.7zM204.83 238.77h0.7v0.7h-0.7zM206.96 248.79h0.7v0.7h-0.7zM197.68 246.79h0.7v0.7h-0.7zM204.32 251.87h0.7v0.7h-0.7zM202.35 243.65h0.7v0.7h-0.7zM204.35 242.35h0.7v0.7h-0.7zM201.49 250.67h0.7v0.7h-0.7zM196.86 248.55h0.7v0.7h-0.7zM195.09 241.44h0.7v0.7h-0.7zM197.56 246.01h0.7v0.7h-0.7zM204.18 246.23h0.7v0.7h-0.7zM204.86 247.03h0.7v0.7h-0.7zM201.05 249.19h0.7v0.7h-0.7zM200.94 247.24h0.7v0.7h-0.7zM205.29 243.39h0.7v0.7h-0.7zM205.67 240.45h0.7v0.7h-0.7zM201 237.02h0.7v0.7h-0.7zM199.95 255.19h0.7v0.7h-0.7zM202.96 253.44h0.7v0.7h-0.7zM196.75 240.97h0.7v0.7h-0.7zM203.34 251.03h0.7v0.7h-0.7zM204.6 237.35h0.7v0.7h-0.7zM203.49 246.11h0.7v0.7h-0.7zM202.16 249.11h0.7v0.7h-0.7zM200.8 237.25h0.7v0.7h-0.7zM198.11 238.59h0.7v0.7h-0.7zM197.27 245.77h0.7v0.7h-0.7zM206.2 242.6h0.7v0.7h-0.7zM199.15 240.22h0.7v0.7h-0.7zM195.87 246.86h0.7v0.7h-0.7zM200.1 245.19h0.7v0.7h-0.7zM198.48 249.16h0.7v0.7h-0.7zM197.66 249.5h0.7v0.7h-0.7zM199.5 250.81h0.7v0.7h-0.7zM198.73 248.92h0.7v0.7h-0.7zM203.25 246.07h0.7v0.7h-0.7zM207.31 247.46h0.7v0.7h-0.7zM198.73 250.29h0.7v0.7h-0.7zM198.94 243.54h0.7v0.7h-0.7zM201.79 247.5h0.7v0.7h-0.7zM207.56 236.95h0.7v0.7h-0.7zM200.87 252.68h0.7v0.7h-0.7zM201.21 248.26h0.7v0.7h-0.7zM206.95 239.76h0.7v0.7h-0.7zM201.9 250.84h0.7v0.7h-0.7zM199.75 236.91h0.7v0.7h-0.7zM198.35 247.56h0.7v0.7h-0.7zM202.4 256.59h0.7v0.7h-0.7zM206.27 238.03h0.7v0.7h-0.7zM205.29 251.51h0.7v0.7h-0.7zM207.27 245.67h0.7v0.7h-0.7zM199.85 247.3h0.7v0.7h-0.7zM207.02 249.91h0.7v0.7h-0.7zM207.54 250.81h0.7v0.7h-0.7zM199.75 240.96h0.7v0.7h-0.7zM208.06 238.21h0.7v0.7h-0.7zM200.56 244.76h0.7v0.7h-0.7zM198.64 243.37h0.7v0.7h-0.7zM201.77 259.53h0.7v0.7h-0.7zM201.53 243.63h0.7v0.7h-0.7zM202.17 251.65h0.7v0.7h-0.7zM198.97 244.28h0.7v0.7h-0.7zM195.79 250.35h0.7v0.7h-0.7zM204.07 254.73h0.7v0.7h-0.7zM197.66 258.42h0.7v0.7h-0.7zM204.73 244.99h0.7v0.7h-0.7zM200.42 244.8h0.7v0.7h-0.7zM197.61 250.73h0.7v0.7h-0.7zM199.68 242.54h0.7v0.7h-0.7zM203.51 247.12h0.7v0.7h-0.7zM199.76 245.21h0.7v0.7h-0.7zM200.07 253.89h0.7v0.7h-0.7zM205.17 242.51h0.7v0.7h-0.7zM201.61 254.03h0.7v0.7h-0.7zM200.77 256.27h0.7v0.7h-0.7zM203.27 250.17h0.7v0.7h-0.7zM194.66 251.16h0.7v0.7h-0.7zM202.91 249.7h0.7v0.7h-0.7zM203.39 249.39h0.7v0.7h-0.7zM200.02 251.44h0.7v0.7h-0.7zM201.97 240.74h0.7v0.7h-0.7zM198.28 247.39h0.7v0.7h-0.7zM202.9 234.39h0.7v0.7h-0.7zM194.71 252.27h0.7v0.7h-0.7zM196.52 245.14h0.7v0.7h-0.7zM199.7 249.56h0.7v0.7h-0.7zM206.56 255.36h0.7v0.7h-0.7zM198.31 253.28h0.7v0.7h-0.7zM197.6 248.19h0.7v0.7h-0.7zM202.33 249.91h0.7v0.7h-0.7zM199.02 253.85h0.7v0.7h-0.7zM201.52 246.39h0.7v0.7h-0.7zM200.84 240.64h0.7v0.7h-0.7zM204.21 248.35h0.7v0.7h-0.7zM203.31 256.74h0.7v0.7h-0.7zM198.79 244.94h0.7v0.7h-0.7zM201.78 251.2h0.7v0.7h-0.7zM201.14 251.64h0.7v0.7h-0.7zM203.31 236.83h0.7v0.7h-0.7zM199.42 235.33h0.7v0.7h-0.7zM200.77 244.21h0.7v0.7h-0.7zM203.77 247.44h0.7v0.7h-0.7zM201.53 253.44h0.7v0.7h-0.7zM203.78 239.73h0.7v0.7h-0.7zM199.39 248.31h0.7v0.7h-0.7zM207.57 245.41h0.7v0.7h-0.7zM201.17 247.96h0.7v0.7h-0.7zM204.42 246.01h0.7v0.7h-0.7zM202.76 244.18h0.7v0.7h-0.7zM199.87 242.13h0.7v0.7h-0.7zM204 243.44h0.7v0.7h-0.7zM203.63 248.73h0.7v0.7h-0.7zM205.08 231.73h0.7v0.7h-0.7zM198.45 239.79h0.7v0.7h-0.7zM201.19 250.93h0.7v0.7h-0.7zM210.41 255h0.7v0.7h-0.7zM206.39 248.6h0.7v0.7h-0.7zM200.43 249.45h0.7v0.7h-0.7zM194.31 251.63h0.7v0.7h-0.7zM201.78 249.9h0.7v0.7h-0.7zM198.23 240.47h0.7v0.7h-0.7zM199.55 246.26h0.7v0.7h-0.7zM202.94 244.55h0.7v0.7h-0.7zM202.95 250.25h0.7v0.7h-0.7zM197.78 245.94h0.7v0.7h-0.7zM196.43 243.48h0.7v0.7h-0.7zM204.84 242.56h0.7v0.7h-0.7zM208.12 249.28h0.7v0.7h-0.7zM204.79 247.07h0.7v0.7h-0.7zM204.71 252.53h0.7v0.7h-0.7zM202.12 243.58h0.7v0.7h-0.7zM199.87 257.14h0.7v0.7h-0.7zM201.12 243.98h0.7v0.7h-0.7zM199.33 237.21h0.7v0.7h-0.7z" fill="#666"/>
<ellipse cx="201.9" cy="232.2" rx="5" ry="4" fill="#999" fill-opacity="0.45"/>
<path d="M200.32 233.02h0.7v0.7h-0.7zM200.36 230.28h0.7v0.7h-0.7zM203.2 233.36h0.7v0.7h-0.7zM200.51 232.98h0.7v0.7h-0.7zM198.81 234.38h0.7v0.7h-0.7zM198.77 231.35h0.7v0.7h-0.7zM202.33 231.14h0.7v0.7h-0.7zM198.26 237.51h0.7v0.7h-0.7zM206.72 227.79h0.7v0.7h-0.7zM202.29 228.99h0.7v0.7h-0.7zM202.89 228.9h0.7v0.7h-0.7zM203.75 233.54h0.7v0.7h-0.7zM207.33 235.25h0.7v0.7h-0.7zM200.45 234.59h0.7v0.7h-0.7zM200.44 231.91h0.7v0.7h-0.7zM200.31 227.74h0.7v0.7h-0.7zM203.82 227.06h0.7v0.7h-0.7zM201.15 233.53h0.7v0.7h-0.7zM202.26 228.21h0.7v0.7h-0.7zM199.84 233.92h0.7v0.7h-0.7zM205.39 236.24h0.7v0.7h-0.7zM196.14 233.36h0.7v0.7h-0.7zM200.37 234.13h0.7v0.7h-0.7zM196.54 231.84h0.7v0.7h-0.7zM204.15 230.57h0.7v0.7h-0.7zM200.75 229.72h0.7v0.7h-0.7zM205.44 228.84h0.7v0.7h-0.7zM199 231.36h0.7v0.7h-0.7zM200.89 237.55h0.7v0.7h-0.7zM202.77 230.09h0.7v0.7h-0.7zM203.75 233.07h0.7v0.7h-0.7zM202.8 232.04h0.7v0.7h-0.7zM203.37 229.23h0.7v0.7h-0.7zM198.08 231.12h0.7v0.7h-0.7zM198.39 233.97h0.7v0.7h-0.7zM208.07 235.33h0.7v0.7h-0.7zM203.32 233.06h0.7v0.7h-0.7zM199.72 228.91h0.7v0.7h-0.7zM203.64 228.46h0.7v0.7h-0.7zM202.86 231.84h0.7v0.7h-0.7zM204.28 232.33h0.7v0.7h-0.7zM202.24 230.73h0.7v0.7h-0.7zM196.43 231.33h0.7v0.7h-0.7zM204.11 234.85h0.7v0.7h-0.7zM206.28 229.68h0.7v0.7h-0.7zM198.93 233.98h0.7v0.7h-0.7zM200.46 238.71h0.7v0.7h-0.7zM202.9 228.36h0.7v0.7h-0.7zM200.14 236.18h0.7v0.7h-0.7zM196.11 232.59h0.7v0.7h-0.7zM197.5 236.25h0.7v0.7h-0.7zM200.48 229.59h0.7v0.7h-0.7zM196.48 230.39h0.7v0.7h-0.7zM193.78 231h0.7v0.7h-0.7zM208.83 232.45h0.7v0.7h-0.7zM201.06 229.26h0.7v0.7h-0.7zM202.98 231.01h0.7v0.7h-0.7zM199.21 235.71h0.7v0.7h-0.7zM203.3 229.95h0.7v0.7h-0.7zM206.6 232.06h0.7v0.7h-0.7zM203.5 232.57h0.7v0.7h-0.7zM205.65 233.76h0.7v0.7h-0.7zM200.8 234.02h0.7v0.7h-0.7zM200.66 232.54h0.7v0.7h-0.7zM207.11 229.51h0.7v0.7h-0.7zM198.61 231.18h0.7v0.7h-0.7zM200.32 235.5h0.7v0.7h-0.7zM196.84 238.01h0.7v0.7h-0.7zM206.94 231.06h0.7v0.7h-0.7zM202.49 231.29h0.7v0.7h-0.7zM204.03 233.88h0.7v0.7h-0.7zM204.29 234.14h0.7v0.7h-0.7zM208.04 231.77h0.7v0.7h-0.7zM204.12 231.73h0.7v0.7h-0.7zM202.02 232.76h0.7v0.7h-0.7zM201.74 233.08h0.7v0.7h-0.7zM199.19 231.81h0.7v0.7h-0.7zM199.98 229.24h0.7v0.7h-0.7zM199.65 230.94h0.7v0.7h-0.7zM201.43 228.24h0.7v0.7h-0.7zM201.08 229.34h0.7v0.7h-0.7zM199.3 232.68h0.7v0.7h-0.7zM205.43 232.93h0.7v0.7h-0.7zM200.35 231.09h0.7v0.7h-0.7zM206.16 228.08h0.7v0.7h-0.7zM205.52 228.39h0.7v0.7h-0.7zM199.88 232.32h0.7v0.7h-0.7zM201.2 236.42h0.7v0.7h-0.7zM203.47 232.08h0.7v0.7h-0.7zM204.93 232.3h0.7v0.7h-0.7zM199.34 235.05h0.7v0.7h-0.7zM206.67 235.45h0.7v0.7h-0.7zM198.16 237.04h0.7v0.7h-0.7zM200.57 234.15h0.7v0.7h-0.7zM205.69 238.23h0.7v0.7h-0.7zM196.76 229.61h0.7v0.7h-0.7zM205.65 233.46h0.7v0.7h-0.7zM200.91 224.77h0.7v0.7h-0.7zM203.3 231.73h0.7v0.7h-0.7zM193.59 239h0.7v0.7h-0.7zM193.94 230.78h0.7v0.7h-0.7zM201.88 232.79h0.7v0.7h-0.7zM204.3 231.53h0.7v0.7h-0.7zM199.05 231.29h0.7v0.7h-0.7zM195.21 229.36h0.7v0.7h-0.7zM208.19 230.46h0.7v0.7h-0.7zM201.64 237.02h0.7v0.7h-0.7zM205.25 232.51h0.7v0.7h-0.7zM204.24 231.51h0.7v0.7h-0.7zM199.02 234.74h0.7v0.7h-0.7z" fill="#555"/>
<rect x="190.3" y="225.3" width="19.1" height="11.8" fill="none" stroke="#222" stroke-width="0.9"/>
<text x="194.4" y="221.4" font-size="7.4" textLength="13.8" lengthAdjust="spacingAndGlyphs">27.7</text>
<line x1="188.8" y1="235.3" x2="188.8" y2="270.3" stroke="#555" stroke-width="0.9"/>
<polygon points="188.8,274.3 186,269.8 191.6,269.8" fill="#555" stroke="none" stroke-width="1"/>
<rect x="191.8" y="280" width="16.8" height="40.4" fill="#ddd" fill-opacity="0.35"/>
<path d="M199.43 284.58h0.7v0.7h-0.7zM201.21 285.3h0.7v0.7h-0.7zM199.28 282.53h0.7v0.7h-0.7zM200.95 287.33h0.7v0.7h-0.7zM205.58 285.95h0.7v0.7h-0.7zM195.04 287.89h0.7v0.7h-0.7zM206.93 284.31h0.7v0.7h-0.7zM197.84 285.39h0.7v0.7h-0.7zM201.9 282.6h0.7v0.7h-0.7zM194.76 283.21h0.7v0.7h-0.7zM203.88 286.82h0.7v0.7h-0.7zM198.7 285.02h0.7v0.7h-0.7zM203.05 284.01h0.7v0.7h-0.7zM201.43 289.86h0.7v0.7h-0.7zM197.53 283.73h0.7v0.7h-0.7zM201.52 286.08h0.7v0.7h-0.7zM199.83 283.96h0.7v0.7h-0.7zM200.34 286.42h0.7v0.7h-0.7zM200.31 280.6h0.7v0.7h-0.7zM199.82 286.64h0.7v0.7h-0.7zM198.19 287.29h0.7v0.7h-0.7zM200.5 287.59h0.7v0.7h-0.7zM199.71 284.24h0.7v0.7h-0.7zM200.75 290.33h0.7v0.7h-0.7zM202.85 285.74h0.7v0.7h-0.7zM198.83 290.24h0.7v0.7h-0.7zM201.79 289.54h0.7v0.7h-0.7zM199.38 282.65h0.7v0.7h-0.7zM200.75 283.58h0.7v0.7h-0.7zM203.59 289.42h0.7v0.7h-0.7zM193.78 288.68h0.7v0.7h-0.7zM204.12 290.15h0.7v0.7h-0.7zM198.81 282.65h0.7v0.7h-0.7zM203.06 290.05h0.7v0.7h-0.7zM200.38 281.49h0.7v0.7h-0.7zM195.7 287.1h0.7v0.7h-0.7zM197.77 283.37h0.7v0.7h-0.7zM201.51 290.19h0.7v0.7h-0.7zM194.12 283.4h0.7v0.7h-0.7zM204.03 285.88h0.7v0.7h-0.7zM199.19 288.57h0.7v0.7h-0.7zM196.85 281.22h0.7v0.7h-0.7zM203.19 286.03h0.7v0.7h-0.7zM203.18 284.43h0.7v0.7h-0.7zM201 289.61h0.7v0.7h-0.7zM201.3 285.9h0.7v0.7h-0.7zM199.02 290.36h0.7v0.7h-0.7zM200.06 280.36h0.7v0.7h-0.7zM204.24 283.49h0.7v0.7h-0.7zM201.35 286.06h0.7v0.7h-0.7zM203.31 287.03h0.7v0.7h-0.7zM203.81 286.88h0.7v0.7h-0.7zM198.84 284.04h0.7v0.7h-0.7zM202.12 282.78h0.7v0.7h-0.7zM202.93 285.1h0.7v0.7h-0.7zM197.47 282.6h0.7v0.7h-0.7zM202.47 286.13h0.7v0.7h-0.7zM199.38 286.05h0.7v0.7h-0.7zM200.72 284.24h0.7v0.7h-0.7zM200.75 282.1h0.7v0.7h-0.7zM197.1 285.41h0.7v0.7h-0.7zM206.06 281.66h0.7v0.7h-0.7zM200.71 286.89h0.7v0.7h-0.7zM202.38 280.78h0.7v0.7h-0.7zM198.43 283.49h0.7v0.7h-0.7zM199.61 285.89h0.7v0.7h-0.7zM198.7 289.2h0.7v0.7h-0.7zM207.75 290.64h0.7v0.7h-0.7zM204.72 281.81h0.7v0.7h-0.7zM203.32 286.16h0.7v0.7h-0.7zM203.89 290.24h0.7v0.7h-0.7zM200.59 284.07h0.7v0.7h-0.7zM201.52 286.2h0.7v0.7h-0.7zM198.02 285.75h0.7v0.7h-0.7zM201.15 284.45h0.7v0.7h-0.7zM200.12 286.27h0.7v0.7h-0.7zM203.29 285.6h0.7v0.7h-0.7zM201.41 285.67h0.7v0.7h-0.7zM200.21 283.16h0.7v0.7h-0.7zM198.96 289.34h0.7v0.7h-0.7zM201.26 285.95h0.7v0.7h-0.7zM198.76 286.89h0.7v0.7h-0.7zM203.71 285.97h0.7v0.7h-0.7zM199.12 281.38h0.7v0.7h-0.7zM200.49 282.42h0.7v0.7h-0.7zM195.96 289.5h0.7v0.7h-0.7zM199.89 280.8h0.7v0.7h-0.7zM196.95 288.9h0.7v0.7h-0.7zM201.4 286.9h0.7v0.7h-0.7zM199.62 287.97h0.7v0.7h-0.7z" fill="#555"/>
<path d="M204.74 299.69h0.7v0.7h-0.7zM199.72 292.58h0.7v0.7h-0.7zM202.11 293.12h0.7v0.7h-0.7zM200.75 302.74h0.7v0.7h-0.7zM198.33 299.71h0.7v0.7h-0.7zM201.31 300.5h0.7v0.7h-0.7zM199.15 297.77h0.7v0.7h-0.7zM198.99 302.37h0.7v0.7h-0.7zM193.67 298.81h0.7v0.7h-0.7zM196.42 295.3h0.7v0.7h-0.7zM195.67 294.42h0.7v0.7h-0.7zM200.13 297.95h0.7v0.7h-0.7zM205.48 297.02h0.7v0.7h-0.7zM201.22 299.18h0.7v0.7h-0.7zM200.61 298.41h0.7v0.7h-0.7zM199.87 297.87h0.7v0.7h-0.7zM200.04 301.61h0.7v0.7h-0.7zM200.26 298.11h0.7v0.7h-0.7zM200.06 300.71h0.7v0.7h-0.7zM198.8 301.39h0.7v0.7h-0.7zM198.51 300.47h0.7v0.7h-0.7zM205.88 298.73h0.7v0.7h-0.7zM199.94 293.39h0.7v0.7h-0.7zM202.39 297.9h0.7v0.7h-0.7zM202.89 295.37h0.7v0.7h-0.7zM201.39 296.62h0.7v0.7h-0.7zM196.35 297.82h0.7v0.7h-0.7zM202.15 300.11h0.7v0.7h-0.7zM196.89 293.97h0.7v0.7h-0.7zM197.31 294h0.7v0.7h-0.7zM199.38 298.85h0.7v0.7h-0.7zM205.89 298.59h0.7v0.7h-0.7zM204.76 300.87h0.7v0.7h-0.7zM201.5 300.97h0.7v0.7h-0.7zM199.19 295.37h0.7v0.7h-0.7zM199.18 299.04h0.7v0.7h-0.7zM200.75 295.51h0.7v0.7h-0.7zM201.79 300.18h0.7v0.7h-0.7zM197.48 293.64h0.7v0.7h-0.7zM194.39 296.69h0.7v0.7h-0.7zM200.23 295.22h0.7v0.7h-0.7zM198.42 297.34h0.7v0.7h-0.7zM200.29 300.01h0.7v0.7h-0.7zM202.67 299.51h0.7v0.7h-0.7zM203.51 294.18h0.7v0.7h-0.7zM202 299.26h0.7v0.7h-0.7zM197.11 295.29h0.7v0.7h-0.7zM201.51 298.13h0.7v0.7h-0.7zM196.48 295.76h0.7v0.7h-0.7zM204.72 301.04h0.7v0.7h-0.7zM197.51 297.2h0.7v0.7h-0.7zM203.04 296.58h0.7v0.7h-0.7zM196.89 300.07h0.7v0.7h-0.7zM200.66 293.12h0.7v0.7h-0.7zM199.32 292.5h0.7v0.7h-0.7zM200.33 295.18h0.7v0.7h-0.7zM197.27 296.13h0.7v0.7h-0.7zM197.04 298.12h0.7v0.7h-0.7zM200.92 295h0.7v0.7h-0.7zM198.49 293.93h0.7v0.7h-0.7z" fill="#666"/>
<path d="M203.24 309.77h0.7v0.7h-0.7zM199.77 313h0.7v0.7h-0.7zM196.57 313.29h0.7v0.7h-0.7zM199.69 314.47h0.7v0.7h-0.7zM199.06 312.21h0.7v0.7h-0.7zM201.74 317.35h0.7v0.7h-0.7zM198.16 317.38h0.7v0.7h-0.7zM197.28 310.96h0.7v0.7h-0.7zM200.59 312.8h0.7v0.7h-0.7zM192.8 306.59h0.7v0.7h-0.7zM199.65 317.11h0.7v0.7h-0.7zM194.86 312.43h0.7v0.7h-0.7zM201.8 312.1h0.7v0.7h-0.7zM200.98 317.17h0.7v0.7h-0.7zM197.81 315.26h0.7v0.7h-0.7zM203.35 310.71h0.7v0.7h-0.7zM193.34 305.41h0.7v0.7h-0.7zM197.67 306.14h0.7v0.7h-0.7zM201.48 307.55h0.7v0.7h-0.7zM207.55 315.16h0.7v0.7h-0.7zM196.33 310.42h0.7v0.7h-0.7zM204.73 315.76h0.7v0.7h-0.7zM197.18 317.73h0.7v0.7h-0.7zM198.56 315.3h0.7v0.7h-0.7zM201.87 309.54h0.7v0.7h-0.7zM199.75 318.41h0.7v0.7h-0.7zM201.68 311.67h0.7v0.7h-0.7zM202.96 314.63h0.7v0.7h-0.7zM200.6 309.31h0.7v0.7h-0.7zM202.37 308.64h0.7v0.7h-0.7zM201.53 306.18h0.7v0.7h-0.7zM202.85 307.97h0.7v0.7h-0.7zM200.12 315.2h0.7v0.7h-0.7zM199.24 312.04h0.7v0.7h-0.7zM194.85 307h0.7v0.7h-0.7zM202.2 317.2h0.7v0.7h-0.7zM198.79 312.52h0.7v0.7h-0.7zM199.61 305.41h0.7v0.7h-0.7zM195.6 304.94h0.7v0.7h-0.7zM204.06 309.85h0.7v0.7h-0.7zM205.98 315.53h0.7v0.7h-0.7zM201.34 315.57h0.7v0.7h-0.7zM202.54 317.09h0.7v0.7h-0.7zM197.31 308.92h0.7v0.7h-0.7zM198.58 312.58h0.7v0.7h-0.7zM199.46 305.19h0.7v0.7h-0.7zM206.49 307.27h0.7v0.7h-0.7zM201.33 311.8h0.7v0.7h-0.7zM197.69 315.94h0.7v0.7h-0.7zM201.56 310.28h0.7v0.7h-0.7zM192.35 311.43h0.7v0.7h-0.7zM202.71 308.05h0.7v0.7h-0.7zM202.82 315.78h0.7v0.7h-0.7zM194.97 310.92h0.7v0.7h-0.7zM201.15 316.17h0.7v0.7h-0.7zM200.66 311.92h0.7v0.7h-0.7zM199.17 310.39h0.7v0.7h-0.7zM200.21 306.12h0.7v0.7h-0.7zM202.1 310.2h0.7v0.7h-0.7zM201.75 309.2h0.7v0.7h-0.7z" fill="#888"/>
<rect x="191.8" y="280" width="16.8" height="12.1" fill="none" stroke="#222" stroke-width="0.9"/>
<rect x="191.8" y="292.1" width="16.8" height="11.5" fill="none" stroke="#222" stroke-width="0.9"/>
<rect x="191.8" y="303.6" width="16.8" height="16.8" fill="none" stroke="#222" stroke-width="0.9"/>
<text x="189.4" y="291.1" font-size="7.4" text-anchor="end">15.8</text>
<text x="189.4" y="303.8" font-size="7.4" text-anchor="end">28.5</text>
<text x="189.4" y="318" font-size="7.4" text-anchor="end">46.4</text>
<rect x="225.7" y="205" width="66.4" height="56.2" fill="#fff" stroke="#777" stroke-width="0.7"/>
<path d="M225.7 205V261.2" stroke="#222" stroke-width="0.9" stroke-dasharray="0.8 1.6"/>
<path d="M225.7 261.2H292.1" stroke="#222" stroke-width="0.9" stroke-dasharray="0.8 1.6"/>
<line x1="225.7" y1="216.24" x2="227" y2="216.24" stroke="#333" stroke-width="0.6"/>
<line x1="238.98" y1="261.2" x2="238.98" y2="259.9" stroke="#333" stroke-width="0.6"/>
<line x1="225.7" y1="227.48" x2="227" y2="227.48" stroke="#333" stroke-width="0.6"/>
<line x1="252.26" y1="261.2" x2="252.26" y2="259.9" stroke="#333" stroke-width="0.6"/>
<line x1="225.7" y1="238.72" x2="227" y2="238.72" stroke="#333" stroke-width="0.6"/>
<line x1="265.54" y1="261.2" x2="265.54" y2="259.9" stroke="#333" stroke-width="0.6"/>
<line x1="225.7" y1="249.96" x2="227" y2="249.96" stroke="#333" stroke-width="0.6"/>
<line x1="278.82" y1="261.2" x2="278.82" y2="259.9" stroke="#333" stroke-width="0.6"/>
<rect x="225.7" y="264.8" width="66.4" height="57" fill="#fff" stroke="#777" stroke-width="0.7"/>
<path d="M225.7 264.8V321.8" stroke="#222" stroke-width="0.9" stroke-dasharray="0.8 1.6"/>
<path d="M225.7 321.8H292.1" stroke="#222" stroke-width="0.9" stroke-dasharray="0.8 1.6"/>
<line x1="225.7" y1="276.2" x2="227" y2="276.2" stroke="#333" stroke-width="0.6"/>
<line x1="238.98" y1="321.8" x2="238.98" y2="320.5" stroke="#333" stroke-width="0.6"/>
<line x1="225.7" y1="287.6" x2="227" y2="287.6" stroke="#333" stroke-width="0.6"/>
<line x1="252.26" y1="321.8" x2="252.26" y2="320.5" stroke="#333" stroke-width="0.6"/>
<line x1="225.7" y1="299" x2="227" y2="299" stroke="#333" stroke-width="0.6"/>
<line x1="265.54" y1="321.8" x2="265.54" y2="320.5" stroke="#333" stroke-width="0.6"/>
<line x1="225.7" y1="310.4" x2="227" y2="310.4" stroke="#333" stroke-width="0.6"/>
<line x1="278.82" y1="321.8" x2="278.82" y2="320.5" stroke="#333" stroke-width="0.6"/>
<ellipse cx="264.85" cy="250.25" rx="5.55" ry="11.25" fill="#aaa" fill-opacity="0.45"/>
<path d="M265.75 250.97h0.7v0.7h-0.7zM266.81 252.87h0.7v0.7h-0.7zM266.9 249.31h0.7v0.7h-0.7zM264.73 248.77h0.7v0.7h-0.7zM262.1 249.54h0.7v0.7h-0.7zM267.24 254.62h0.7v0.7h-0.7zM262.99 251.95h0.7v0.7h-0.7zM266.5 242.55h0.7v0.7h-0.7zM265.61 252.12h0.7v0.7h-0.7zM266.49 251.7h0.7v0.7h-0.7zM261.03 238.83h0.7v0.7h-0.7zM269.2 248.01h0.7v0.7h-0.7zM267.64 257.41h0.7v0.7h-0.7zM265.04 243.77h0.7v0.7h-0.7zM267.85 250.04h0.7v0.7h-0.7zM265.99 252.96h0.7v0.7h-0.7zM266.94 255.98h0.7v0.7h-0.7zM261.73 242.28h0.7v0.7h-0.7zM265.16 250.3h0.7v0.7h-0.7zM266.56 249.49h0.7v0.7h-0.7zM267.86 256.81h0.7v0.7h-0.7zM267.12 245.79h0.7v0.7h-0.7zM264.66 249.86h0.7v0.7h-0.7zM262.45 245.33h0.7v0.7h-0.7zM265.2 243.38h0.7v0.7h-0.7zM266.04 252.92h0.7v0.7h-0.7zM264.33 248.33h0.7v0.7h-0.7zM266.17 252.96h0.7v0.7h-0.7zM265.65 243.34h0.7v0.7h-0.7zM263.42 248.18h0.7v0.7h-0.7zM260.85 245.74h0.7v0.7h-0.7zM263.24 254.76h0.7v0.7h-0.7zM259.06 242.33h0.7v0.7h-0.7zM263.95 247.47h0.7v0.7h-0.7zM263.15 247.76h0.7v0.7h-0.7zM261.39 251.76h0.7v0.7h-0.7zM267.47 251.12h0.7v0.7h-0.7zM263.67 257.39h0.7v0.7h-0.7zM265.92 244.43h0.7v0.7h-0.7zM263.59 246.8h0.7v0.7h-0.7zM264.75 257.1h0.7v0.7h-0.7zM263.3 249.42h0.7v0.7h-0.7zM265.1 243.53h0.7v0.7h-0.7zM263.8 253.71h0.7v0.7h-0.7zM267.33 239.67h0.7v0.7h-0.7zM266.4 248.61h0.7v0.7h-0.7zM267.68 253.76h0.7v0.7h-0.7zM269.17 252h0.7v0.7h-0.7zM263.98 245.56h0.7v0.7h-0.7zM261.71 253.38h0.7v0.7h-0.7zM265.98 254.87h0.7v0.7h-0.7zM265.62 241.81h0.7v0.7h-0.7zM263.96 248.88h0.7v0.7h-0.7zM265.2 254.58h0.7v0.7h-0.7zM267.96 251.86h0.7v0.7h-0.7zM260.32 244.49h0.7v0.7h-0.7zM260.17 245.94h0.7v0.7h-0.7zM262.22 251.6h0.7v0.7h-0.7zM264.37 256.54h0.7v0.7h-0.7zM267.22 247.68h0.7v0.7h-0.7zM266.92 250.32h0.7v0.7h-0.7zM265.85 257.85h0.7v0.7h-0.7zM262.33 249.87h0.7v0.7h-0.7zM268.23 245.95h0.7v0.7h-0.7zM265.32 251h0.7v0.7h-0.7zM263.94 242.88h0.7v0.7h-0.7zM263.35 244.72h0.7v0.7h-0.7zM267.22 251.65h0.7v0.7h-0.7zM266.39 243.56h0.7v0.7h-0.7zM265.95 251.06h0.7v0.7h-0.7zM267.15 246.19h0.7v0.7h-0.7zM266.63 257.97h0.7v0.7h-0.7zM268.81 245.02h0.7v0.7h-0.7zM262.39 242.01h0.7v0.7h-0.7zM266.96 253.6h0.7v0.7h-0.7zM265.6 245.38h0.7v0.7h-0.7zM267.6 259.29h0.7v0.7h-0.7zM264.77 249.58h0.7v0.7h-0.7zM267.46 253.1h0.7v0.7h-0.7zM267.8 247.98h0.7v0.7h-0.7zM265.6 248.35h0.7v0.7h-0.7zM263.6 248.58h0.7v0.7h-0.7zM264.23 253.09h0.7v0.7h-0.7zM264.18 250.65h0.7v0.7h-0.7zM263.08 243.36h0.7v0.7h-0.7zM267.99 244.72h0.7v0.7h-0.7zM268.83 255.54h0.7v0.7h-0.7zM259.83 246.66h0.7v0.7h-0.7zM263.94 250.37h0.7v0.7h-0.7zM264.46 246.86h0.7v0.7h-0.7zM267.6 249.54h0.7v0.7h-0.7zM266.96 246.4h0.7v0.7h-0.7zM263.34 257.75h0.7v0.7h-0.7zM264.23 244.08h0.7v0.7h-0.7zM264.48 256.17h0.7v0.7h-0.7zM264.5 246.22h0.7v0.7h-0.7zM266.25 255.78h0.7v0.7h-0.7zM264.4 248.46h0.7v0.7h-0.7zM264.44 260.06h0.7v0.7h-0.7zM264.53 252.53h0.7v0.7h-0.7zM260.39 251.25h0.7v0.7h-0.7zM264.97 248.47h0.7v0.7h-0.7zM263.96 242.6h0.7v0.7h-0.7zM261.59 251.19h0.7v0.7h-0.7zM263.45 249.75h0.7v0.7h-0.7zM264.46 247.41h0.7v0.7h-0.7zM262.43 247.4h0.7v0.7h-0.7zM264.21 243.78h0.7v0.7h-0.7zM262.75 255.1h0.7v0.7h-0.7zM266.9 251h0.7v0.7h-0.7zM271.96 254.9h0.7v0.7h-0.7zM267.56 245.68h0.7v0.7h-0.7zM267.23 259.71h0.7v0.7h-0.7zM263.09 243.89h0.7v0.7h-0.7zM264.76 245.73h0.7v0.7h-0.7zM266.25 244.05h0.7v0.7h-0.7zM265.04 239.28h0.7v0.7h-0.7zM264.78 256.15h0.7v0.7h-0.7zM264.28 252.01h0.7v0.7h-0.7zM267.25 244.1h0.7v0.7h-0.7zM262.07 250.71h0.7v0.7h-0.7zM265.46 248.75h0.7v0.7h-0.7zM262.73 257.06h0.7v0.7h-0.7zM262.31 248.79h0.7v0.7h-0.7zM264.76 254.32h0.7v0.7h-0.7zM263.88 245.65h0.7v0.7h-0.7zM269.27 245.51h0.7v0.7h-0.7zM266.61 249.39h0.7v0.7h-0.7zM263.81 250.01h0.7v0.7h-0.7zM264.3 252h0.7v0.7h-0.7zM259.28 250.11h0.7v0.7h-0.7zM265.01 244.81h0.7v0.7h-0.7zM268.9 253.85h0.7v0.7h-0.7zM265.37 248.55h0.7v0.7h-0.7zM267.9 247.75h0.7v0.7h-0.7zM263.06 254.13h0.7v0.7h-0.7zM262.74 245.82h0.7v0.7h-0.7zM268.03 241.25h0.7v0.7h-0.7zM264.71 250.92h0.7v0.7h-0.7zM265.42 242.09h0.7v0.7h-0.7zM264.36 248.38h0.7v0.7h-0.7zM269.07 255.88h0.7v0.7h-0.7zM263.2 255.15h0.7v0.7h-0.7zM266.29 249.62h0.7v0.7h-0.7zM264.33 248.71h0.7v0.7h-0.7zM261.48 246.72h0.7v0.7h-0.7zM266.91 258.35h0.7v0.7h-0.7zM268.92 248.15h0.7v0.7h-0.7zM266.21 236.77h0.7v0.7h-0.7zM264.27 243.18h0.7v0.7h-0.7zM266.66 240.96h0.7v0.7h-0.7zM262.58 244.06h0.7v0.7h-0.7zM265.73 254.95h0.7v0.7h-0.7zM262.85 260.36h0.7v0.7h-0.7zM265.21 245.59h0.7v0.7h-0.7zM265.62 250.17h0.7v0.7h-0.7zM266.68 252.18h0.7v0.7h-0.7zM269.66 256.8h0.7v0.7h-0.7zM263.46 254.66h0.7v0.7h-0.7zM266.53 244.65h0.7v0.7h-0.7zM263.22 245.73h0.7v0.7h-0.7zM259.45 253.82h0.7v0.7h-0.7zM264.39 257.16h0.7v0.7h-0.7zM263.64 250.68h0.7v0.7h-0.7zM266.45 255.68h0.7v0.7h-0.7zM265.56 244.43h0.7v0.7h-0.7zM269.69 255.12h0.7v0.7h-0.7zM267.84 259.32h0.7v0.7h-0.7zM267.94 252.58h0.7v0.7h-0.7zM265.9 253.79h0.7v0.7h-0.7zM261.57 254.81h0.7v0.7h-0.7zM262.73 252.62h0.7v0.7h-0.7zM262.65 254.26h0.7v0.7h-0.7zM265.28 253.1h0.7v0.7h-0.7zM262.88 248.65h0.7v0.7h-0.7zM264.74 248.65h0.7v0.7h-0.7zM263.91 245.36h0.7v0.7h-0.7zM266.53 248.11h0.7v0.7h-0.7zM263.08 252.3h0.7v0.7h-0.7zM263.09 249.28h0.7v0.7h-0.7zM263.74 245.08h0.7v0.7h-0.7zM264.37 245.65h0.7v0.7h-0.7zM262.12 252.22h0.7v0.7h-0.7zM264.22 242.07h0.7v0.7h-0.7zM264 251.3h0.7v0.7h-0.7zM265.8 252.35h0.7v0.7h-0.7zM265.42 253.59h0.7v0.7h-0.7zM263.79 245.79h0.7v0.7h-0.7zM266.21 247.96h0.7v0.7h-0.7zM264.89 253.9h0.7v0.7h-0.7zM266.92 257.1h0.7v0.7h-0.7zM263.36 248.18h0.7v0.7h-0.7zM266.08 242.25h0.7v0.7h-0.7zM262.11 253.65h0.7v0.7h-0.7zM263.52 245.1h0.7v0.7h-0.7zM266.62 253.23h0.7v0.7h-0.7zM266.87 248.41h0.7v0.7h-0.7zM264.24 248.36h0.7v0.7h-0.7zM265.52 238.91h0.7v0.7h-0.7zM263.35 254.21h0.7v0.7h-0.7z" fill="#444"/>
<ellipse cx="262.9" cy="232.4" rx="4" ry="4" fill="#999" fill-opacity="0.5"/>
<path d="M261.08 232.25h0.7v0.7h-0.7zM263.21 233.62h0.7v0.7h-0.7zM261.8 229.76h0.7v0.7h-0.7zM268.82 230.73h0.7v0.7h-0.7zM266.96 228.3h0.7v0.7h-0.7zM263.18 231.95h0.7v0.7h-0.7zM267.4 237.17h0.7v0.7h-0.7zM265.23 230.03h0.7v0.7h-0.7zM261.02 230.65h0.7v0.7h-0.7zM261.7 233.01h0.7v0.7h-0.7zM261.06 231.83h0.7v0.7h-0.7zM266.4 235.76h0.7v0.7h-0.7zM258.52 230.18h0.7v0.7h-0.7zM262.04 235.43h0.7v0.7h-0.7zM262.14 236.86h0.7v0.7h-0.7zM263.78 235.75h0.7v0.7h-0.7zM260.9 231.68h0.7v0.7h-0.7zM265.33 233.74h0.7v0.7h-0.7zM258.52 231.76h0.7v0.7h-0.7zM263.35 233.87h0.7v0.7h-0.7zM261.42 236.46h0.7v0.7h-0.7zM263.28 235.78h0.7v0.7h-0.7zM263.87 232.6h0.7v0.7h-0.7zM262.17 229.68h0.7v0.7h-0.7zM264.96 234.17h0.7v0.7h-0.7zM265.13 231.53h0.7v0.7h-0.7zM260.55 231.52h0.7v0.7h-0.7zM262.19 232.38h0.7v0.7h-0.7zM265.24 230.28h0.7v0.7h-0.7zM261.77 234.01h0.7v0.7h-0.7zM265.05 237.56h0.7v0.7h-0.7zM264.17 230.43h0.7v0.7h-0.7zM260.47 230.56h0.7v0.7h-0.7zM263.09 232.99h0.7v0.7h-0.7zM262.77 230.98h0.7v0.7h-0.7zM262.49 232.22h0.7v0.7h-0.7zM264.32 232.6h0.7v0.7h-0.7zM261.02 229.68h0.7v0.7h-0.7zM266.42 232.2h0.7v0.7h-0.7zM262.51 232.35h0.7v0.7h-0.7zM265.58 231.68h0.7v0.7h-0.7zM263.34 231.85h0.7v0.7h-0.7zM264.29 230.05h0.7v0.7h-0.7zM263.41 234.8h0.7v0.7h-0.7zM265.72 233.84h0.7v0.7h-0.7zM263.62 236.06h0.7v0.7h-0.7zM264.59 235.66h0.7v0.7h-0.7zM260.1 229.85h0.7v0.7h-0.7zM264.81 231.79h0.7v0.7h-0.7zM261.91 230.2h0.7v0.7h-0.7zM266.42 229.63h0.7v0.7h-0.7zM263.18 229.16h0.7v0.7h-0.7zM262.52 237.63h0.7v0.7h-0.7zM268.66 231.26h0.7v0.7h-0.7zM260.55 236.19h0.7v0.7h-0.7zM260.92 228.26h0.7v0.7h-0.7zM263.75 229.9h0.7v0.7h-0.7zM259.52 235.02h0.7v0.7h-0.7zM261.21 229.93h0.7v0.7h-0.7zM263.33 231.97h0.7v0.7h-0.7zM265.57 232.63h0.7v0.7h-0.7zM266.68 235.05h0.7v0.7h-0.7zM267.12 235.01h0.7v0.7h-0.7zM263.1 233.67h0.7v0.7h-0.7zM262.99 228.79h0.7v0.7h-0.7zM260.17 234.13h0.7v0.7h-0.7zM257.37 230.49h0.7v0.7h-0.7zM259.91 232.26h0.7v0.7h-0.7zM260.5 232.98h0.7v0.7h-0.7zM262.47 231.31h0.7v0.7h-0.7zM260.94 227.24h0.7v0.7h-0.7zM263.11 229.4h0.7v0.7h-0.7zM262.24 233.27h0.7v0.7h-0.7zM265.4 234.04h0.7v0.7h-0.7zM266.41 229.11h0.7v0.7h-0.7zM264.52 236.05h0.7v0.7h-0.7zM263.86 229.83h0.7v0.7h-0.7zM263.87 231.2h0.7v0.7h-0.7zM261.42 234.88h0.7v0.7h-0.7zM262.52 229.81h0.7v0.7h-0.7z" fill="#444"/>
<rect x="254.9" y="226.4" width="17.3" height="14" fill="none" stroke="#888" stroke-width="0.8"/>
<text x="257.4" y="224.4" font-size="7.4" textLength="14.1" lengthAdjust="spacingAndGlyphs">13.6</text>
<line x1="252.9" y1="240.4" x2="252.9" y2="273.4" stroke="#000" stroke-width="0.9"/>
<polygon points="252.9,277.4 250.1,272.9 255.7,272.9" fill="#000" stroke="none" stroke-width="1"/>
<rect x="256" y="284.4" width="16.9" height="36.8" fill="#ddd" fill-opacity="0.35"/>
<path d="M262.01 294.89h0.7v0.7h-0.7zM265.02 297.21h0.7v0.7h-0.7zM263.68 287.26h0.7v0.7h-0.7zM262.62 286.87h0.7v0.7h-0.7zM263.56 297.64h0.7v0.7h-0.7zM266.42 290.85h0.7v0.7h-0.7zM266.32 292.99h0.7v0.7h-0.7zM263.58 291.55h0.7v0.7h-0.7zM263.96 297.47h0.7v0.7h-0.7zM265.62 295.4h0.7v0.7h-0.7zM267.14 288.72h0.7v0.7h-0.7zM267.21 295.54h0.7v0.7h-0.7zM263.68 290.02h0.7v0.7h-0.7zM261.99 290.44h0.7v0.7h-0.7zM264.31 284.97h0.7v0.7h-0.7zM267.91 288.12h0.7v0.7h-0.7zM265.24 294.55h0.7v0.7h-0.7zM267.33 293.64h0.7v0.7h-0.7zM263.76 297.05h0.7v0.7h-0.7zM267.12 287.22h0.7v0.7h-0.7zM262.04 295.6h0.7v0.7h-0.7zM260.08 290.33h0.7v0.7h-0.7zM265.83 295.28h0.7v0.7h-0.7zM271.72 294.53h0.7v0.7h-0.7zM264.69 292.94h0.7v0.7h-0.7zM264.58 288.82h0.7v0.7h-0.7zM264.45 291.12h0.7v0.7h-0.7zM266.46 294.92h0.7v0.7h-0.7zM267.37 294.48h0.7v0.7h-0.7zM256.68 292.26h0.7v0.7h-0.7zM265.47 289.22h0.7v0.7h-0.7zM269.98 286.57h0.7v0.7h-0.7zM261.08 289.34h0.7v0.7h-0.7zM265.72 295.45h0.7v0.7h-0.7zM264.82 294.86h0.7v0.7h-0.7zM262.45 288.87h0.7v0.7h-0.7zM264.88 285.39h0.7v0.7h-0.7zM265.05 289.86h0.7v0.7h-0.7zM266.5 286.95h0.7v0.7h-0.7zM262.96 289.05h0.7v0.7h-0.7zM263.43 287.02h0.7v0.7h-0.7zM263.74 285.36h0.7v0.7h-0.7zM266.07 294.87h0.7v0.7h-0.7zM264.46 290.83h0.7v0.7h-0.7zM261.9 287.2h0.7v0.7h-0.7zM263.86 287.46h0.7v0.7h-0.7zM261.07 292.5h0.7v0.7h-0.7zM264.44 289.81h0.7v0.7h-0.7zM262.13 291.46h0.7v0.7h-0.7zM262.48 289.69h0.7v0.7h-0.7zM265.04 295.1h0.7v0.7h-0.7zM266.7 288.86h0.7v0.7h-0.7zM268.02 286.27h0.7v0.7h-0.7zM264 297.84h0.7v0.7h-0.7zM271.41 292.32h0.7v0.7h-0.7zM263.45 289.96h0.7v0.7h-0.7zM260.97 291.03h0.7v0.7h-0.7zM263.27 288.17h0.7v0.7h-0.7zM267.98 288.05h0.7v0.7h-0.7zM269.43 295.67h0.7v0.7h-0.7zM266.36 288.95h0.7v0.7h-0.7zM265.29 290.44h0.7v0.7h-0.7zM265.63 288.56h0.7v0.7h-0.7zM258.14 293.95h0.7v0.7h-0.7zM268.23 290.07h0.7v0.7h-0.7zM261.59 295.06h0.7v0.7h-0.7zM262.36 291.53h0.7v0.7h-0.7zM267.08 285.51h0.7v0.7h-0.7zM263.1 286.31h0.7v0.7h-0.7zM260.47 288.5h0.7v0.7h-0.7zM267.7 291.94h0.7v0.7h-0.7zM266.45 291.08h0.7v0.7h-0.7zM263.27 292.1h0.7v0.7h-0.7zM269.71 293.48h0.7v0.7h-0.7zM262.18 295.54h0.7v0.7h-0.7zM268.03 289.84h0.7v0.7h-0.7zM263.84 289.56h0.7v0.7h-0.7zM266.8 291.81h0.7v0.7h-0.7zM268.85 297.29h0.7v0.7h-0.7zM263.6 288.84h0.7v0.7h-0.7zM263.81 287.57h0.7v0.7h-0.7zM263.27 291.37h0.7v0.7h-0.7zM260.44 288.07h0.7v0.7h-0.7zM263.61 293.85h0.7v0.7h-0.7zM262.96 290.69h0.7v0.7h-0.7zM264.65 297.22h0.7v0.7h-0.7zM265.35 291.83h0.7v0.7h-0.7zM262.92 292.51h0.7v0.7h-0.7zM265.66 290.06h0.7v0.7h-0.7zM262.95 297.28h0.7v0.7h-0.7z" fill="#555"/>
<path d="M268.6 304.39h0.7v0.7h-0.7zM263.3 308.31h0.7v0.7h-0.7zM267.84 300.77h0.7v0.7h-0.7zM263.84 300.24h0.7v0.7h-0.7zM265.29 303.2h0.7v0.7h-0.7zM260.15 300.83h0.7v0.7h-0.7zM267.61 306.3h0.7v0.7h-0.7zM261.81 307.16h0.7v0.7h-0.7zM260.57 303.47h0.7v0.7h-0.7zM266.34 302.7h0.7v0.7h-0.7zM264.15 307.03h0.7v0.7h-0.7zM268.89 309.41h0.7v0.7h-0.7zM265.81 303.7h0.7v0.7h-0.7zM267 304.5h0.7v0.7h-0.7zM266.53 305.81h0.7v0.7h-0.7zM263.92 304.64h0.7v0.7h-0.7zM264.37 308.91h0.7v0.7h-0.7zM263.73 302.67h0.7v0.7h-0.7zM266.37 307.01h0.7v0.7h-0.7zM265.74 305.69h0.7v0.7h-0.7zM268.74 308.73h0.7v0.7h-0.7zM265.09 303.88h0.7v0.7h-0.7zM262.97 302.07h0.7v0.7h-0.7zM264.98 303.25h0.7v0.7h-0.7zM271.6 307.35h0.7v0.7h-0.7zM264.47 303.48h0.7v0.7h-0.7zM268.04 307.69h0.7v0.7h-0.7zM267.15 309.08h0.7v0.7h-0.7zM263.43 302.24h0.7v0.7h-0.7zM262.4 305.03h0.7v0.7h-0.7zM267.37 300.8h0.7v0.7h-0.7zM262.94 299.76h0.7v0.7h-0.7zM270.25 307.58h0.7v0.7h-0.7zM265.11 300.2h0.7v0.7h-0.7zM261.51 302.29h0.7v0.7h-0.7zM264.58 300h0.7v0.7h-0.7zM263.82 309.12h0.7v0.7h-0.7zM264.52 305.01h0.7v0.7h-0.7zM258.44 303.66h0.7v0.7h-0.7zM264.06 302.12h0.7v0.7h-0.7zM260.49 304.39h0.7v0.7h-0.7zM261.53 302.65h0.7v0.7h-0.7zM259.88 304.31h0.7v0.7h-0.7zM267.1 301.57h0.7v0.7h-0.7zM266.15 306.64h0.7v0.7h-0.7zM263.36 307.89h0.7v0.7h-0.7zM261.95 304.82h0.7v0.7h-0.7zM269.33 304.57h0.7v0.7h-0.7zM261.24 308.88h0.7v0.7h-0.7zM266.02 303.64h0.7v0.7h-0.7zM265.32 301.53h0.7v0.7h-0.7zM262.05 306.42h0.7v0.7h-0.7zM259.73 306.02h0.7v0.7h-0.7zM269.71 299.47h0.7v0.7h-0.7zM264.64 302.32h0.7v0.7h-0.7zM264.21 304.97h0.7v0.7h-0.7zM265.29 307.92h0.7v0.7h-0.7zM265.96 308.49h0.7v0.7h-0.7zM267.4 308.69h0.7v0.7h-0.7zM262.53 306.15h0.7v0.7h-0.7z" fill="#666"/>
<path d="M263.4 312.77h0.7v0.7h-0.7zM270.11 316.79h0.7v0.7h-0.7zM263.81 318.49h0.7v0.7h-0.7zM263.89 313.82h0.7v0.7h-0.7zM268.72 314.65h0.7v0.7h-0.7zM263.52 315.4h0.7v0.7h-0.7zM263.8 319.48h0.7v0.7h-0.7zM266.12 315.5h0.7v0.7h-0.7zM263.44 314.95h0.7v0.7h-0.7zM269.34 314.67h0.7v0.7h-0.7zM265.4 318.19h0.7v0.7h-0.7zM268.13 316.87h0.7v0.7h-0.7zM266.14 316.9h0.7v0.7h-0.7zM265.06 312.86h0.7v0.7h-0.7zM266.19 315.36h0.7v0.7h-0.7zM266.32 318.5h0.7v0.7h-0.7zM264.92 314.19h0.7v0.7h-0.7zM265.36 311.33h0.7v0.7h-0.7zM265.26 312.61h0.7v0.7h-0.7zM265.77 316.18h0.7v0.7h-0.7zM263.85 311.49h0.7v0.7h-0.7zM264.62 313.34h0.7v0.7h-0.7zM264.07 318.21h0.7v0.7h-0.7zM267.22 311.18h0.7v0.7h-0.7zM267.71 316.73h0.7v0.7h-0.7zM264.74 316.77h0.7v0.7h-0.7zM261.51 311.44h0.7v0.7h-0.7zM270.17 316.15h0.7v0.7h-0.7zM266.72 313.68h0.7v0.7h-0.7zM260.13 315.12h0.7v0.7h-0.7zM268.33 313.38h0.7v0.7h-0.7zM259.34 315.14h0.7v0.7h-0.7zM263.68 315.81h0.7v0.7h-0.7zM261.48 314.65h0.7v0.7h-0.7zM262.92 318.88h0.7v0.7h-0.7zM264.92 318.84h0.7v0.7h-0.7zM258.87 317.65h0.7v0.7h-0.7zM267 318.85h0.7v0.7h-0.7zM263.07 317.18h0.7v0.7h-0.7zM268.44 314.53h0.7v0.7h-0.7zM262.87 313h0.7v0.7h-0.7zM267.41 318.83h0.7v0.7h-0.7zM259.24 320.05h0.7v0.7h-0.7zM259.91 313.17h0.7v0.7h-0.7zM260.91 313.37h0.7v0.7h-0.7zM264.94 317.23h0.7v0.7h-0.7zM263.3 313.34h0.7v0.7h-0.7zM259.34 316.26h0.7v0.7h-0.7zM268.84 319.09h0.7v0.7h-0.7zM268.64 316.17h0.7v0.7h-0.7zM263.3 315.45h0.7v0.7h-0.7zM260.56 318.38h0.7v0.7h-0.7zM265.26 314.67h0.7v0.7h-0.7zM259.12 315.36h0.7v0.7h-0.7zM267 314.5h0.7v0.7h-0.7zM264.88 317.72h0.7v0.7h-0.7zM265.04 319.47h0.7v0.7h-0.7zM257.52 312.52h0.7v0.7h-0.7zM260.51 318.11h0.7v0.7h-0.7zM267.57 315.75h0.7v0.7h-0.7z" fill="#888"/>
<rect x="256" y="284.4" width="16.9" height="14.6" fill="none" stroke="#222" stroke-width="0.9"/>
<rect x="256" y="299" width="16.9" height="11.3" fill="none" stroke="#222" stroke-width="0.9"/>
<rect x="256" y="310.3" width="16.9" height="10.9" fill="none" stroke="#222" stroke-width="0.9"/>
<text x="253.3" y="294.7" font-size="7.4" text-anchor="end">44.2</text>
<text x="253.3" y="307.6" font-size="7.4" text-anchor="end">30.1</text>
<text x="253.3" y="319" font-size="7.4" text-anchor="end">11.5</text>
<rect x="295.7" y="205" width="66.6" height="56.2" fill="#fff" stroke="#777" stroke-width="0.7"/>
<path d="M295.7 205V261.2" stroke="#222" stroke-width="0.9" stroke-dasharray="0.8 1.6"/>
<path d="M295.7 261.2H362.3" stroke="#222" stroke-width="0.9" stroke-dasharray="0.8 1.6"/>
<line x1="295.7" y1="216.24" x2="297" y2="216.24" stroke="#333" stroke-width="0.6"/>
<line x1="309.02" y1="261.2" x2="309.02" y2="259.9" stroke="#333" stroke-width="0.6"/>
<line x1="295.7" y1="227.48" x2="297" y2="227.48" stroke="#333" stroke-width="0.6"/>
<line x1="322.34" y1="261.2" x2="322.34" y2="259.9" stroke="#333" stroke-width="0.6"/>
<line x1="295.7" y1="238.72" x2="297" y2="238.72" stroke="#333" stroke-width="0.6"/>
<line x1="335.66" y1="261.2" x2="335.66" y2="259.9" stroke="#333" stroke-width="0.6"/>
<line x1="295.7" y1="249.96" x2="297" y2="249.96" stroke="#333" stroke-width="0.6"/>
<line x1="348.98" y1="261.2" x2="348.98" y2="259.9" stroke="#333" stroke-width="0.6"/>
<rect x="295.7" y="264.8" width="66.6" height="57" fill="#fff" stroke="#777" stroke-width="0.7"/>
<path d="M295.7 264.8V321.8" stroke="#222" stroke-width="0.9" stroke-dasharray="0.8 1.6"/>
<path d="M295.7 321.8H362.3" stroke="#222" stroke-width="0.9" stroke-dasharray="0.8 1.6"/>
<line x1="295.7" y1="276.2" x2="297" y2="276.2" stroke="#333" stroke-width="0.6"/>
<line x1="309.02" y1="321.8" x2="309.02" y2="320.5" stroke="#333" stroke-width="0.6"/>
<line x1="295.7" y1="287.6" x2="297" y2="287.6" stroke="#333" stroke-width="0.6"/>
<line x1="322.34" y1="321.8" x2="322.34" y2="320.5" stroke="#333" stroke-width="0.6"/>
<line x1="295.7" y1="299" x2="297" y2="299" stroke="#333" stroke-width="0.6"/>
<line x1="335.66" y1="321.8" x2="335.66" y2="320.5" stroke="#333" stroke-width="0.6"/>
<line x1="295.7" y1="310.4" x2="297" y2="310.4" stroke="#333" stroke-width="0.6"/>
<line x1="348.98" y1="321.8" x2="348.98" y2="320.5" stroke="#333" stroke-width="0.6"/>
<ellipse cx="334.45" cy="250.25" rx="7.15" ry="10.25" fill="#aaa" fill-opacity="0.45"/>
<path d="M335.96 250.64h0.7v0.7h-0.7zM334.96 247.87h0.7v0.7h-0.7zM333.38 256.27h0.7v0.7h-0.7zM333.75 250.05h0.7v0.7h-0.7zM337.75 255.23h0.7v0.7h-0.7zM333.41 251.53h0.7v0.7h-0.7zM331.71 250.92h0.7v0.7h-0.7zM335.35 250.25h0.7v0.7h-0.7zM334.93 252.1h0.7v0.7h-0.7zM327.55 246.08h0.7v0.7h-0.7zM334.69 247.76h0.7v0.7h-0.7zM331.84 249.05h0.7v0.7h-0.7zM338.89 249.1h0.7v0.7h-0.7zM332.7 247.82h0.7v0.7h-0.7zM331.23 252.71h0.7v0.7h-0.7zM331.78 254.86h0.7v0.7h-0.7zM336.97 253.15h0.7v0.7h-0.7zM337.33 249.82h0.7v0.7h-0.7zM329.67 249.93h0.7v0.7h-0.7zM336.23 242.43h0.7v0.7h-0.7zM331.14 255.8h0.7v0.7h-0.7zM335.68 257.07h0.7v0.7h-0.7zM336.31 250.59h0.7v0.7h-0.7zM335.66 254.55h0.7v0.7h-0.7zM334.41 249.19h0.7v0.7h-0.7zM335.34 248.66h0.7v0.7h-0.7zM341.09 246.37h0.7v0.7h-0.7zM330.33 243.71h0.7v0.7h-0.7zM337.35 248.2h0.7v0.7h-0.7zM334.92 249.16h0.7v0.7h-0.7zM335.25 242.9h0.7v0.7h-0.7zM334.72 247.35h0.7v0.7h-0.7zM337.46 253.4h0.7v0.7h-0.7zM331.03 245.35h0.7v0.7h-0.7zM336.05 256.31h0.7v0.7h-0.7zM336.59 249.48h0.7v0.7h-0.7zM337.54 238.31h0.7v0.7h-0.7zM333.01 245.31h0.7v0.7h-0.7zM331.65 253.11h0.7v0.7h-0.7zM335.25 251.69h0.7v0.7h-0.7zM334.12 253.39h0.7v0.7h-0.7zM336.64 247.35h0.7v0.7h-0.7zM337.06 245.55h0.7v0.7h-0.7zM339.33 243.65h0.7v0.7h-0.7zM333.7 244.77h0.7v0.7h-0.7zM334.59 256.92h0.7v0.7h-0.7zM332.42 259.25h0.7v0.7h-0.7zM338.37 252.21h0.7v0.7h-0.7zM332.87 254.83h0.7v0.7h-0.7zM326.61 246.38h0.7v0.7h-0.7zM337.14 250.05h0.7v0.7h-0.7zM341.34 246.83h0.7v0.7h-0.7zM330.82 249.16h0.7v0.7h-0.7zM336.08 258.9h0.7v0.7h-0.7zM329.62 251.05h0.7v0.7h-0.7zM337.98 246.84h0.7v0.7h-0.7zM333.23 244.1h0.7v0.7h-0.7zM336.61 254.46h0.7v0.7h-0.7zM336.12 251.5h0.7v0.7h-0.7zM337.23 249.63h0.7v0.7h-0.7zM336.47 254.41h0.7v0.7h-0.7zM338.08 252.86h0.7v0.7h-0.7zM334.72 253.84h0.7v0.7h-0.7zM330.2 241.3h0.7v0.7h-0.7zM338.97 250.95h0.7v0.7h-0.7zM331.58 247.3h0.7v0.7h-0.7zM334.07 250.62h0.7v0.7h-0.7zM332.37 255.31h0.7v0.7h-0.7zM331.48 258.7h0.7v0.7h-0.7zM336.34 241.69h0.7v0.7h-0.7zM331.09 250.56h0.7v0.7h-0.7zM335.24 248.09h0.7v0.7h-0.7zM334.52 251.08h0.7v0.7h-0.7zM331.31 250.56h0.7v0.7h-0.7zM340.81 246.96h0.7v0.7h-0.7zM331.67 253.63h0.7v0.7h-0.7zM338.23 255.56h0.7v0.7h-0.7zM332.73 249.87h0.7v0.7h-0.7zM335.05 249.18h0.7v0.7h-0.7zM335.6 255.77h0.7v0.7h-0.7zM336.01 250.2h0.7v0.7h-0.7zM333.93 259.37h0.7v0.7h-0.7zM336.54 250.7h0.7v0.7h-0.7zM332.41 259.61h0.7v0.7h-0.7zM337.88 254.89h0.7v0.7h-0.7zM340.31 241.1h0.7v0.7h-0.7zM334.77 248.68h0.7v0.7h-0.7zM332.45 250.64h0.7v0.7h-0.7zM335.99 252.93h0.7v0.7h-0.7zM334.1 243.5h0.7v0.7h-0.7zM336.05 253.36h0.7v0.7h-0.7zM340.43 255.01h0.7v0.7h-0.7zM334.53 244.39h0.7v0.7h-0.7zM342.12 246.8h0.7v0.7h-0.7zM335.04 254.07h0.7v0.7h-0.7zM335.9 257.05h0.7v0.7h-0.7zM331.59 246.73h0.7v0.7h-0.7zM334.98 243.96h0.7v0.7h-0.7zM332.77 257.32h0.7v0.7h-0.7zM335.32 249.73h0.7v0.7h-0.7zM332.89 250.5h0.7v0.7h-0.7zM334.4 244.75h0.7v0.7h-0.7zM336.7 243.71h0.7v0.7h-0.7zM338.09 248.52h0.7v0.7h-0.7zM328.06 242.32h0.7v0.7h-0.7zM335.3 245.81h0.7v0.7h-0.7zM339.59 257.32h0.7v0.7h-0.7zM340.42 254.82h0.7v0.7h-0.7zM338.3 247.15h0.7v0.7h-0.7zM338.16 248.01h0.7v0.7h-0.7zM334.35 243.28h0.7v0.7h-0.7zM334.65 252.32h0.7v0.7h-0.7zM334.31 244.58h0.7v0.7h-0.7zM337.04 254.93h0.7v0.7h-0.7zM334.24 254.27h0.7v0.7h-0.7zM337.28 245.2h0.7v0.7h-0.7zM334.39 240.71h0.7v0.7h-0.7zM331.56 252.45h0.7v0.7h-0.7zM332 252.27h0.7v0.7h-0.7zM335.51 239.66h0.7v0.7h-0.7zM333.11 258.05h0.7v0.7h-0.7zM334.53 250.89h0.7v0.7h-0.7zM332.49 242.02h0.7v0.7h-0.7zM333.96 245.78h0.7v0.7h-0.7zM334.8 240.29h0.7v0.7h-0.7zM338.46 259.06h0.7v0.7h-0.7zM332.35 251.91h0.7v0.7h-0.7zM331.93 254.66h0.7v0.7h-0.7zM332.1 249.51h0.7v0.7h-0.7zM338.2 252.95h0.7v0.7h-0.7zM333.56 242.43h0.7v0.7h-0.7zM329.95 256.44h0.7v0.7h-0.7zM335.95 250.55h0.7v0.7h-0.7zM338.06 251.01h0.7v0.7h-0.7zM332.42 249.71h0.7v0.7h-0.7zM334.21 250.18h0.7v0.7h-0.7zM341.59 253.24h0.7v0.7h-0.7zM335.27 248.96h0.7v0.7h-0.7zM332.55 245.13h0.7v0.7h-0.7zM329.13 247.88h0.7v0.7h-0.7zM330.16 240.69h0.7v0.7h-0.7zM331.81 239.79h0.7v0.7h-0.7zM338.41 256.68h0.7v0.7h-0.7zM336.37 237.22h0.7v0.7h-0.7zM334.54 245.1h0.7v0.7h-0.7zM329.51 248.9h0.7v0.7h-0.7zM337.78 252.55h0.7v0.7h-0.7zM330.31 246.83h0.7v0.7h-0.7zM332.32 256.17h0.7v0.7h-0.7zM334.2 245.19h0.7v0.7h-0.7zM331.87 240.07h0.7v0.7h-0.7zM332.07 254.88h0.7v0.7h-0.7zM329.02 251.25h0.7v0.7h-0.7zM334.16 254.47h0.7v0.7h-0.7zM331.21 254.96h0.7v0.7h-0.7zM329.82 250.09h0.7v0.7h-0.7zM333.88 250.89h0.7v0.7h-0.7zM331.65 254.69h0.7v0.7h-0.7zM341.2 258.04h0.7v0.7h-0.7zM331.74 247.26h0.7v0.7h-0.7zM336.57 250.95h0.7v0.7h-0.7zM332.29 256.65h0.7v0.7h-0.7zM335.96 255.55h0.7v0.7h-0.7zM333.97 256.87h0.7v0.7h-0.7zM333.14 244.46h0.7v0.7h-0.7zM334.45 243.02h0.7v0.7h-0.7zM338.07 254.05h0.7v0.7h-0.7zM329.65 251.14h0.7v0.7h-0.7zM336.91 248.39h0.7v0.7h-0.7zM335.67 247.22h0.7v0.7h-0.7zM334.27 249.81h0.7v0.7h-0.7zM335.86 245.23h0.7v0.7h-0.7zM331.23 251.96h0.7v0.7h-0.7zM333.01 252.94h0.7v0.7h-0.7zM333.02 243.45h0.7v0.7h-0.7zM336.59 251.63h0.7v0.7h-0.7zM336.57 248.49h0.7v0.7h-0.7zM333.44 256.8h0.7v0.7h-0.7zM329.61 259.27h0.7v0.7h-0.7zM335.94 249.95h0.7v0.7h-0.7zM334.72 253.38h0.7v0.7h-0.7zM332.25 251.69h0.7v0.7h-0.7zM331.73 240.66h0.7v0.7h-0.7zM335.04 250.77h0.7v0.7h-0.7zM336.33 253.14h0.7v0.7h-0.7zM336.48 254.35h0.7v0.7h-0.7zM331.43 256.56h0.7v0.7h-0.7zM342.16 247.31h0.7v0.7h-0.7zM330.85 253.81h0.7v0.7h-0.7zM337.1 255.5h0.7v0.7h-0.7zM338.88 243.05h0.7v0.7h-0.7zM335.55 252.66h0.7v0.7h-0.7zM338.06 245.62h0.7v0.7h-0.7zM334.53 248.32h0.7v0.7h-0.7zM334 249.49h0.7v0.7h-0.7zM334.03 241.06h0.7v0.7h-0.7zM334.36 250.6h0.7v0.7h-0.7zM333.35 231.81h0.7v0.7h-0.7zM332.47 246.85h0.7v0.7h-0.7zM331.96 258.58h0.7v0.7h-0.7z" fill="#444"/>
<ellipse cx="334.4" cy="234.2" rx="4" ry="5" fill="#999" fill-opacity="0.5"/>
<path d="M336.64 233.64h0.7v0.7h-0.7zM335.86 244.11h0.7v0.7h-0.7zM332.07 235.63h0.7v0.7h-0.7zM332.96 238.67h0.7v0.7h-0.7zM337.08 233.83h0.7v0.7h-0.7zM335.89 231.8h0.7v0.7h-0.7zM330.59 236.74h0.7v0.7h-0.7zM338.36 233.28h0.7v0.7h-0.7zM333.14 228.8h0.7v0.7h-0.7zM339.59 230.59h0.7v0.7h-0.7zM332.07 233.61h0.7v0.7h-0.7zM337.33 234.36h0.7v0.7h-0.7zM334.36 234.26h0.7v0.7h-0.7zM336.46 234.09h0.7v0.7h-0.7zM334.79 233.98h0.7v0.7h-0.7zM331.73 238.25h0.7v0.7h-0.7zM332.73 230.23h0.7v0.7h-0.7zM333.35 234.3h0.7v0.7h-0.7zM336.39 229.77h0.7v0.7h-0.7zM331.35 234.74h0.7v0.7h-0.7zM335.33 230.9h0.7v0.7h-0.7zM331.67 234.73h0.7v0.7h-0.7zM334.06 229.33h0.7v0.7h-0.7zM332.29 238.67h0.7v0.7h-0.7zM331.85 237.36h0.7v0.7h-0.7zM330.71 238.68h0.7v0.7h-0.7zM338.27 232.29h0.7v0.7h-0.7zM332.76 236.1h0.7v0.7h-0.7zM331.41 235.86h0.7v0.7h-0.7zM337.35 234.99h0.7v0.7h-0.7zM335.19 233.73h0.7v0.7h-0.7zM336.83 231.73h0.7v0.7h-0.7zM338.24 234.13h0.7v0.7h-0.7zM333.62 229.28h0.7v0.7h-0.7zM333.34 234.91h0.7v0.7h-0.7zM337.41 229.34h0.7v0.7h-0.7zM334.1 232.13h0.7v0.7h-0.7zM331.51 234.21h0.7v0.7h-0.7zM332.57 236.82h0.7v0.7h-0.7zM327.9 236.42h0.7v0.7h-0.7zM329.81 228.33h0.7v0.7h-0.7zM335.66 233.18h0.7v0.7h-0.7zM334.71 231.29h0.7v0.7h-0.7zM331.87 231.98h0.7v0.7h-0.7zM334.27 231.67h0.7v0.7h-0.7zM333.39 231.61h0.7v0.7h-0.7zM334.97 230.77h0.7v0.7h-0.7zM329.38 226.29h0.7v0.7h-0.7zM334.36 234.49h0.7v0.7h-0.7zM336.72 231.97h0.7v0.7h-0.7zM331.65 229.71h0.7v0.7h-0.7zM336.23 232.32h0.7v0.7h-0.7zM336.78 233.96h0.7v0.7h-0.7zM333.74 228.6h0.7v0.7h-0.7zM332.77 236.58h0.7v0.7h-0.7zM332.93 236.24h0.7v0.7h-0.7zM330.44 237.26h0.7v0.7h-0.7zM341.11 237.56h0.7v0.7h-0.7zM335.18 230.48h0.7v0.7h-0.7zM333.13 232.23h0.7v0.7h-0.7zM334.85 228.12h0.7v0.7h-0.7zM332.32 236.58h0.7v0.7h-0.7zM334.75 236.44h0.7v0.7h-0.7zM336.46 230.75h0.7v0.7h-0.7zM331.16 235.6h0.7v0.7h-0.7zM334.48 234.44h0.7v0.7h-0.7zM332.44 237.27h0.7v0.7h-0.7zM335.6 237.64h0.7v0.7h-0.7zM333.55 236.29h0.7v0.7h-0.7zM334.26 231.37h0.7v0.7h-0.7zM334.21 229.21h0.7v0.7h-0.7zM333.97 234.74h0.7v0.7h-0.7zM336.07 231.03h0.7v0.7h-0.7zM331.2 232h0.7v0.7h-0.7zM329.41 232.23h0.7v0.7h-0.7zM340.7 234.63h0.7v0.7h-0.7zM332.57 232.15h0.7v0.7h-0.7zM338.66 230.69h0.7v0.7h-0.7zM334.13 233.96h0.7v0.7h-0.7zM332.63 232.03h0.7v0.7h-0.7z" fill="#444"/>
<rect x="325.3" y="227.1" width="17.4" height="14.1" fill="none" stroke="#888" stroke-width="0.8"/>
<text x="329.4" y="225" font-size="7.4" textLength="6.6" lengthAdjust="spacingAndGlyphs">21</text>
<line x1="323.3" y1="240.3" x2="323.3" y2="273.4" stroke="#000" stroke-width="0.9"/>
<polygon points="323.3,277.4 320.5,272.9 326.1,272.9" fill="#000" stroke="none" stroke-width="1"/>
<rect x="326" y="284" width="16.9" height="37.2" fill="#ddd" fill-opacity="0.35"/>
<path d="M329.4 287.28h0.7v0.7h-0.7zM333.6 295.03h0.7v0.7h-0.7zM335.84 292.05h0.7v0.7h-0.7zM334.04 297.6h0.7v0.7h-0.7zM336.16 290.37h0.7v0.7h-0.7zM333.75 296.19h0.7v0.7h-0.7zM332.66 287.9h0.7v0.7h-0.7zM333.62 289h0.7v0.7h-0.7zM338.25 293.29h0.7v0.7h-0.7zM334.19 288.86h0.7v0.7h-0.7zM338.71 293.71h0.7v0.7h-0.7zM340.72 296.06h0.7v0.7h-0.7zM333.8 288.75h0.7v0.7h-0.7zM333.59 292.41h0.7v0.7h-0.7zM336.83 293.94h0.7v0.7h-0.7zM334.54 284.38h0.7v0.7h-0.7zM331.35 288.48h0.7v0.7h-0.7zM332.49 286.64h0.7v0.7h-0.7zM329.88 297.21h0.7v0.7h-0.7zM333.49 296.34h0.7v0.7h-0.7zM332.66 295.91h0.7v0.7h-0.7zM332.77 293.48h0.7v0.7h-0.7zM335.75 296.77h0.7v0.7h-0.7zM333.61 297.92h0.7v0.7h-0.7zM334.67 289.05h0.7v0.7h-0.7zM332.52 291.77h0.7v0.7h-0.7zM331.72 285.51h0.7v0.7h-0.7zM334.84 295.06h0.7v0.7h-0.7zM333.57 295.72h0.7v0.7h-0.7zM339.22 285.15h0.7v0.7h-0.7zM335.22 286.66h0.7v0.7h-0.7zM332.51 292.39h0.7v0.7h-0.7zM327.31 294.54h0.7v0.7h-0.7zM336.97 294.22h0.7v0.7h-0.7zM333.35 296.98h0.7v0.7h-0.7zM338.8 293.96h0.7v0.7h-0.7zM329.08 290.71h0.7v0.7h-0.7zM334.27 295.29h0.7v0.7h-0.7zM333.67 290.58h0.7v0.7h-0.7zM338.87 288.42h0.7v0.7h-0.7zM331.61 291.69h0.7v0.7h-0.7zM337.82 294.47h0.7v0.7h-0.7zM334.67 289.03h0.7v0.7h-0.7zM338.16 295.93h0.7v0.7h-0.7zM329.23 293.16h0.7v0.7h-0.7zM336.29 288.34h0.7v0.7h-0.7zM330.57 289.99h0.7v0.7h-0.7zM329.18 294.33h0.7v0.7h-0.7zM334.39 297.43h0.7v0.7h-0.7zM330.63 289.71h0.7v0.7h-0.7zM339.91 292.42h0.7v0.7h-0.7zM332.78 292.44h0.7v0.7h-0.7zM336.79 286.46h0.7v0.7h-0.7zM336.99 293.05h0.7v0.7h-0.7zM336.65 297.59h0.7v0.7h-0.7zM334.59 292.68h0.7v0.7h-0.7zM335.67 293.84h0.7v0.7h-0.7zM331.25 290.12h0.7v0.7h-0.7zM333.99 291.67h0.7v0.7h-0.7zM332.19 290.83h0.7v0.7h-0.7zM335.31 292.43h0.7v0.7h-0.7zM336.22 295.61h0.7v0.7h-0.7zM336.12 296.33h0.7v0.7h-0.7zM336.34 288.39h0.7v0.7h-0.7zM341.45 297.15h0.7v0.7h-0.7zM338.2 295.15h0.7v0.7h-0.7zM334.59 285.76h0.7v0.7h-0.7zM335.76 289.72h0.7v0.7h-0.7zM339.11 285.64h0.7v0.7h-0.7zM331.14 293.83h0.7v0.7h-0.7zM336.15 287.52h0.7v0.7h-0.7zM334.43 292.76h0.7v0.7h-0.7zM334.92 294.14h0.7v0.7h-0.7zM336.78 289.65h0.7v0.7h-0.7zM333.29 286.53h0.7v0.7h-0.7zM336.71 294.43h0.7v0.7h-0.7zM327.37 297.91h0.7v0.7h-0.7zM334.33 293.05h0.7v0.7h-0.7zM335.41 290.33h0.7v0.7h-0.7zM335.41 284.97h0.7v0.7h-0.7zM326.69 297.67h0.7v0.7h-0.7zM327.73 287.22h0.7v0.7h-0.7zM337.09 289.45h0.7v0.7h-0.7zM334.08 290.6h0.7v0.7h-0.7zM334.92 293.6h0.7v0.7h-0.7zM337.88 294.08h0.7v0.7h-0.7zM339.02 297.5h0.7v0.7h-0.7zM334.13 286.24h0.7v0.7h-0.7zM335.75 296.31h0.7v0.7h-0.7zM329.79 285.3h0.7v0.7h-0.7z" fill="#555"/>
<path d="M336.52 302.55h0.7v0.7h-0.7zM338.84 305.47h0.7v0.7h-0.7zM332.79 299.63h0.7v0.7h-0.7zM330.52 299.69h0.7v0.7h-0.7zM333.78 303.2h0.7v0.7h-0.7zM336.56 309.35h0.7v0.7h-0.7zM333.82 308.92h0.7v0.7h-0.7zM327.33 304.45h0.7v0.7h-0.7zM333.8 299.83h0.7v0.7h-0.7zM340.32 302.06h0.7v0.7h-0.7zM334.44 299.92h0.7v0.7h-0.7zM336.49 305.37h0.7v0.7h-0.7zM333.58 303.13h0.7v0.7h-0.7zM332.73 301.93h0.7v0.7h-0.7zM330.21 309.2h0.7v0.7h-0.7zM337.14 299.39h0.7v0.7h-0.7zM330.94 306.19h0.7v0.7h-0.7zM341.27 303.87h0.7v0.7h-0.7zM333.5 303.69h0.7v0.7h-0.7zM335.2 303.98h0.7v0.7h-0.7zM337.71 308.36h0.7v0.7h-0.7zM333.75 302.56h0.7v0.7h-0.7zM335.52 300.6h0.7v0.7h-0.7zM334.03 303.16h0.7v0.7h-0.7zM331.19 308.87h0.7v0.7h-0.7zM333.24 306.35h0.7v0.7h-0.7zM332.86 305.21h0.7v0.7h-0.7zM333.1 304.93h0.7v0.7h-0.7zM334.15 302.07h0.7v0.7h-0.7zM335.76 303.95h0.7v0.7h-0.7zM331.53 300.68h0.7v0.7h-0.7zM330.5 303.07h0.7v0.7h-0.7zM335.8 308.59h0.7v0.7h-0.7zM336.59 300.17h0.7v0.7h-0.7zM334.56 308.04h0.7v0.7h-0.7zM335.17 303.79h0.7v0.7h-0.7zM330.88 305.27h0.7v0.7h-0.7zM334.25 304.77h0.7v0.7h-0.7zM338.97 309.13h0.7v0.7h-0.7zM332.06 305.52h0.7v0.7h-0.7zM333.51 305.02h0.7v0.7h-0.7zM339.37 308.11h0.7v0.7h-0.7zM334.57 302.16h0.7v0.7h-0.7zM333.96 306.02h0.7v0.7h-0.7zM332.94 308.81h0.7v0.7h-0.7zM334.51 300.18h0.7v0.7h-0.7zM333.64 304.19h0.7v0.7h-0.7zM337.43 308.86h0.7v0.7h-0.7zM335.4 305.08h0.7v0.7h-0.7zM337.51 304.55h0.7v0.7h-0.7zM330.65 302.93h0.7v0.7h-0.7zM336.45 306.96h0.7v0.7h-0.7zM331.12 309.17h0.7v0.7h-0.7zM335.86 308.45h0.7v0.7h-0.7zM336.05 303.47h0.7v0.7h-0.7zM332.03 308.89h0.7v0.7h-0.7zM335.13 304.62h0.7v0.7h-0.7zM333.24 300.74h0.7v0.7h-0.7zM328.8 303.35h0.7v0.7h-0.7zM337.79 307.53h0.7v0.7h-0.7z" fill="#666"/>
<path d="M333.76 312.08h0.7v0.7h-0.7zM333.28 311.29h0.7v0.7h-0.7zM335.27 313.07h0.7v0.7h-0.7zM336.58 313.95h0.7v0.7h-0.7zM338.26 314.44h0.7v0.7h-0.7zM340.59 314.47h0.7v0.7h-0.7zM335.03 312.32h0.7v0.7h-0.7zM330.6 317h0.7v0.7h-0.7zM335.51 312.2h0.7v0.7h-0.7zM336.14 314.24h0.7v0.7h-0.7zM332.78 315.48h0.7v0.7h-0.7zM335.64 318.4h0.7v0.7h-0.7zM338.17 317.14h0.7v0.7h-0.7zM332.26 313.25h0.7v0.7h-0.7zM335.56 311.39h0.7v0.7h-0.7zM333.93 314.35h0.7v0.7h-0.7zM334.15 316.41h0.7v0.7h-0.7zM337.11 319.43h0.7v0.7h-0.7zM331.23 319.53h0.7v0.7h-0.7zM338.35 310.81h0.7v0.7h-0.7zM342.06 313.68h0.7v0.7h-0.7zM334.64 312.83h0.7v0.7h-0.7zM332.72 319.65h0.7v0.7h-0.7zM335.22 314.38h0.7v0.7h-0.7zM337.91 312.33h0.7v0.7h-0.7zM331.89 313.7h0.7v0.7h-0.7zM332.2 318.26h0.7v0.7h-0.7zM333.76 311.91h0.7v0.7h-0.7zM334.95 316.12h0.7v0.7h-0.7zM336.28 314.89h0.7v0.7h-0.7zM335.65 312.35h0.7v0.7h-0.7zM334.52 316.31h0.7v0.7h-0.7zM330.79 317.88h0.7v0.7h-0.7zM334.88 315.93h0.7v0.7h-0.7zM334.45 312.95h0.7v0.7h-0.7zM331.89 317.9h0.7v0.7h-0.7zM333.82 312.87h0.7v0.7h-0.7zM332.27 319.15h0.7v0.7h-0.7zM334.71 319.59h0.7v0.7h-0.7zM334.4 311.44h0.7v0.7h-0.7zM337.06 316.91h0.7v0.7h-0.7zM332.48 314.62h0.7v0.7h-0.7zM331.53 318.77h0.7v0.7h-0.7zM333.19 317.49h0.7v0.7h-0.7zM335.23 314.8h0.7v0.7h-0.7zM335.56 314.85h0.7v0.7h-0.7zM330.9 314.23h0.7v0.7h-0.7zM330.91 318.49h0.7v0.7h-0.7zM336.41 313.62h0.7v0.7h-0.7zM336.31 316.64h0.7v0.7h-0.7zM337.38 312.35h0.7v0.7h-0.7zM334.53 312.14h0.7v0.7h-0.7zM328.41 312.42h0.7v0.7h-0.7zM335.91 318.57h0.7v0.7h-0.7zM329.28 317.08h0.7v0.7h-0.7zM337.76 319.05h0.7v0.7h-0.7zM333.88 317.98h0.7v0.7h-0.7zM333.5 316.44h0.7v0.7h-0.7zM335.28 313.14h0.7v0.7h-0.7zM333.75 311.62h0.7v0.7h-0.7z" fill="#888"/>
<rect x="326" y="284" width="16.9" height="15" fill="none" stroke="#222" stroke-width="0.9"/>
<rect x="326" y="299" width="16.9" height="11.3" fill="none" stroke="#222" stroke-width="0.9"/>
<rect x="326" y="310.3" width="16.9" height="10.9" fill="none" stroke="#222" stroke-width="0.9"/>
<text x="324.3" y="294.1" font-size="7.4" text-anchor="end">33.9</text>
<text x="324.3" y="307.6" font-size="7.4" text-anchor="end">36.3</text>
<text x="324.3" y="319" font-size="7.4" text-anchor="end">13.1</text>
<rect x="372.8" y="204.5" width="66.7" height="56.7" fill="#fff" stroke="#777" stroke-width="0.7"/>
<path d="M372.8 204.5V261.2" stroke="#222" stroke-width="0.9" stroke-dasharray="0.8 1.6"/>
<path d="M372.8 261.2H439.5" stroke="#222" stroke-width="0.9" stroke-dasharray="0.8 1.6"/>
<line x1="372.8" y1="215.84" x2="374.1" y2="215.84" stroke="#333" stroke-width="0.6"/>
<line x1="386.14" y1="261.2" x2="386.14" y2="259.9" stroke="#333" stroke-width="0.6"/>
<line x1="372.8" y1="227.18" x2="374.1" y2="227.18" stroke="#333" stroke-width="0.6"/>
<line x1="399.48" y1="261.2" x2="399.48" y2="259.9" stroke="#333" stroke-width="0.6"/>
<line x1="372.8" y1="238.52" x2="374.1" y2="238.52" stroke="#333" stroke-width="0.6"/>
<line x1="412.82" y1="261.2" x2="412.82" y2="259.9" stroke="#333" stroke-width="0.6"/>
<line x1="372.8" y1="249.86" x2="374.1" y2="249.86" stroke="#333" stroke-width="0.6"/>
<line x1="426.16" y1="261.2" x2="426.16" y2="259.9" stroke="#333" stroke-width="0.6"/>
<rect x="372.8" y="264.2" width="66.7" height="58.2" fill="#fff" stroke="#777" stroke-width="0.7"/>
<path d="M372.8 264.2V322.4" stroke="#222" stroke-width="0.9" stroke-dasharray="0.8 1.6"/>
<path d="M372.8 322.4H439.5" stroke="#222" stroke-width="0.9" stroke-dasharray="0.8 1.6"/>
<line x1="372.8" y1="275.84" x2="374.1" y2="275.84" stroke="#333" stroke-width="0.6"/>
<line x1="386.14" y1="322.4" x2="386.14" y2="321.1" stroke="#333" stroke-width="0.6"/>
<line x1="372.8" y1="287.48" x2="374.1" y2="287.48" stroke="#333" stroke-width="0.6"/>
<line x1="399.48" y1="322.4" x2="399.48" y2="321.1" stroke="#333" stroke-width="0.6"/>
<line x1="372.8" y1="299.12" x2="374.1" y2="299.12" stroke="#333" stroke-width="0.6"/>
<line x1="412.82" y1="322.4" x2="412.82" y2="321.1" stroke="#333" stroke-width="0.6"/>
<line x1="372.8" y1="310.76" x2="374.1" y2="310.76" stroke="#333" stroke-width="0.6"/>
<line x1="426.16" y1="322.4" x2="426.16" y2="321.1" stroke="#333" stroke-width="0.6"/>
<ellipse cx="410.45" cy="251.5" rx="6.45" ry="10.5" fill="#999" fill-opacity="0.6"/>
<path d="M406.7 251.96h0.7v0.7h-0.7zM407.31 260.24h0.7v0.7h-0.7zM404.4 254.25h0.7v0.7h-0.7zM407.56 245.34h0.7v0.7h-0.7zM407.09 251.46h0.7v0.7h-0.7zM405.7 255.33h0.7v0.7h-0.7zM409.48 255.08h0.7v0.7h-0.7zM408.01 257.17h0.7v0.7h-0.7zM406.83 256.67h0.7v0.7h-0.7zM405.95 252.45h0.7v0.7h-0.7zM407.92 258.44h0.7v0.7h-0.7zM406.63 249.94h0.7v0.7h-0.7zM407.61 251.07h0.7v0.7h-0.7zM407.18 255.76h0.7v0.7h-0.7zM406.01 256.15h0.7v0.7h-0.7zM407.49 250.1h0.7v0.7h-0.7zM405.38 248.15h0.7v0.7h-0.7zM406.94 256.48h0.7v0.7h-0.7zM404.45 255.27h0.7v0.7h-0.7zM407.25 245.5h0.7v0.7h-0.7zM408.11 253.6h0.7v0.7h-0.7zM407.56 246.31h0.7v0.7h-0.7zM405.56 256.31h0.7v0.7h-0.7zM408.82 253.43h0.7v0.7h-0.7zM406.75 249.11h0.7v0.7h-0.7zM404.78 256.71h0.7v0.7h-0.7zM406.88 258.02h0.7v0.7h-0.7zM406.07 257.06h0.7v0.7h-0.7zM406.08 254.59h0.7v0.7h-0.7zM408.78 247.77h0.7v0.7h-0.7zM408.17 251.46h0.7v0.7h-0.7zM405.79 252.56h0.7v0.7h-0.7zM407.83 247.72h0.7v0.7h-0.7zM406.65 248.5h0.7v0.7h-0.7zM406.01 250.39h0.7v0.7h-0.7zM408.06 248.88h0.7v0.7h-0.7zM408.61 249.49h0.7v0.7h-0.7zM406.11 257.16h0.7v0.7h-0.7zM408.81 248.06h0.7v0.7h-0.7zM407.76 245.36h0.7v0.7h-0.7zM406.47 249.52h0.7v0.7h-0.7zM407.91 244.88h0.7v0.7h-0.7zM406.34 247.86h0.7v0.7h-0.7zM407.13 245.01h0.7v0.7h-0.7zM407.27 243.56h0.7v0.7h-0.7zM408.07 244.56h0.7v0.7h-0.7zM404.57 260.29h0.7v0.7h-0.7zM408.61 247.07h0.7v0.7h-0.7zM405.59 254h0.7v0.7h-0.7zM409.61 254.66h0.7v0.7h-0.7zM407.85 245.25h0.7v0.7h-0.7zM404.71 253.54h0.7v0.7h-0.7zM408.3 252.22h0.7v0.7h-0.7zM406.99 258.78h0.7v0.7h-0.7zM405.92 257.27h0.7v0.7h-0.7zM408.07 248.21h0.7v0.7h-0.7zM407.16 252.07h0.7v0.7h-0.7zM407.75 246.36h0.7v0.7h-0.7zM406.7 251.97h0.7v0.7h-0.7zM407.04 251.61h0.7v0.7h-0.7zM407.32 250.49h0.7v0.7h-0.7zM406.36 256.92h0.7v0.7h-0.7zM406.17 249.82h0.7v0.7h-0.7zM405.87 245.48h0.7v0.7h-0.7zM407.57 251.27h0.7v0.7h-0.7zM406.83 253.88h0.7v0.7h-0.7zM406.78 255.07h0.7v0.7h-0.7zM409.32 253.33h0.7v0.7h-0.7zM406.66 260.18h0.7v0.7h-0.7zM407.91 242.76h0.7v0.7h-0.7zM408.71 252.6h0.7v0.7h-0.7zM408.09 245.44h0.7v0.7h-0.7zM405.91 248.1h0.7v0.7h-0.7zM407.71 245.6h0.7v0.7h-0.7zM406.09 256.49h0.7v0.7h-0.7zM406.18 252.11h0.7v0.7h-0.7zM405.85 242.58h0.7v0.7h-0.7zM406.89 250.87h0.7v0.7h-0.7zM405.17 256.6h0.7v0.7h-0.7zM408.05 256.13h0.7v0.7h-0.7zM406.35 245.49h0.7v0.7h-0.7zM406.88 252.36h0.7v0.7h-0.7zM406.78 248.42h0.7v0.7h-0.7zM405.73 247.65h0.7v0.7h-0.7zM406.89 248.94h0.7v0.7h-0.7zM409.13 250.05h0.7v0.7h-0.7zM407.58 249.06h0.7v0.7h-0.7zM406.76 246.4h0.7v0.7h-0.7zM406.38 243.66h0.7v0.7h-0.7zM404.35 258.5h0.7v0.7h-0.7zM405.65 253.76h0.7v0.7h-0.7zM406.84 248.52h0.7v0.7h-0.7zM407.93 248.59h0.7v0.7h-0.7zM407.55 249.57h0.7v0.7h-0.7zM408.24 256.49h0.7v0.7h-0.7zM407.08 257.22h0.7v0.7h-0.7zM407.64 259.62h0.7v0.7h-0.7zM406.84 243.43h0.7v0.7h-0.7zM407.27 252.74h0.7v0.7h-0.7zM406.54 250.41h0.7v0.7h-0.7zM406.65 244.95h0.7v0.7h-0.7zM409.19 247.45h0.7v0.7h-0.7zM405.63 243.24h0.7v0.7h-0.7zM405.92 251.29h0.7v0.7h-0.7zM408.88 254.62h0.7v0.7h-0.7zM406.07 245h0.7v0.7h-0.7zM405.57 251.06h0.7v0.7h-0.7zM408.1 248.99h0.7v0.7h-0.7zM407.2 240.2h0.7v0.7h-0.7zM408.39 250.98h0.7v0.7h-0.7zM407.85 256.64h0.7v0.7h-0.7zM405.72 251.83h0.7v0.7h-0.7zM407.22 247.57h0.7v0.7h-0.7zM407.88 250.82h0.7v0.7h-0.7zM407.21 260h0.7v0.7h-0.7zM406.8 256.9h0.7v0.7h-0.7zM406.04 252.26h0.7v0.7h-0.7zM408.37 240.16h0.7v0.7h-0.7zM407.68 250.08h0.7v0.7h-0.7zM408.38 252.42h0.7v0.7h-0.7zM406.9 244.82h0.7v0.7h-0.7zM410.73 247.65h0.7v0.7h-0.7zM406.59 247.72h0.7v0.7h-0.7zM406.61 252.63h0.7v0.7h-0.7zM405.3 256.99h0.7v0.7h-0.7zM406.66 254.61h0.7v0.7h-0.7zM404.32 248.77h0.7v0.7h-0.7zM406.62 249.46h0.7v0.7h-0.7zM406.15 253.1h0.7v0.7h-0.7zM407.51 246.38h0.7v0.7h-0.7zM404.5 255.29h0.7v0.7h-0.7zM406.59 257.06h0.7v0.7h-0.7zM408.1 250.94h0.7v0.7h-0.7zM405.18 249.6h0.7v0.7h-0.7zM406.07 257.95h0.7v0.7h-0.7zM404.84 256.25h0.7v0.7h-0.7zM405.04 248.51h0.7v0.7h-0.7zM405.2 247.85h0.7v0.7h-0.7zM406.43 253.42h0.7v0.7h-0.7zM406.24 255.07h0.7v0.7h-0.7zM409.22 252.32h0.7v0.7h-0.7zM405.53 250.56h0.7v0.7h-0.7zM406.86 249.61h0.7v0.7h-0.7zM408.45 257.5h0.7v0.7h-0.7zM409.54 254.21h0.7v0.7h-0.7zM403.61 250.8h0.7v0.7h-0.7zM407.84 247.28h0.7v0.7h-0.7zM406.23 256.22h0.7v0.7h-0.7zM407.18 245.62h0.7v0.7h-0.7zM406.25 235.43h0.7v0.7h-0.7z" fill="#444"/>
<path d="M413.89 245.11h0.7v0.7h-0.7zM413.83 245.3h0.7v0.7h-0.7zM412.71 248.8h0.7v0.7h-0.7zM417.43 245.3h0.7v0.7h-0.7zM412.39 248.68h0.7v0.7h-0.7zM415.24 255.65h0.7v0.7h-0.7zM414.77 249.8h0.7v0.7h-0.7zM414.05 247.47h0.7v0.7h-0.7zM413.66 247.28h0.7v0.7h-0.7zM412.05 246.31h0.7v0.7h-0.7zM416.34 253.55h0.7v0.7h-0.7zM412.94 250.91h0.7v0.7h-0.7zM413.32 257.83h0.7v0.7h-0.7zM413.85 248.17h0.7v0.7h-0.7zM414.75 253.15h0.7v0.7h-0.7zM413.02 247.46h0.7v0.7h-0.7zM414.07 242.95h0.7v0.7h-0.7zM412.73 256.74h0.7v0.7h-0.7zM414.99 257.29h0.7v0.7h-0.7zM413.33 248.38h0.7v0.7h-0.7zM413.54 248.98h0.7v0.7h-0.7zM415.51 250.32h0.7v0.7h-0.7zM415.61 247.78h0.7v0.7h-0.7zM414.37 259.92h0.7v0.7h-0.7zM412.95 248.08h0.7v0.7h-0.7zM413.13 243.08h0.7v0.7h-0.7zM413.51 248.13h0.7v0.7h-0.7zM416.68 248.99h0.7v0.7h-0.7zM411.18 256.39h0.7v0.7h-0.7zM415.09 251.3h0.7v0.7h-0.7zM414.25 255.21h0.7v0.7h-0.7zM413.18 251.69h0.7v0.7h-0.7zM414.07 260.11h0.7v0.7h-0.7zM415.68 252.36h0.7v0.7h-0.7zM412.19 256.08h0.7v0.7h-0.7zM413.82 257.56h0.7v0.7h-0.7zM413.95 252.42h0.7v0.7h-0.7zM414.72 247.67h0.7v0.7h-0.7zM412.79 256.34h0.7v0.7h-0.7zM414.75 255.74h0.7v0.7h-0.7zM415.62 244.5h0.7v0.7h-0.7zM415.1 240.76h0.7v0.7h-0.7zM413.95 253.23h0.7v0.7h-0.7zM415.19 257.13h0.7v0.7h-0.7zM412.7 250.06h0.7v0.7h-0.7zM413.68 247.86h0.7v0.7h-0.7zM412.85 248.03h0.7v0.7h-0.7zM415.34 258.57h0.7v0.7h-0.7zM414.84 260.25h0.7v0.7h-0.7zM414 245.81h0.7v0.7h-0.7zM413.06 252.54h0.7v0.7h-0.7zM415.19 257.81h0.7v0.7h-0.7zM412.75 256.46h0.7v0.7h-0.7zM413.21 254.59h0.7v0.7h-0.7zM415.05 259.21h0.7v0.7h-0.7zM413.22 252.75h0.7v0.7h-0.7zM414.43 249.3h0.7v0.7h-0.7zM414 254.58h0.7v0.7h-0.7zM411.8 248.13h0.7v0.7h-0.7zM416.8 253.84h0.7v0.7h-0.7zM413.18 241.91h0.7v0.7h-0.7zM412.67 254.19h0.7v0.7h-0.7zM414.74 253.81h0.7v0.7h-0.7zM414.63 248.34h0.7v0.7h-0.7zM415.9 245.62h0.7v0.7h-0.7zM414.53 250.1h0.7v0.7h-0.7zM411.72 256.2h0.7v0.7h-0.7zM413.53 255.19h0.7v0.7h-0.7zM415.49 252.35h0.7v0.7h-0.7zM413.05 250.36h0.7v0.7h-0.7zM413.8 259.02h0.7v0.7h-0.7zM414.96 259.76h0.7v0.7h-0.7zM414.84 247.5h0.7v0.7h-0.7zM415.06 256.55h0.7v0.7h-0.7zM413.73 253.91h0.7v0.7h-0.7zM413.48 244.91h0.7v0.7h-0.7zM413.77 255.47h0.7v0.7h-0.7zM413.43 239.8h0.7v0.7h-0.7zM412.87 257.17h0.7v0.7h-0.7zM414.17 257.35h0.7v0.7h-0.7zM412.93 249.3h0.7v0.7h-0.7zM412.62 247.43h0.7v0.7h-0.7zM414.53 252.22h0.7v0.7h-0.7zM413.27 253.04h0.7v0.7h-0.7zM412.23 249.45h0.7v0.7h-0.7zM411.99 243.66h0.7v0.7h-0.7zM412.16 245.75h0.7v0.7h-0.7zM415.88 258.67h0.7v0.7h-0.7zM415.47 248.46h0.7v0.7h-0.7zM414.67 245.56h0.7v0.7h-0.7zM413.2 252.76h0.7v0.7h-0.7zM411.86 252.52h0.7v0.7h-0.7zM414.66 240.67h0.7v0.7h-0.7zM410.79 250.04h0.7v0.7h-0.7zM413.72 252.24h0.7v0.7h-0.7zM412.45 254.47h0.7v0.7h-0.7zM414.04 247.66h0.7v0.7h-0.7zM415.96 252.85h0.7v0.7h-0.7zM413.26 250.34h0.7v0.7h-0.7zM411.68 250.3h0.7v0.7h-0.7zM414.59 252.55h0.7v0.7h-0.7zM412.28 247.03h0.7v0.7h-0.7zM411.54 244.28h0.7v0.7h-0.7zM414.02 253.06h0.7v0.7h-0.7zM412.72 250.35h0.7v0.7h-0.7zM412.86 254.74h0.7v0.7h-0.7zM414.69 248.56h0.7v0.7h-0.7zM413.3 245.06h0.7v0.7h-0.7zM413.86 256h0.7v0.7h-0.7zM414.61 259.23h0.7v0.7h-0.7zM413.47 246.75h0.7v0.7h-0.7zM415.19 256.32h0.7v0.7h-0.7zM413.04 257.24h0.7v0.7h-0.7zM413.86 251.27h0.7v0.7h-0.7zM416.21 254.28h0.7v0.7h-0.7zM414.28 249.82h0.7v0.7h-0.7zM414.13 257.03h0.7v0.7h-0.7zM414.46 247.53h0.7v0.7h-0.7zM414.45 250.87h0.7v0.7h-0.7zM414.27 250.48h0.7v0.7h-0.7zM411.11 243.02h0.7v0.7h-0.7zM413.39 239.91h0.7v0.7h-0.7zM414.76 249.08h0.7v0.7h-0.7zM414.29 239.72h0.7v0.7h-0.7zM414.19 256.67h0.7v0.7h-0.7zM414.12 244.61h0.7v0.7h-0.7zM415.1 248.7h0.7v0.7h-0.7zM413.15 252.53h0.7v0.7h-0.7zM414.45 244.96h0.7v0.7h-0.7zM413.88 251.77h0.7v0.7h-0.7zM415.7 258.24h0.7v0.7h-0.7zM417.12 248h0.7v0.7h-0.7zM412.74 253.37h0.7v0.7h-0.7zM415.92 246.16h0.7v0.7h-0.7zM413.44 247.57h0.7v0.7h-0.7zM414.55 253.61h0.7v0.7h-0.7zM413.83 254.96h0.7v0.7h-0.7zM412.88 249.51h0.7v0.7h-0.7zM413.83 251.81h0.7v0.7h-0.7zM415.54 251.9h0.7v0.7h-0.7zM415.53 252.76h0.7v0.7h-0.7zM415.34 252.46h0.7v0.7h-0.7zM412.71 247h0.7v0.7h-0.7zM416.25 249.82h0.7v0.7h-0.7zM417.06 245.61h0.7v0.7h-0.7zM412.8 256.42h0.7v0.7h-0.7zM411.94 256.32h0.7v0.7h-0.7zM414.36 254.82h0.7v0.7h-0.7zM412.35 253.52h0.7v0.7h-0.7zM415.07 251.22h0.7v0.7h-0.7z" fill="#444"/>
<ellipse cx="410.7" cy="236.2" rx="4.5" ry="5" fill="#888" fill-opacity="0.75"/>
<path d="M413.37 236.27h0.7v0.7h-0.7zM411.57 235.26h0.7v0.7h-0.7zM407.07 235.73h0.7v0.7h-0.7zM411.98 233.94h0.7v0.7h-0.7zM405.49 231.58h0.7v0.7h-0.7zM414.13 235.53h0.7v0.7h-0.7zM408.64 239.89h0.7v0.7h-0.7zM410.2 231.7h0.7v0.7h-0.7zM409.49 233.56h0.7v0.7h-0.7zM410.17 233.47h0.7v0.7h-0.7zM410.84 237.57h0.7v0.7h-0.7zM409.14 235.6h0.7v0.7h-0.7zM410.25 238.67h0.7v0.7h-0.7zM408.76 238.44h0.7v0.7h-0.7zM413.96 235.62h0.7v0.7h-0.7zM408.1 235.28h0.7v0.7h-0.7zM405.97 234.58h0.7v0.7h-0.7zM407.5 235.69h0.7v0.7h-0.7zM409.67 237.75h0.7v0.7h-0.7zM410.97 237.46h0.7v0.7h-0.7zM410.53 237.04h0.7v0.7h-0.7zM407.66 238.18h0.7v0.7h-0.7zM414.11 239.52h0.7v0.7h-0.7zM407.1 237.45h0.7v0.7h-0.7zM406.35 238.47h0.7v0.7h-0.7zM410.11 234.82h0.7v0.7h-0.7zM408.68 235.49h0.7v0.7h-0.7zM410.65 233.31h0.7v0.7h-0.7zM410.81 236.98h0.7v0.7h-0.7zM412.05 236.07h0.7v0.7h-0.7zM410.64 243.13h0.7v0.7h-0.7zM413.34 237.17h0.7v0.7h-0.7zM406.98 238.06h0.7v0.7h-0.7zM412.18 228.24h0.7v0.7h-0.7zM410.23 237.34h0.7v0.7h-0.7zM410.76 236.49h0.7v0.7h-0.7zM410.25 240.34h0.7v0.7h-0.7zM411.67 235.35h0.7v0.7h-0.7zM410.06 242.45h0.7v0.7h-0.7zM408.37 234.62h0.7v0.7h-0.7zM411.53 236.65h0.7v0.7h-0.7zM411.46 240.27h0.7v0.7h-0.7zM413.68 237.46h0.7v0.7h-0.7zM410.78 236.01h0.7v0.7h-0.7zM410.05 239.21h0.7v0.7h-0.7zM407.3 233.08h0.7v0.7h-0.7zM409.45 233.32h0.7v0.7h-0.7zM408.71 239.78h0.7v0.7h-0.7zM404.69 237.93h0.7v0.7h-0.7zM407.18 235.47h0.7v0.7h-0.7zM409.14 233.23h0.7v0.7h-0.7zM406.72 236.42h0.7v0.7h-0.7zM402.79 229.84h0.7v0.7h-0.7zM409.63 239.49h0.7v0.7h-0.7zM415.59 235.32h0.7v0.7h-0.7zM408.53 235.35h0.7v0.7h-0.7zM411.91 239h0.7v0.7h-0.7zM408.13 237.62h0.7v0.7h-0.7zM410.58 239.63h0.7v0.7h-0.7zM409.58 235.58h0.7v0.7h-0.7zM408.4 232.23h0.7v0.7h-0.7zM411.39 238.34h0.7v0.7h-0.7zM413.66 237.01h0.7v0.7h-0.7zM409.44 233.45h0.7v0.7h-0.7zM407.58 234.03h0.7v0.7h-0.7zM411.56 236.47h0.7v0.7h-0.7zM404.57 235.9h0.7v0.7h-0.7zM409.9 233.06h0.7v0.7h-0.7zM410.61 237.79h0.7v0.7h-0.7zM407.91 232.15h0.7v0.7h-0.7zM409.81 236.99h0.7v0.7h-0.7zM409.98 240.83h0.7v0.7h-0.7zM411.06 233.19h0.7v0.7h-0.7zM412.74 234.26h0.7v0.7h-0.7zM412.51 236.5h0.7v0.7h-0.7zM413.96 233.21h0.7v0.7h-0.7zM412.6 237.48h0.7v0.7h-0.7zM408.26 238.31h0.7v0.7h-0.7zM416.72 237.27h0.7v0.7h-0.7zM408.63 235.74h0.7v0.7h-0.7zM414.14 236.97h0.7v0.7h-0.7zM414.62 234.24h0.7v0.7h-0.7zM414.17 231.47h0.7v0.7h-0.7zM410.23 235.31h0.7v0.7h-0.7zM409.37 239.87h0.7v0.7h-0.7zM409.07 237.26h0.7v0.7h-0.7zM415.63 238.68h0.7v0.7h-0.7zM409.57 234.01h0.7v0.7h-0.7zM405.32 237.34h0.7v0.7h-0.7zM413.05 239.52h0.7v0.7h-0.7zM411.32 242.67h0.7v0.7h-0.7zM412.75 229.27h0.7v0.7h-0.7zM408.32 238.6h0.7v0.7h-0.7zM409.61 238.71h0.7v0.7h-0.7zM417.54 233.91h0.7v0.7h-0.7zM416.6 235.96h0.7v0.7h-0.7zM406.74 236.49h0.7v0.7h-0.7zM413.1 234.46h0.7v0.7h-0.7zM414.91 233.58h0.7v0.7h-0.7zM410.16 238.97h0.7v0.7h-0.7zM410.11 234.53h0.7v0.7h-0.7zM410.63 238.17h0.7v0.7h-0.7zM415.32 240.28h0.7v0.7h-0.7zM415.7 236.12h0.7v0.7h-0.7zM406.23 236.08h0.7v0.7h-0.7zM409.58 233.21h0.7v0.7h-0.7zM409.3 236h0.7v0.7h-0.7zM410.82 238.95h0.7v0.7h-0.7zM408.23 239.64h0.7v0.7h-0.7zM410.81 238.41h0.7v0.7h-0.7z" fill="#333"/>
<rect x="402.9" y="229.8" width="16" height="12.8" fill="none" stroke="#222" stroke-width="1.2"/>
<text x="405.5" y="227.4" font-size="7.4" textLength="13.1" lengthAdjust="spacingAndGlyphs">12.2</text>
<line x1="400.4" y1="240.7" x2="400.4" y2="274" stroke="#000" stroke-width="0.9"/>
<polygon points="400.4,278 397.6,273.5 403.2,273.5" fill="#000" stroke="none" stroke-width="1"/>
<rect x="403" y="284.4" width="15.6" height="37.4" fill="#ddd" fill-opacity="0.35"/>
<path d="M414.49 285.76h0.7v0.7h-0.7zM415.55 288.47h0.7v0.7h-0.7zM411.97 297.86h0.7v0.7h-0.7zM411.27 298.11h0.7v0.7h-0.7zM410.42 291.79h0.7v0.7h-0.7zM409.17 287.3h0.7v0.7h-0.7zM407.49 289.45h0.7v0.7h-0.7zM410.08 294.01h0.7v0.7h-0.7zM406.08 295.74h0.7v0.7h-0.7zM412.95 285.15h0.7v0.7h-0.7zM417.74 295.27h0.7v0.7h-0.7zM405.83 294.86h0.7v0.7h-0.7zM410.69 289.84h0.7v0.7h-0.7zM409.69 291.04h0.7v0.7h-0.7zM410.49 287.5h0.7v0.7h-0.7zM409.09 295.11h0.7v0.7h-0.7zM412.37 285.28h0.7v0.7h-0.7zM406.75 286.79h0.7v0.7h-0.7zM409.67 286.74h0.7v0.7h-0.7zM407.53 288.58h0.7v0.7h-0.7zM410.23 296.54h0.7v0.7h-0.7zM415.26 290.48h0.7v0.7h-0.7zM407.79 292.04h0.7v0.7h-0.7zM409.59 284.97h0.7v0.7h-0.7zM415.47 289.19h0.7v0.7h-0.7zM408.99 295h0.7v0.7h-0.7zM415.82 294.72h0.7v0.7h-0.7zM408.1 294.48h0.7v0.7h-0.7zM414.12 294.18h0.7v0.7h-0.7zM412.74 289.7h0.7v0.7h-0.7zM408.64 286.28h0.7v0.7h-0.7zM404.05 285.32h0.7v0.7h-0.7zM408.01 291.73h0.7v0.7h-0.7zM414.29 288.15h0.7v0.7h-0.7zM408.44 298.52h0.7v0.7h-0.7zM411.92 294.95h0.7v0.7h-0.7zM413.3 288.34h0.7v0.7h-0.7zM411.47 288.77h0.7v0.7h-0.7zM408.63 292.9h0.7v0.7h-0.7zM412.1 285.56h0.7v0.7h-0.7zM408.48 295.38h0.7v0.7h-0.7zM411.3 295.67h0.7v0.7h-0.7zM409.85 288.01h0.7v0.7h-0.7zM413.15 295.33h0.7v0.7h-0.7zM408.51 295.69h0.7v0.7h-0.7zM415.52 290.74h0.7v0.7h-0.7zM407.88 293.54h0.7v0.7h-0.7zM411.07 295.16h0.7v0.7h-0.7zM406.57 293.49h0.7v0.7h-0.7zM413.49 295.85h0.7v0.7h-0.7zM412.69 298.45h0.7v0.7h-0.7zM408.31 298.58h0.7v0.7h-0.7zM411.43 287.02h0.7v0.7h-0.7zM409.9 293.62h0.7v0.7h-0.7zM411.37 289.54h0.7v0.7h-0.7zM417.37 290.48h0.7v0.7h-0.7zM408.32 297.04h0.7v0.7h-0.7zM409.55 288.09h0.7v0.7h-0.7zM407.6 298.39h0.7v0.7h-0.7zM407.6 292.74h0.7v0.7h-0.7zM409.42 291.21h0.7v0.7h-0.7zM408.34 293h0.7v0.7h-0.7zM412.62 297.7h0.7v0.7h-0.7zM409.72 286.13h0.7v0.7h-0.7zM406.33 292.25h0.7v0.7h-0.7zM403.32 299.15h0.7v0.7h-0.7zM410.89 292.85h0.7v0.7h-0.7zM406.6 288.85h0.7v0.7h-0.7zM408.56 295.73h0.7v0.7h-0.7zM409.57 295.44h0.7v0.7h-0.7zM410.1 298.79h0.7v0.7h-0.7zM409.26 292.89h0.7v0.7h-0.7zM410.42 285.83h0.7v0.7h-0.7zM417.37 291.53h0.7v0.7h-0.7zM412.72 289.89h0.7v0.7h-0.7zM415.02 298.23h0.7v0.7h-0.7zM414.36 297.19h0.7v0.7h-0.7zM412.01 292.94h0.7v0.7h-0.7zM413.24 287.58h0.7v0.7h-0.7zM411.26 288.57h0.7v0.7h-0.7zM409.99 287.26h0.7v0.7h-0.7zM408.27 293.21h0.7v0.7h-0.7zM411.17 296.57h0.7v0.7h-0.7zM410.52 295.53h0.7v0.7h-0.7zM412.86 288.58h0.7v0.7h-0.7zM405.71 288.67h0.7v0.7h-0.7zM410.04 289.47h0.7v0.7h-0.7zM417.45 288.69h0.7v0.7h-0.7zM412.23 288.26h0.7v0.7h-0.7zM412.88 285.68h0.7v0.7h-0.7z" fill="#555"/>
<path d="M413.66 306.03h0.7v0.7h-0.7zM409.59 301.11h0.7v0.7h-0.7zM415.82 303.32h0.7v0.7h-0.7zM416.17 305.45h0.7v0.7h-0.7zM413.81 307.55h0.7v0.7h-0.7zM409.72 305.85h0.7v0.7h-0.7zM407.35 300.6h0.7v0.7h-0.7zM411.17 307.99h0.7v0.7h-0.7zM411.28 301.01h0.7v0.7h-0.7zM413.35 305.7h0.7v0.7h-0.7zM413.06 304.36h0.7v0.7h-0.7zM410 309.14h0.7v0.7h-0.7zM414.93 301.1h0.7v0.7h-0.7zM407.47 308.84h0.7v0.7h-0.7zM411.88 305.58h0.7v0.7h-0.7zM407.85 308.99h0.7v0.7h-0.7zM411.36 306.17h0.7v0.7h-0.7zM411.96 303.53h0.7v0.7h-0.7zM412 305.86h0.7v0.7h-0.7zM412.96 306.74h0.7v0.7h-0.7zM406.94 302.87h0.7v0.7h-0.7zM409.99 309.53h0.7v0.7h-0.7zM408.84 309.43h0.7v0.7h-0.7zM414.05 308.51h0.7v0.7h-0.7zM417.59 305.36h0.7v0.7h-0.7zM411.77 309.74h0.7v0.7h-0.7zM412.02 308.93h0.7v0.7h-0.7zM414.06 304.71h0.7v0.7h-0.7zM408.14 304.33h0.7v0.7h-0.7zM409.95 309.48h0.7v0.7h-0.7zM411.8 305.15h0.7v0.7h-0.7zM410.76 302.2h0.7v0.7h-0.7zM408.87 303.74h0.7v0.7h-0.7zM410.12 301.25h0.7v0.7h-0.7zM409.59 308.96h0.7v0.7h-0.7zM412.16 305.4h0.7v0.7h-0.7zM411.84 304.54h0.7v0.7h-0.7zM407.23 308.54h0.7v0.7h-0.7zM417.56 307.21h0.7v0.7h-0.7zM407.16 307.27h0.7v0.7h-0.7zM409.77 304.42h0.7v0.7h-0.7zM405.81 305.12h0.7v0.7h-0.7zM410.13 303.66h0.7v0.7h-0.7zM407.79 307.65h0.7v0.7h-0.7zM415.75 306.88h0.7v0.7h-0.7zM413.9 308.1h0.7v0.7h-0.7zM410.61 307.47h0.7v0.7h-0.7zM414.79 303.89h0.7v0.7h-0.7zM410.35 300.51h0.7v0.7h-0.7zM405.2 302.5h0.7v0.7h-0.7zM413.5 306.7h0.7v0.7h-0.7zM411.05 308.16h0.7v0.7h-0.7zM414.96 302.52h0.7v0.7h-0.7zM408.18 306.83h0.7v0.7h-0.7zM410.63 303.34h0.7v0.7h-0.7zM410.42 302.83h0.7v0.7h-0.7zM411.21 304.04h0.7v0.7h-0.7zM415.92 301.71h0.7v0.7h-0.7zM412.55 305.67h0.7v0.7h-0.7zM415.56 301.97h0.7v0.7h-0.7z" fill="#666"/>
<path d="M408.82 314.91h0.7v0.7h-0.7zM409.62 312.71h0.7v0.7h-0.7zM410.35 313.54h0.7v0.7h-0.7zM406.72 318.73h0.7v0.7h-0.7zM409.2 318.32h0.7v0.7h-0.7zM403.55 314.75h0.7v0.7h-0.7zM412.69 317.83h0.7v0.7h-0.7zM411.19 316.23h0.7v0.7h-0.7zM409.77 314.68h0.7v0.7h-0.7zM411.23 318.18h0.7v0.7h-0.7zM413.6 315.49h0.7v0.7h-0.7zM414.48 312.88h0.7v0.7h-0.7zM416.56 319.83h0.7v0.7h-0.7zM407.2 315.89h0.7v0.7h-0.7zM412.22 320.16h0.7v0.7h-0.7zM411.03 311.54h0.7v0.7h-0.7zM414.48 315.68h0.7v0.7h-0.7zM412.12 315.13h0.7v0.7h-0.7zM410.46 311.26h0.7v0.7h-0.7zM412.81 314h0.7v0.7h-0.7zM405.46 317.81h0.7v0.7h-0.7zM410.7 319.81h0.7v0.7h-0.7zM413.27 311.85h0.7v0.7h-0.7zM410.27 316.29h0.7v0.7h-0.7zM411.07 312.43h0.7v0.7h-0.7zM411.03 319.89h0.7v0.7h-0.7zM409.98 314.3h0.7v0.7h-0.7zM413.55 316.27h0.7v0.7h-0.7zM411.89 318.07h0.7v0.7h-0.7zM416.3 319.3h0.7v0.7h-0.7zM409.13 317.22h0.7v0.7h-0.7zM413.74 318.93h0.7v0.7h-0.7zM408.73 319.79h0.7v0.7h-0.7zM412.99 318.42h0.7v0.7h-0.7zM409.54 316.2h0.7v0.7h-0.7zM405.05 316.18h0.7v0.7h-0.7zM409.47 315.21h0.7v0.7h-0.7zM409.95 315.12h0.7v0.7h-0.7zM411.06 316.65h0.7v0.7h-0.7zM408.96 315.81h0.7v0.7h-0.7zM410.53 318.09h0.7v0.7h-0.7zM412.13 314.98h0.7v0.7h-0.7zM407.03 317.78h0.7v0.7h-0.7zM410.32 314.88h0.7v0.7h-0.7zM410.33 314.3h0.7v0.7h-0.7zM408.9 316.53h0.7v0.7h-0.7zM406.44 316.78h0.7v0.7h-0.7zM410.52 312.99h0.7v0.7h-0.7zM413.89 317.61h0.7v0.7h-0.7zM414.07 313.85h0.7v0.7h-0.7zM407.06 311.95h0.7v0.7h-0.7zM415.52 314.55h0.7v0.7h-0.7zM411.38 314.33h0.7v0.7h-0.7zM405.58 312.68h0.7v0.7h-0.7zM411.21 312.97h0.7v0.7h-0.7zM413.49 319.03h0.7v0.7h-0.7zM410.31 319.95h0.7v0.7h-0.7zM408.39 311.93h0.7v0.7h-0.7zM410.02 315.37h0.7v0.7h-0.7zM414.48 312.68h0.7v0.7h-0.7z" fill="#888"/>
<rect x="403" y="284.4" width="15.6" height="15.6" fill="none" stroke="#222" stroke-width="0.9"/>
<rect x="403" y="300" width="15.6" height="10.7" fill="none" stroke="#222" stroke-width="0.9"/>
<rect x="403" y="310.7" width="15.6" height="11.1" fill="none" stroke="#222" stroke-width="0.9"/>
<text x="401.4" y="295.5" font-size="7.4" text-anchor="end">49.8</text>
<text x="401.4" y="309.3" font-size="7.4" text-anchor="end">26.7</text>
<text x="401.4" y="320" font-size="7.4" text-anchor="end">12.2</text>
<rect x="443.8" y="204.1" width="65.7" height="57.1" fill="#fff" stroke="#777" stroke-width="0.7"/>
<path d="M443.8 204.1V261.2" stroke="#222" stroke-width="0.9" stroke-dasharray="0.8 1.6"/>
<path d="M443.8 261.2H509.5" stroke="#222" stroke-width="0.9" stroke-dasharray="0.8 1.6"/>
<line x1="443.8" y1="215.52" x2="445.1" y2="215.52" stroke="#333" stroke-width="0.6"/>
<line x1="456.94" y1="261.2" x2="456.94" y2="259.9" stroke="#333" stroke-width="0.6"/>
<line x1="443.8" y1="226.94" x2="445.1" y2="226.94" stroke="#333" stroke-width="0.6"/>
<line x1="470.08" y1="261.2" x2="470.08" y2="259.9" stroke="#333" stroke-width="0.6"/>
<line x1="443.8" y1="238.36" x2="445.1" y2="238.36" stroke="#333" stroke-width="0.6"/>
<line x1="483.22" y1="261.2" x2="483.22" y2="259.9" stroke="#333" stroke-width="0.6"/>
<line x1="443.8" y1="249.78" x2="445.1" y2="249.78" stroke="#333" stroke-width="0.6"/>
<line x1="496.36" y1="261.2" x2="496.36" y2="259.9" stroke="#333" stroke-width="0.6"/>
<rect x="443.8" y="266.3" width="65.7" height="56.7" fill="#fff" stroke="#777" stroke-width="0.7"/>
<path d="M443.8 266.3V323" stroke="#222" stroke-width="0.9" stroke-dasharray="0.8 1.6"/>
<path d="M443.8 323H509.5" stroke="#222" stroke-width="0.9" stroke-dasharray="0.8 1.6"/>
<line x1="443.8" y1="277.64" x2="445.1" y2="277.64" stroke="#333" stroke-width="0.6"/>
<line x1="456.94" y1="323" x2="456.94" y2="321.7" stroke="#333" stroke-width="0.6"/>
<line x1="443.8" y1="288.98" x2="445.1" y2="288.98" stroke="#333" stroke-width="0.6"/>
<line x1="470.08" y1="323" x2="470.08" y2="321.7" stroke="#333" stroke-width="0.6"/>
<line x1="443.8" y1="300.32" x2="445.1" y2="300.32" stroke="#333" stroke-width="0.6"/>
<line x1="483.22" y1="323" x2="483.22" y2="321.7" stroke="#333" stroke-width="0.6"/>
<line x1="443.8" y1="311.66" x2="445.1" y2="311.66" stroke="#333" stroke-width="0.6"/>
<line x1="496.36" y1="323" x2="496.36" y2="321.7" stroke="#333" stroke-width="0.6"/>
<ellipse cx="481.35" cy="251.25" rx="6.45" ry="9.25" fill="#999" fill-opacity="0.6"/>
<path d="M479.39 247.74h0.7v0.7h-0.7zM476.25 243.55h0.7v0.7h-0.7zM477.86 244.7h0.7v0.7h-0.7zM478.18 251.5h0.7v0.7h-0.7zM477.38 242.49h0.7v0.7h-0.7zM477.22 253.33h0.7v0.7h-0.7zM475.57 254.44h0.7v0.7h-0.7zM477.92 248.81h0.7v0.7h-0.7zM478.17 254.26h0.7v0.7h-0.7zM477.87 247.74h0.7v0.7h-0.7zM478.92 248.19h0.7v0.7h-0.7zM478.37 255.73h0.7v0.7h-0.7zM479.61 258.56h0.7v0.7h-0.7zM479.24 251.95h0.7v0.7h-0.7zM477.64 252.14h0.7v0.7h-0.7zM478.76 247.51h0.7v0.7h-0.7zM479.89 244.03h0.7v0.7h-0.7zM479.21 245.45h0.7v0.7h-0.7zM476.48 248.99h0.7v0.7h-0.7zM477.53 245.12h0.7v0.7h-0.7zM478.71 250.76h0.7v0.7h-0.7zM479.65 246.63h0.7v0.7h-0.7zM475.54 254.42h0.7v0.7h-0.7zM477.61 255.73h0.7v0.7h-0.7zM474.85 245.58h0.7v0.7h-0.7zM478.02 260.2h0.7v0.7h-0.7zM476.29 242.58h0.7v0.7h-0.7zM477.31 257.74h0.7v0.7h-0.7zM479.96 245.07h0.7v0.7h-0.7zM477.11 242.87h0.7v0.7h-0.7zM476.8 246.88h0.7v0.7h-0.7zM478.46 256.47h0.7v0.7h-0.7zM481.01 249.64h0.7v0.7h-0.7zM478.97 252.28h0.7v0.7h-0.7zM478.07 260.11h0.7v0.7h-0.7zM478.82 258.41h0.7v0.7h-0.7zM478.29 255.22h0.7v0.7h-0.7zM478.56 250.84h0.7v0.7h-0.7zM476.99 249.43h0.7v0.7h-0.7zM477.92 249.53h0.7v0.7h-0.7zM477.46 248.05h0.7v0.7h-0.7zM479.02 250.16h0.7v0.7h-0.7zM477.75 250.27h0.7v0.7h-0.7zM479.61 248.82h0.7v0.7h-0.7zM479.74 247.34h0.7v0.7h-0.7zM479.89 254.07h0.7v0.7h-0.7zM477.26 253.36h0.7v0.7h-0.7zM479.38 246.92h0.7v0.7h-0.7zM477.61 252.7h0.7v0.7h-0.7zM477.63 249.95h0.7v0.7h-0.7zM477.93 252.7h0.7v0.7h-0.7zM478.91 258.02h0.7v0.7h-0.7zM477.48 259.39h0.7v0.7h-0.7zM477.74 244.64h0.7v0.7h-0.7zM477.34 249.7h0.7v0.7h-0.7zM479.3 242.05h0.7v0.7h-0.7zM477.08 250.67h0.7v0.7h-0.7zM478.76 253.08h0.7v0.7h-0.7zM479.02 250.54h0.7v0.7h-0.7zM477.6 256.79h0.7v0.7h-0.7zM480.14 253.01h0.7v0.7h-0.7zM478.11 247.36h0.7v0.7h-0.7zM480.64 253.1h0.7v0.7h-0.7zM478.71 243.94h0.7v0.7h-0.7zM477.69 250.34h0.7v0.7h-0.7zM479.9 250.42h0.7v0.7h-0.7zM479 260.15h0.7v0.7h-0.7zM476.38 247.48h0.7v0.7h-0.7zM478.79 251.81h0.7v0.7h-0.7zM477.96 250.51h0.7v0.7h-0.7zM478.07 252.9h0.7v0.7h-0.7zM477.29 250h0.7v0.7h-0.7zM478.21 246.3h0.7v0.7h-0.7zM478.48 241.24h0.7v0.7h-0.7zM478.73 250.72h0.7v0.7h-0.7zM476.38 257.43h0.7v0.7h-0.7zM476.96 256.81h0.7v0.7h-0.7zM477.82 258.65h0.7v0.7h-0.7zM477.62 255.98h0.7v0.7h-0.7zM477.49 242.7h0.7v0.7h-0.7zM478.41 253.45h0.7v0.7h-0.7zM478.42 258.92h0.7v0.7h-0.7zM476.95 244.73h0.7v0.7h-0.7zM478.24 248.1h0.7v0.7h-0.7zM477.77 251.26h0.7v0.7h-0.7zM476.84 256.26h0.7v0.7h-0.7zM477.75 259.46h0.7v0.7h-0.7zM478.23 256.1h0.7v0.7h-0.7zM477.53 248.26h0.7v0.7h-0.7zM477.22 247.25h0.7v0.7h-0.7zM478.49 251.9h0.7v0.7h-0.7zM476.51 244.23h0.7v0.7h-0.7zM476.79 242.92h0.7v0.7h-0.7zM476.76 244.33h0.7v0.7h-0.7zM478.82 245.96h0.7v0.7h-0.7zM477.14 250.71h0.7v0.7h-0.7zM477.95 253.2h0.7v0.7h-0.7zM478.89 254.21h0.7v0.7h-0.7zM477.46 256.98h0.7v0.7h-0.7zM478.39 248.03h0.7v0.7h-0.7zM479.84 245.86h0.7v0.7h-0.7zM478.52 257.01h0.7v0.7h-0.7zM478.05 252.85h0.7v0.7h-0.7zM478.06 254.32h0.7v0.7h-0.7zM478.2 251.3h0.7v0.7h-0.7zM478.82 242.59h0.7v0.7h-0.7zM478.23 249.89h0.7v0.7h-0.7zM480.44 252.59h0.7v0.7h-0.7zM477.06 254.26h0.7v0.7h-0.7zM477.41 245.84h0.7v0.7h-0.7zM477.55 253.56h0.7v0.7h-0.7zM479.44 256.07h0.7v0.7h-0.7zM478.2 250.53h0.7v0.7h-0.7zM478.16 256.81h0.7v0.7h-0.7zM477.74 256.58h0.7v0.7h-0.7zM476.88 251.21h0.7v0.7h-0.7zM478.9 254.48h0.7v0.7h-0.7zM478.17 248.91h0.7v0.7h-0.7zM475.6 249.26h0.7v0.7h-0.7zM476.82 249.42h0.7v0.7h-0.7zM479.94 247.74h0.7v0.7h-0.7zM479 251.17h0.7v0.7h-0.7zM476.49 251.76h0.7v0.7h-0.7zM478.87 245.83h0.7v0.7h-0.7zM476.41 249.53h0.7v0.7h-0.7zM478.84 248.52h0.7v0.7h-0.7zM478.45 253.36h0.7v0.7h-0.7zM477.92 253.32h0.7v0.7h-0.7zM479.54 250.39h0.7v0.7h-0.7zM478.32 246.39h0.7v0.7h-0.7zM476.98 250.81h0.7v0.7h-0.7zM478.95 248.19h0.7v0.7h-0.7zM476.12 255.49h0.7v0.7h-0.7zM480.95 239.49h0.7v0.7h-0.7zM476.54 251.82h0.7v0.7h-0.7zM478.53 246.93h0.7v0.7h-0.7zM478.34 256.28h0.7v0.7h-0.7zM477.55 254.6h0.7v0.7h-0.7zM478.07 247.01h0.7v0.7h-0.7zM477.12 248.47h0.7v0.7h-0.7zM479.61 256.54h0.7v0.7h-0.7zM478.22 244.12h0.7v0.7h-0.7zM477.28 249.43h0.7v0.7h-0.7zM475.44 251.17h0.7v0.7h-0.7zM478.27 245.22h0.7v0.7h-0.7zM477.36 249.18h0.7v0.7h-0.7zM480.26 254.29h0.7v0.7h-0.7zM478.89 251.66h0.7v0.7h-0.7zM476.27 255.47h0.7v0.7h-0.7zM477.04 242.49h0.7v0.7h-0.7z" fill="#444"/>
<path d="M485.74 249.68h0.7v0.7h-0.7zM484.8 253.61h0.7v0.7h-0.7zM484.51 253.14h0.7v0.7h-0.7zM486.45 249.79h0.7v0.7h-0.7zM484.35 251.34h0.7v0.7h-0.7zM485.63 249.43h0.7v0.7h-0.7zM484.91 248.15h0.7v0.7h-0.7zM484.71 253.74h0.7v0.7h-0.7zM483.76 250.43h0.7v0.7h-0.7zM482.94 248.07h0.7v0.7h-0.7zM484.9 253.68h0.7v0.7h-0.7zM483.49 250.8h0.7v0.7h-0.7zM483.62 252.7h0.7v0.7h-0.7zM485.14 253.28h0.7v0.7h-0.7zM484.54 244.76h0.7v0.7h-0.7zM484.09 245.16h0.7v0.7h-0.7zM483.94 251h0.7v0.7h-0.7zM486.18 248.32h0.7v0.7h-0.7zM483.82 252.19h0.7v0.7h-0.7zM482.18 260.33h0.7v0.7h-0.7zM482.85 255.89h0.7v0.7h-0.7zM486.05 255.65h0.7v0.7h-0.7zM484.67 254.59h0.7v0.7h-0.7zM484.37 255.63h0.7v0.7h-0.7zM483.98 247.54h0.7v0.7h-0.7zM485.29 249.2h0.7v0.7h-0.7zM485.66 247.35h0.7v0.7h-0.7zM485.14 246.78h0.7v0.7h-0.7zM483.44 245.65h0.7v0.7h-0.7zM482.77 250.22h0.7v0.7h-0.7zM486.86 249.2h0.7v0.7h-0.7zM485.98 250.42h0.7v0.7h-0.7zM484 260.4h0.7v0.7h-0.7zM486.17 242.88h0.7v0.7h-0.7zM483.57 253.13h0.7v0.7h-0.7zM485.63 250.24h0.7v0.7h-0.7zM485.2 253.7h0.7v0.7h-0.7zM484.36 255.79h0.7v0.7h-0.7zM483.73 254.69h0.7v0.7h-0.7zM485.96 252.18h0.7v0.7h-0.7zM484.37 251.17h0.7v0.7h-0.7zM482 252.42h0.7v0.7h-0.7zM483.01 242.09h0.7v0.7h-0.7zM485.77 247.1h0.7v0.7h-0.7zM485.25 251.46h0.7v0.7h-0.7zM482.58 247.16h0.7v0.7h-0.7zM484.46 253.39h0.7v0.7h-0.7zM484.89 245.51h0.7v0.7h-0.7zM484.13 251.73h0.7v0.7h-0.7zM483.2 249.25h0.7v0.7h-0.7zM484.11 241.59h0.7v0.7h-0.7zM486.98 255.25h0.7v0.7h-0.7zM484.22 255.57h0.7v0.7h-0.7zM483.49 258.22h0.7v0.7h-0.7zM484.33 251.89h0.7v0.7h-0.7zM484.07 251.67h0.7v0.7h-0.7zM485.22 251.4h0.7v0.7h-0.7zM483.76 254.7h0.7v0.7h-0.7zM485.51 251.26h0.7v0.7h-0.7zM486.13 247.9h0.7v0.7h-0.7zM486.41 250.53h0.7v0.7h-0.7zM486.71 249.24h0.7v0.7h-0.7zM484.48 252.21h0.7v0.7h-0.7zM486.18 257.81h0.7v0.7h-0.7zM484.23 247.94h0.7v0.7h-0.7zM485.76 256.9h0.7v0.7h-0.7zM485.69 249.76h0.7v0.7h-0.7zM486.41 251.14h0.7v0.7h-0.7zM485.01 254.08h0.7v0.7h-0.7zM484.09 240.96h0.7v0.7h-0.7zM485.08 254.51h0.7v0.7h-0.7zM485.35 253.72h0.7v0.7h-0.7zM485.01 256h0.7v0.7h-0.7zM484.95 258.04h0.7v0.7h-0.7zM484.87 254.88h0.7v0.7h-0.7zM484.11 252.63h0.7v0.7h-0.7zM485.34 251.89h0.7v0.7h-0.7zM486.75 251.46h0.7v0.7h-0.7zM486.22 252.85h0.7v0.7h-0.7zM486.18 247.16h0.7v0.7h-0.7zM484.34 255.65h0.7v0.7h-0.7zM483.77 253.04h0.7v0.7h-0.7zM485.52 252.14h0.7v0.7h-0.7zM485.35 253.72h0.7v0.7h-0.7zM484.51 253.13h0.7v0.7h-0.7zM484.15 249.2h0.7v0.7h-0.7zM482.81 250.79h0.7v0.7h-0.7zM482.66 251.38h0.7v0.7h-0.7zM485.07 246.31h0.7v0.7h-0.7zM484.89 252.57h0.7v0.7h-0.7zM484.36 247.11h0.7v0.7h-0.7zM484.66 253.12h0.7v0.7h-0.7zM485.97 260.06h0.7v0.7h-0.7zM482.32 252.81h0.7v0.7h-0.7zM485.35 248.36h0.7v0.7h-0.7zM484.95 257.47h0.7v0.7h-0.7zM486.14 249.24h0.7v0.7h-0.7zM481.89 256.54h0.7v0.7h-0.7zM486.74 243.24h0.7v0.7h-0.7zM484.55 248.08h0.7v0.7h-0.7zM485.06 251.54h0.7v0.7h-0.7zM486.24 248.56h0.7v0.7h-0.7zM487.23 243.47h0.7v0.7h-0.7zM484.68 254.12h0.7v0.7h-0.7zM485.93 249.66h0.7v0.7h-0.7zM482.39 252.22h0.7v0.7h-0.7zM485.72 241.95h0.7v0.7h-0.7zM484.19 253.81h0.7v0.7h-0.7zM481.78 250.38h0.7v0.7h-0.7zM482.8 245.14h0.7v0.7h-0.7zM485.31 256.44h0.7v0.7h-0.7zM486.27 248.26h0.7v0.7h-0.7zM485.44 243.18h0.7v0.7h-0.7zM482.94 253.74h0.7v0.7h-0.7zM484.3 246.61h0.7v0.7h-0.7zM482.45 250.19h0.7v0.7h-0.7zM487.61 242.06h0.7v0.7h-0.7zM483.49 256.38h0.7v0.7h-0.7zM482.39 248.42h0.7v0.7h-0.7zM484.89 256.42h0.7v0.7h-0.7zM484.71 259.57h0.7v0.7h-0.7zM484.76 250.74h0.7v0.7h-0.7zM485.36 252.86h0.7v0.7h-0.7zM482.91 246.92h0.7v0.7h-0.7zM484.51 252.81h0.7v0.7h-0.7zM483.26 247.99h0.7v0.7h-0.7zM483.86 252.81h0.7v0.7h-0.7zM484.26 254.01h0.7v0.7h-0.7zM485.29 247.07h0.7v0.7h-0.7zM484.43 245.57h0.7v0.7h-0.7zM484.94 254.96h0.7v0.7h-0.7zM483.56 243.16h0.7v0.7h-0.7zM485.45 249.93h0.7v0.7h-0.7zM484.77 253.36h0.7v0.7h-0.7zM485.28 255.49h0.7v0.7h-0.7zM484.22 241.17h0.7v0.7h-0.7zM484.19 249.85h0.7v0.7h-0.7zM484.28 253.05h0.7v0.7h-0.7zM484.49 257.19h0.7v0.7h-0.7zM484 251.22h0.7v0.7h-0.7zM483.6 246.67h0.7v0.7h-0.7zM484.32 254.75h0.7v0.7h-0.7zM484.82 250.45h0.7v0.7h-0.7zM482.95 241.74h0.7v0.7h-0.7zM484.53 250.16h0.7v0.7h-0.7zM487.03 252.96h0.7v0.7h-0.7zM485.34 255.69h0.7v0.7h-0.7zM483.67 245.61h0.7v0.7h-0.7zM484.34 258.05h0.7v0.7h-0.7zM486.05 248.57h0.7v0.7h-0.7z" fill="#444"/>
<ellipse cx="480.7" cy="236.7" rx="5" ry="5" fill="#888" fill-opacity="0.75"/>
<path d="M477.07 239.47h0.7v0.7h-0.7zM483.9 233.43h0.7v0.7h-0.7zM485.4 234.39h0.7v0.7h-0.7zM482.89 236.09h0.7v0.7h-0.7zM479.74 234.88h0.7v0.7h-0.7zM482.73 238.55h0.7v0.7h-0.7zM483.06 235.86h0.7v0.7h-0.7zM478.22 243.1h0.7v0.7h-0.7zM485.72 236.13h0.7v0.7h-0.7zM477.34 241.17h0.7v0.7h-0.7zM481.09 236.87h0.7v0.7h-0.7zM483.2 237.75h0.7v0.7h-0.7zM481.03 242.63h0.7v0.7h-0.7zM475.17 238.62h0.7v0.7h-0.7zM477.81 236.92h0.7v0.7h-0.7zM480.2 237.49h0.7v0.7h-0.7zM473.63 238.77h0.7v0.7h-0.7zM487.54 235.47h0.7v0.7h-0.7zM483.35 238.57h0.7v0.7h-0.7zM481.57 235.2h0.7v0.7h-0.7zM482.57 237.51h0.7v0.7h-0.7zM484.95 239.18h0.7v0.7h-0.7zM478.61 227.99h0.7v0.7h-0.7zM485.14 238.16h0.7v0.7h-0.7zM481.21 234.89h0.7v0.7h-0.7zM488.07 240.7h0.7v0.7h-0.7zM480.99 235.6h0.7v0.7h-0.7zM482.39 240.76h0.7v0.7h-0.7zM482.23 239.52h0.7v0.7h-0.7zM481.47 237.76h0.7v0.7h-0.7zM476.97 237.07h0.7v0.7h-0.7zM480.85 236.48h0.7v0.7h-0.7zM479.99 237.62h0.7v0.7h-0.7zM478.99 236.11h0.7v0.7h-0.7zM476.84 243.61h0.7v0.7h-0.7zM478.07 233.1h0.7v0.7h-0.7zM479.11 235.46h0.7v0.7h-0.7zM477.53 229.41h0.7v0.7h-0.7zM485.55 239.75h0.7v0.7h-0.7zM479.58 238.37h0.7v0.7h-0.7zM477.41 231.85h0.7v0.7h-0.7zM481.69 238.42h0.7v0.7h-0.7zM478.67 236.69h0.7v0.7h-0.7zM471.6 236.31h0.7v0.7h-0.7zM483.83 237.21h0.7v0.7h-0.7zM481.24 238.43h0.7v0.7h-0.7zM474.52 232.85h0.7v0.7h-0.7zM476.93 237.42h0.7v0.7h-0.7zM478.84 231.06h0.7v0.7h-0.7zM483.34 236.14h0.7v0.7h-0.7zM483.65 242.7h0.7v0.7h-0.7zM475.8 232.89h0.7v0.7h-0.7zM483.9 240.92h0.7v0.7h-0.7zM481.88 237.78h0.7v0.7h-0.7zM482.76 238.66h0.7v0.7h-0.7zM476.92 238.93h0.7v0.7h-0.7zM483.64 235.49h0.7v0.7h-0.7zM477.98 235.24h0.7v0.7h-0.7zM478.96 238.28h0.7v0.7h-0.7zM483 236.77h0.7v0.7h-0.7zM479.79 231.4h0.7v0.7h-0.7zM479.43 233.72h0.7v0.7h-0.7zM479.05 237.73h0.7v0.7h-0.7zM481.19 247.17h0.7v0.7h-0.7zM478.1 235.1h0.7v0.7h-0.7zM477.29 235.94h0.7v0.7h-0.7zM479.85 239.7h0.7v0.7h-0.7zM474.89 239.42h0.7v0.7h-0.7zM482.62 235.13h0.7v0.7h-0.7zM478.66 237.29h0.7v0.7h-0.7zM482.25 236.23h0.7v0.7h-0.7zM480.23 236.75h0.7v0.7h-0.7zM477.47 237.51h0.7v0.7h-0.7zM482.41 236.85h0.7v0.7h-0.7zM477.3 236.7h0.7v0.7h-0.7zM480.37 237.64h0.7v0.7h-0.7zM479.45 239.18h0.7v0.7h-0.7zM483.93 239.16h0.7v0.7h-0.7zM481.39 240.33h0.7v0.7h-0.7zM480.57 236.21h0.7v0.7h-0.7zM476.43 236.76h0.7v0.7h-0.7zM484.31 233.86h0.7v0.7h-0.7zM483.02 232.93h0.7v0.7h-0.7zM481.58 242.13h0.7v0.7h-0.7zM480.83 233.24h0.7v0.7h-0.7zM481.55 236.27h0.7v0.7h-0.7zM483.06 235.16h0.7v0.7h-0.7zM475.53 235.29h0.7v0.7h-0.7zM482.45 239.75h0.7v0.7h-0.7zM481.51 236.78h0.7v0.7h-0.7zM482.73 236.12h0.7v0.7h-0.7zM479.34 237.37h0.7v0.7h-0.7zM483.95 235.22h0.7v0.7h-0.7zM482.17 234.81h0.7v0.7h-0.7zM478.5 237.22h0.7v0.7h-0.7zM476.72 234.19h0.7v0.7h-0.7zM477.14 234.93h0.7v0.7h-0.7zM477.97 243.58h0.7v0.7h-0.7zM482.5 236.92h0.7v0.7h-0.7zM476.7 229.7h0.7v0.7h-0.7zM482 234.85h0.7v0.7h-0.7zM483.81 235.55h0.7v0.7h-0.7zM476.79 234.83h0.7v0.7h-0.7zM476.14 232.55h0.7v0.7h-0.7zM482.8 235.15h0.7v0.7h-0.7zM482.74 235.06h0.7v0.7h-0.7zM479.99 235.09h0.7v0.7h-0.7zM479.06 234.77h0.7v0.7h-0.7zM485.13 236.55h0.7v0.7h-0.7zM474.87 241.69h0.7v0.7h-0.7z" fill="#333"/>
<rect x="473.3" y="230.2" width="16.3" height="12.4" fill="none" stroke="#222" stroke-width="1.2"/>
<text x="475.6" y="227.4" font-size="7.4" textLength="13.1" lengthAdjust="spacingAndGlyphs">13.2</text>
<line x1="470.7" y1="240.2" x2="470.7" y2="273.4" stroke="#000" stroke-width="0.9"/>
<polygon points="470.7,277.4 467.9,272.9 473.5,272.9" fill="#000" stroke="none" stroke-width="1"/>
<rect x="474.5" y="285.5" width="15.2" height="36.9" fill="#ddd" fill-opacity="0.35"/>
<path d="M485.82 298.59h0.7v0.7h-0.7zM481.77 292.3h0.7v0.7h-0.7zM480.65 293.67h0.7v0.7h-0.7zM483.48 293.05h0.7v0.7h-0.7zM479.63 288.31h0.7v0.7h-0.7zM478.38 289.92h0.7v0.7h-0.7zM481.95 295.95h0.7v0.7h-0.7zM481.73 294.24h0.7v0.7h-0.7zM483.16 298.67h0.7v0.7h-0.7zM478.18 298.45h0.7v0.7h-0.7zM483.38 295.71h0.7v0.7h-0.7zM477.57 291.94h0.7v0.7h-0.7zM481.3 296.2h0.7v0.7h-0.7zM484.11 296.44h0.7v0.7h-0.7zM478.21 299.23h0.7v0.7h-0.7zM482.27 297.63h0.7v0.7h-0.7zM482.04 289.62h0.7v0.7h-0.7zM484.35 290.8h0.7v0.7h-0.7zM481.41 298.52h0.7v0.7h-0.7zM485.65 287.8h0.7v0.7h-0.7zM477.47 298.74h0.7v0.7h-0.7zM483.86 291.8h0.7v0.7h-0.7zM481.19 290.35h0.7v0.7h-0.7zM487.43 292.27h0.7v0.7h-0.7zM477.94 297.5h0.7v0.7h-0.7zM481.81 294.81h0.7v0.7h-0.7zM480.92 292.88h0.7v0.7h-0.7zM476.44 295.69h0.7v0.7h-0.7zM480.01 291.21h0.7v0.7h-0.7zM483.01 299.3h0.7v0.7h-0.7zM475.62 292.42h0.7v0.7h-0.7zM483.69 298.02h0.7v0.7h-0.7zM479.34 294.63h0.7v0.7h-0.7zM483.25 297.61h0.7v0.7h-0.7zM480.2 292.17h0.7v0.7h-0.7zM480.53 298.61h0.7v0.7h-0.7zM485.3 290.92h0.7v0.7h-0.7zM481.65 294.15h0.7v0.7h-0.7zM479.36 292.53h0.7v0.7h-0.7zM484.64 296.84h0.7v0.7h-0.7zM480.02 289.93h0.7v0.7h-0.7zM481.71 285.96h0.7v0.7h-0.7zM482.98 293.66h0.7v0.7h-0.7zM478.06 291.95h0.7v0.7h-0.7zM480.07 291.78h0.7v0.7h-0.7zM479.43 299.69h0.7v0.7h-0.7zM479.17 296.78h0.7v0.7h-0.7zM481.88 293.1h0.7v0.7h-0.7zM481.11 287.66h0.7v0.7h-0.7zM479.79 295.22h0.7v0.7h-0.7zM485.14 297.65h0.7v0.7h-0.7zM483.27 295.84h0.7v0.7h-0.7zM481.07 291.04h0.7v0.7h-0.7zM480.51 290.18h0.7v0.7h-0.7zM477.37 289.77h0.7v0.7h-0.7zM479.66 299.08h0.7v0.7h-0.7zM476.82 286.5h0.7v0.7h-0.7zM476.05 290.11h0.7v0.7h-0.7zM478.44 288.42h0.7v0.7h-0.7zM481.57 295.28h0.7v0.7h-0.7zM480.11 291.78h0.7v0.7h-0.7zM484.18 292.38h0.7v0.7h-0.7zM484.24 290.29h0.7v0.7h-0.7zM483.51 299.22h0.7v0.7h-0.7zM481.08 291.49h0.7v0.7h-0.7zM481.56 295.33h0.7v0.7h-0.7zM478.43 293.3h0.7v0.7h-0.7zM476.88 296.21h0.7v0.7h-0.7zM481.1 289.54h0.7v0.7h-0.7zM482.45 291.97h0.7v0.7h-0.7zM482.17 294.25h0.7v0.7h-0.7zM485.64 291.18h0.7v0.7h-0.7zM487.5 298.92h0.7v0.7h-0.7zM486.72 294.06h0.7v0.7h-0.7zM482.89 288.27h0.7v0.7h-0.7zM486.05 287.58h0.7v0.7h-0.7zM479.66 293.11h0.7v0.7h-0.7zM482.74 294.74h0.7v0.7h-0.7zM478.56 291.47h0.7v0.7h-0.7zM483.51 298.77h0.7v0.7h-0.7zM484.33 295.09h0.7v0.7h-0.7zM481.26 290.53h0.7v0.7h-0.7zM480.51 292.66h0.7v0.7h-0.7zM483.63 290.71h0.7v0.7h-0.7zM488.2 288.34h0.7v0.7h-0.7zM484.48 292.15h0.7v0.7h-0.7zM481.62 291.31h0.7v0.7h-0.7zM486.63 291.7h0.7v0.7h-0.7zM483.69 293.68h0.7v0.7h-0.7zM484.29 295.92h0.7v0.7h-0.7z" fill="#555"/>
<path d="M486.99 303.48h0.7v0.7h-0.7zM485.86 306.14h0.7v0.7h-0.7zM481.19 306.74h0.7v0.7h-0.7zM485.94 303.36h0.7v0.7h-0.7zM486.39 305.71h0.7v0.7h-0.7zM480.96 304.59h0.7v0.7h-0.7zM475.78 306.96h0.7v0.7h-0.7zM478.11 304.05h0.7v0.7h-0.7zM479.37 306.68h0.7v0.7h-0.7zM484.2 306.03h0.7v0.7h-0.7zM482.61 307.26h0.7v0.7h-0.7zM486.85 307.81h0.7v0.7h-0.7zM486.74 305.69h0.7v0.7h-0.7zM483.1 303.75h0.7v0.7h-0.7zM483.82 303.07h0.7v0.7h-0.7zM483.45 303.81h0.7v0.7h-0.7zM480.99 309.93h0.7v0.7h-0.7zM482.48 308.52h0.7v0.7h-0.7zM486.45 305.31h0.7v0.7h-0.7zM480.11 309.03h0.7v0.7h-0.7zM478.65 303.44h0.7v0.7h-0.7zM485.47 303.6h0.7v0.7h-0.7zM485.42 304.89h0.7v0.7h-0.7zM481.41 306.13h0.7v0.7h-0.7zM480.55 309.44h0.7v0.7h-0.7zM485.32 306.12h0.7v0.7h-0.7zM483.87 307.69h0.7v0.7h-0.7zM485.11 308.92h0.7v0.7h-0.7zM481.11 305.95h0.7v0.7h-0.7zM481.01 309.99h0.7v0.7h-0.7zM478.63 307.91h0.7v0.7h-0.7zM485.88 307.79h0.7v0.7h-0.7zM480.61 304.39h0.7v0.7h-0.7zM475.71 302.51h0.7v0.7h-0.7zM485.32 302.79h0.7v0.7h-0.7zM477.15 305.09h0.7v0.7h-0.7zM477.6 307.42h0.7v0.7h-0.7zM479.44 309.04h0.7v0.7h-0.7zM481.7 301.23h0.7v0.7h-0.7zM479.74 303.77h0.7v0.7h-0.7zM479.52 309.98h0.7v0.7h-0.7zM479.05 307.11h0.7v0.7h-0.7zM480.3 307.85h0.7v0.7h-0.7zM477.91 304.87h0.7v0.7h-0.7zM480.53 302.82h0.7v0.7h-0.7zM484.94 306.07h0.7v0.7h-0.7zM477.91 305.2h0.7v0.7h-0.7zM486.04 303.57h0.7v0.7h-0.7zM480.51 303.18h0.7v0.7h-0.7zM482.53 304.08h0.7v0.7h-0.7zM484.71 303.17h0.7v0.7h-0.7zM477.69 307.4h0.7v0.7h-0.7zM482.89 306.72h0.7v0.7h-0.7zM480.32 304.44h0.7v0.7h-0.7zM479.64 305.32h0.7v0.7h-0.7zM480.68 307.73h0.7v0.7h-0.7zM482.08 307.73h0.7v0.7h-0.7zM486.93 305.01h0.7v0.7h-0.7zM481.18 307.15h0.7v0.7h-0.7zM488.33 304.73h0.7v0.7h-0.7z" fill="#666"/>
<path d="M487.1 321.02h0.7v0.7h-0.7zM479.11 318.22h0.7v0.7h-0.7zM486.03 317.01h0.7v0.7h-0.7zM479.57 315.13h0.7v0.7h-0.7zM481.92 319.5h0.7v0.7h-0.7zM484.12 318.67h0.7v0.7h-0.7zM485.64 316.94h0.7v0.7h-0.7zM480.34 316.64h0.7v0.7h-0.7zM481.39 314.34h0.7v0.7h-0.7zM482.02 314.46h0.7v0.7h-0.7zM483.98 314.5h0.7v0.7h-0.7zM483.52 317.95h0.7v0.7h-0.7zM482.55 318.67h0.7v0.7h-0.7zM479.98 319.42h0.7v0.7h-0.7zM482.12 315.27h0.7v0.7h-0.7zM487.26 320.73h0.7v0.7h-0.7zM481.23 318.82h0.7v0.7h-0.7zM485.1 316.21h0.7v0.7h-0.7zM481.3 312.68h0.7v0.7h-0.7zM482.85 319.89h0.7v0.7h-0.7zM480.89 319.17h0.7v0.7h-0.7zM482.45 315.17h0.7v0.7h-0.7zM478.41 320.77h0.7v0.7h-0.7zM478.83 313.13h0.7v0.7h-0.7zM482.82 319.12h0.7v0.7h-0.7zM487.61 317.4h0.7v0.7h-0.7zM482.47 318.18h0.7v0.7h-0.7zM481 315.79h0.7v0.7h-0.7zM481.72 318.8h0.7v0.7h-0.7zM477.13 316.24h0.7v0.7h-0.7zM486.65 318.14h0.7v0.7h-0.7zM484.19 319.32h0.7v0.7h-0.7zM482.73 318.08h0.7v0.7h-0.7zM479.63 316.06h0.7v0.7h-0.7zM487.61 312.43h0.7v0.7h-0.7zM481.57 312.29h0.7v0.7h-0.7zM480.47 314.05h0.7v0.7h-0.7zM478.39 317.67h0.7v0.7h-0.7zM479.24 318.69h0.7v0.7h-0.7zM481.7 318.14h0.7v0.7h-0.7zM482.7 321.12h0.7v0.7h-0.7zM486.59 313.42h0.7v0.7h-0.7zM481.8 317.96h0.7v0.7h-0.7zM479.43 317.13h0.7v0.7h-0.7zM477.08 315.21h0.7v0.7h-0.7zM481.57 312.24h0.7v0.7h-0.7zM475.17 320.07h0.7v0.7h-0.7zM483.25 312.06h0.7v0.7h-0.7zM483.8 316.57h0.7v0.7h-0.7zM482.56 312.02h0.7v0.7h-0.7zM481.42 318.52h0.7v0.7h-0.7zM476.82 313.04h0.7v0.7h-0.7zM484.06 316.55h0.7v0.7h-0.7zM478.83 315.35h0.7v0.7h-0.7zM481.32 318.38h0.7v0.7h-0.7zM478.57 316.79h0.7v0.7h-0.7zM485.03 318.25h0.7v0.7h-0.7zM486.13 318.92h0.7v0.7h-0.7zM480.75 314.84h0.7v0.7h-0.7zM479.04 317.69h0.7v0.7h-0.7z" fill="#888"/>
<rect x="474.5" y="285.5" width="15.2" height="15.1" fill="none" stroke="#222" stroke-width="0.9"/>
<rect x="474.5" y="300.6" width="15.2" height="10.5" fill="none" stroke="#222" stroke-width="0.9"/>
<rect x="474.5" y="311.1" width="15.2" height="11.3" fill="none" stroke="#222" stroke-width="0.9"/>
<text x="472.5" y="296.1" font-size="7.4" text-anchor="end">41.8</text>
<text x="472.5" y="309.9" font-size="7.4" text-anchor="end">30.6</text>
<text x="472.5" y="320.4" font-size="7.4" text-anchor="end">14.9</text>
<line x1="28.3" y1="365.4" x2="28.3" y2="475.8" stroke="#222" stroke-width="0.9"/>
<line x1="28.3" y1="475.4" x2="163.8" y2="475.4" stroke="#222" stroke-width="0.9"/>
<line x1="26.1" y1="475" x2="28.3" y2="475" stroke="#222" stroke-width="0.7"/>
<text x="26" y="477.52" font-size="7" text-anchor="end" fill="#222">0</text>
<line x1="27.1" y1="464.09" x2="28.3" y2="464.09" stroke="#222" stroke-width="0.6"/>
<line x1="26.1" y1="453.18" x2="28.3" y2="453.18" stroke="#222" stroke-width="0.7"/>
<text x="26" y="455.7" font-size="7" text-anchor="end" fill="#222">5</text>
<line x1="27.1" y1="442.27" x2="28.3" y2="442.27" stroke="#222" stroke-width="0.6"/>
<line x1="26.1" y1="431.36" x2="28.3" y2="431.36" stroke="#222" stroke-width="0.7"/>
<text x="26" y="433.88" font-size="7" text-anchor="end" fill="#222">10</text>
<line x1="27.1" y1="420.45" x2="28.3" y2="420.45" stroke="#222" stroke-width="0.6"/>
<line x1="26.1" y1="409.54" x2="28.3" y2="409.54" stroke="#222" stroke-width="0.7"/>
<text x="26" y="412.06" font-size="7" text-anchor="end" fill="#222">15</text>
<line x1="27.1" y1="398.63" x2="28.3" y2="398.63" stroke="#222" stroke-width="0.6"/>
<line x1="26.1" y1="387.72" x2="28.3" y2="387.72" stroke="#222" stroke-width="0.7"/>
<text x="26" y="390.24" font-size="7" text-anchor="end" fill="#222">20</text>
<line x1="27.1" y1="376.81" x2="28.3" y2="376.81" stroke="#222" stroke-width="0.6"/>
<line x1="26.1" y1="365.9" x2="28.3" y2="365.9" stroke="#222" stroke-width="0.7"/>
<text x="26" y="368.42" font-size="7" text-anchor="end" fill="#222">25</text>
<line x1="30.4" y1="475.4" x2="30.4" y2="477.6" stroke="#222" stroke-width="0.7"/>
<text x="30.4" y="485.19" font-size="7.2" text-anchor="middle" fill="#222">0</text>
<line x1="50.8" y1="475.4" x2="50.8" y2="477.6" stroke="#222" stroke-width="0.7"/>
<text x="50.8" y="485.19" font-size="7.2" text-anchor="middle" fill="#222">10</text>
<line x1="71.2" y1="475.4" x2="71.2" y2="477.6" stroke="#222" stroke-width="0.7"/>
<text x="71.2" y="485.19" font-size="7.2" text-anchor="middle" fill="#222">20</text>
<line x1="91.6" y1="475.4" x2="91.6" y2="477.6" stroke="#222" stroke-width="0.7"/>
<text x="91.6" y="485.19" font-size="7.2" text-anchor="middle" fill="#222">30</text>
<line x1="112" y1="475.4" x2="112" y2="477.6" stroke="#222" stroke-width="0.7"/>
<text x="112" y="485.19" font-size="7.2" text-anchor="middle" fill="#222">40</text>
<line x1="132.4" y1="475.4" x2="132.4" y2="477.6" stroke="#222" stroke-width="0.7"/>
<text x="132.4" y="485.19" font-size="7.2" text-anchor="middle" fill="#222">50</text>
<line x1="152.8" y1="475.4" x2="152.8" y2="477.6" stroke="#222" stroke-width="0.7"/>
<text x="152.8" y="485.19" font-size="7.2" text-anchor="middle" fill="#222">60</text>
<line x1="40.6" y1="475.4" x2="40.6" y2="476.6" stroke="#222" stroke-width="0.6"/>
<line x1="61" y1="475.4" x2="61" y2="476.6" stroke="#222" stroke-width="0.6"/>
<line x1="81.4" y1="475.4" x2="81.4" y2="476.6" stroke="#222" stroke-width="0.6"/>
<line x1="101.8" y1="475.4" x2="101.8" y2="476.6" stroke="#222" stroke-width="0.6"/>
<line x1="122.2" y1="475.4" x2="122.2" y2="476.6" stroke="#222" stroke-width="0.6"/>
<line x1="142.6" y1="475.4" x2="142.6" y2="476.6" stroke="#222" stroke-width="0.6"/>
<line x1="163" y1="475.4" x2="163" y2="476.6" stroke="#222" stroke-width="0.6"/>
<text x="41.3" y="493.2" font-size="7.2" fill="#222" textLength="98.9" lengthAdjust="spacingAndGlyphs">Days after <tspan font-style="italic">FVIII</tspan> plasmid injection</text>
<text transform="translate(4.2 428.6) rotate(-90)" x="0" y="2.52" text-anchor="middle" font-size="7.2" fill="#222" textLength="47.4" lengthAdjust="spacingAndGlyphs">% CD4+ T cells</text>
<text transform="translate(12 429.3) rotate(-90)" x="0" y="2.52" text-anchor="middle" font-size="7.2" fill="#222" textLength="17.6" lengthAdjust="spacingAndGlyphs">blood</text>
<line x1="30.4" y1="382.48" x2="30.4" y2="373.76" stroke="#444" stroke-width="0.6"/>
<line x1="29.2" y1="382.48" x2="31.6" y2="382.48" stroke="#444" stroke-width="0.6"/>
<line x1="29.2" y1="373.76" x2="31.6" y2="373.76" stroke="#444" stroke-width="0.6"/>
<line x1="44.68" y1="399.5" x2="44.68" y2="378.99" stroke="#444" stroke-width="0.6"/>
<line x1="43.48" y1="399.5" x2="45.88" y2="399.5" stroke="#444" stroke-width="0.6"/>
<line x1="43.48" y1="378.99" x2="45.88" y2="378.99" stroke="#444" stroke-width="0.6"/>
<line x1="58.96" y1="405.18" x2="58.96" y2="378.99" stroke="#444" stroke-width="0.6"/>
<line x1="57.76" y1="405.18" x2="60.16" y2="405.18" stroke="#444" stroke-width="0.6"/>
<line x1="57.76" y1="378.99" x2="60.16" y2="378.99" stroke="#444" stroke-width="0.6"/>
<line x1="87.52" y1="388.59" x2="87.52" y2="380.74" stroke="#444" stroke-width="0.6"/>
<line x1="86.32" y1="388.59" x2="88.72" y2="388.59" stroke="#444" stroke-width="0.6"/>
<line x1="86.32" y1="380.74" x2="88.72" y2="380.74" stroke="#444" stroke-width="0.6"/>
<line x1="58.96" y1="451" x2="58.96" y2="433.11" stroke="#444" stroke-width="0.6"/>
<line x1="57.76" y1="451" x2="60.16" y2="451" stroke="#444" stroke-width="0.6"/>
<line x1="57.76" y1="433.11" x2="60.16" y2="433.11" stroke="#444" stroke-width="0.6"/>
<line x1="87.52" y1="424.81" x2="87.52" y2="406.92" stroke="#444" stroke-width="0.6"/>
<line x1="86.32" y1="424.81" x2="88.72" y2="424.81" stroke="#444" stroke-width="0.6"/>
<line x1="86.32" y1="406.92" x2="88.72" y2="406.92" stroke="#444" stroke-width="0.6"/>
<line x1="116.08" y1="406.92" x2="116.08" y2="386.85" stroke="#444" stroke-width="0.6"/>
<line x1="114.88" y1="406.92" x2="117.28" y2="406.92" stroke="#444" stroke-width="0.6"/>
<line x1="114.88" y1="386.85" x2="117.28" y2="386.85" stroke="#444" stroke-width="0.6"/>
<line x1="144.64" y1="390.34" x2="144.64" y2="382.05" stroke="#444" stroke-width="0.6"/>
<line x1="143.44" y1="390.34" x2="145.84" y2="390.34" stroke="#444" stroke-width="0.6"/>
<line x1="143.44" y1="382.05" x2="145.84" y2="382.05" stroke="#444" stroke-width="0.6"/>
<polyline points="30.4,377.68 44.68,470.64 58.96,442.27 87.52,413.9" fill="none" stroke="#333" stroke-width="0.9" stroke-linejoin="round"/>
<polyline points="30.4,377.68 44.68,388.59 58.96,392.08 87.52,385.1" fill="none" stroke="#333" stroke-width="0.9" stroke-linejoin="round"/>
<polyline points="30.4,377.68 44.68,470.64 58.96,437.91 87.52,416.09 116.08,397.76 144.64,386.41" fill="none" stroke="#333" stroke-width="0.9" stroke-linejoin="round"/>
<rect x="28.5" y="375.78" width="3.8" height="3.8" fill="#000" stroke="#000" stroke-width="0.5"/>
<rect x="42.78" y="468.74" width="3.8" height="3.8" fill="#000" stroke="#000" stroke-width="0.5"/>
<rect x="57.06" y="440.37" width="3.8" height="3.8" fill="#000" stroke="#000" stroke-width="0.5"/>
<rect x="85.62" y="412" width="3.8" height="3.8" fill="#000" stroke="#000" stroke-width="0.5"/>
<polygon points="28.3,376.08 32.5,376.08 30.4,380.08" fill="#888" stroke="#444" stroke-width="0.6"/>
<polygon points="42.58,386.99 46.78,386.99 44.68,390.99" fill="#888" stroke="#444" stroke-width="0.6"/>
<polygon points="56.86,390.48 61.06,390.48 58.96,394.48" fill="#888" stroke="#444" stroke-width="0.6"/>
<polygon points="85.42,383.5 89.62,383.5 87.52,387.5" fill="#888" stroke="#444" stroke-width="0.6"/>
<polygon points="30.4,375.48 32.4,377.68 30.4,379.88 28.4,377.68" fill="#fff" stroke="#444" stroke-width="0.7"/>
<polygon points="44.68,468.44 46.68,470.64 44.68,472.84 42.68,470.64" fill="#fff" stroke="#444" stroke-width="0.7"/>
<polygon points="58.96,435.71 60.96,437.91 58.96,440.11 56.96,437.91" fill="#fff" stroke="#444" stroke-width="0.7"/>
<polygon points="87.52,413.89 89.52,416.09 87.52,418.29 85.52,416.09" fill="#fff" stroke="#444" stroke-width="0.7"/>
<polygon points="116.08,395.56 118.08,397.76 116.08,399.96 114.08,397.76" fill="#fff" stroke="#444" stroke-width="0.7"/>
<polygon points="144.64,384.21 146.64,386.41 144.64,388.61 142.64,386.41" fill="#fff" stroke="#444" stroke-width="0.7"/>
<circle cx="50.3" cy="467.3" r="0.95" fill="#111"/><circle cx="53.5" cy="467.3" r="0.95" fill="#111"/>
<circle cx="64.7" cy="444.6" r="0.95" fill="#111"/><circle cx="67.9" cy="444.6" r="0.95" fill="#111"/>
<circle cx="92.2" cy="422" r="0.95" fill="#111"/><circle cx="95.4" cy="422" r="0.95" fill="#111"/>
<line x1="78.1" y1="442.7" x2="92.7" y2="442.7" stroke="#333" stroke-width="0.9"/>
<rect x="83.9" y="440.8" width="3.8" height="3.8" fill="#000" stroke="#000" stroke-width="0.5"/>
<text x="94.6" y="445.2" font-size="7" fill="#111" textLength="37.9" lengthAdjust="spacingAndGlyphs"><tspan font-style="italic">anti-CD3</tspan> only</text>
<line x1="78.1" y1="450.6" x2="92.7" y2="450.6" stroke="#333" stroke-width="0.9"/>
<polygon points="83.7,449 87.9,449 85.8,453" fill="#888" stroke="#444" stroke-width="0.6"/>
<text x="94.6" y="453.1" font-size="7" fill="#111" textLength="50.4" lengthAdjust="spacingAndGlyphs"><tspan font-style="italic">FVIII</tspan> plasmid only</text>
<line x1="78.1" y1="458.4" x2="92.7" y2="458.4" stroke="#333" stroke-width="0.9"/>
<polygon points="85.8,456.2 87.8,458.4 85.8,460.6 83.8,458.4" fill="#fff" stroke="#444" stroke-width="0.7"/>
<text x="94.6" y="460.9" font-size="7" fill="#111" textLength="65.4" lengthAdjust="spacingAndGlyphs"><tspan font-style="italic">FVIII</tspan> plasmid+anti-CD3</text>
<text x="0.9" y="355.7" font-size="11.6" font-weight="bold">D</text>
<line x1="206.5" y1="365.5" x2="206.5" y2="475.6" stroke="#222" stroke-width="0.9"/>
<line x1="206.5" y1="475.2" x2="341.3" y2="475.2" stroke="#222" stroke-width="0.9"/>
<line x1="204.3" y1="474.8" x2="206.5" y2="474.8" stroke="#222" stroke-width="0.7"/>
<text x="204.7" y="477.39" font-size="7.2" text-anchor="end" fill="#222">0</text>
<line x1="205.3" y1="468" x2="206.5" y2="468" stroke="#222" stroke-width="0.6"/>
<line x1="204.3" y1="461.2" x2="206.5" y2="461.2" stroke="#222" stroke-width="0.7"/>
<text x="204.7" y="463.79" font-size="7.2" text-anchor="end" fill="#222">5</text>
<line x1="205.3" y1="454.4" x2="206.5" y2="454.4" stroke="#222" stroke-width="0.6"/>
<line x1="204.3" y1="447.6" x2="206.5" y2="447.6" stroke="#222" stroke-width="0.7"/>
<text x="204.7" y="450.19" font-size="7.2" text-anchor="end" fill="#222">10</text>
<line x1="205.3" y1="440.8" x2="206.5" y2="440.8" stroke="#222" stroke-width="0.6"/>
<line x1="204.3" y1="434" x2="206.5" y2="434" stroke="#222" stroke-width="0.7"/>
<text x="204.7" y="436.59" font-size="7.2" text-anchor="end" fill="#222">15</text>
<line x1="205.3" y1="427.2" x2="206.5" y2="427.2" stroke="#222" stroke-width="0.6"/>
<line x1="204.3" y1="420.4" x2="206.5" y2="420.4" stroke="#222" stroke-width="0.7"/>
<text x="204.7" y="422.99" font-size="7.2" text-anchor="end" fill="#222">20</text>
<line x1="205.3" y1="413.6" x2="206.5" y2="413.6" stroke="#222" stroke-width="0.6"/>
<line x1="204.3" y1="406.8" x2="206.5" y2="406.8" stroke="#222" stroke-width="0.7"/>
<text x="204.7" y="409.39" font-size="7.2" text-anchor="end" fill="#222">25</text>
<line x1="205.3" y1="400" x2="206.5" y2="400" stroke="#222" stroke-width="0.6"/>
<line x1="204.3" y1="393.2" x2="206.5" y2="393.2" stroke="#222" stroke-width="0.7"/>
<text x="204.7" y="395.79" font-size="7.2" text-anchor="end" fill="#222">30</text>
<line x1="205.3" y1="386.4" x2="206.5" y2="386.4" stroke="#222" stroke-width="0.6"/>
<line x1="204.3" y1="379.6" x2="206.5" y2="379.6" stroke="#222" stroke-width="0.7"/>
<text x="204.7" y="382.19" font-size="7.2" text-anchor="end" fill="#222">35</text>
<line x1="205.3" y1="372.8" x2="206.5" y2="372.8" stroke="#222" stroke-width="0.6"/>
<line x1="204.3" y1="366" x2="206.5" y2="366" stroke="#222" stroke-width="0.7"/>
<text x="204.7" y="368.59" font-size="7.2" text-anchor="end" fill="#222">40</text>
<line x1="209.6" y1="475.2" x2="209.6" y2="477.4" stroke="#222" stroke-width="0.7"/>
<text x="209.6" y="484.49" font-size="7.2" text-anchor="middle" fill="#222">0</text>
<line x1="229.8" y1="475.2" x2="229.8" y2="477.4" stroke="#222" stroke-width="0.7"/>
<text x="229.8" y="484.49" font-size="7.2" text-anchor="middle" fill="#222">10</text>
<line x1="250" y1="475.2" x2="250" y2="477.4" stroke="#222" stroke-width="0.7"/>
<text x="250" y="484.49" font-size="7.2" text-anchor="middle" fill="#222">20</text>
<line x1="270.2" y1="475.2" x2="270.2" y2="477.4" stroke="#222" stroke-width="0.7"/>
<text x="270.2" y="484.49" font-size="7.2" text-anchor="middle" fill="#222">30</text>
<line x1="290.4" y1="475.2" x2="290.4" y2="477.4" stroke="#222" stroke-width="0.7"/>
<text x="290.4" y="484.49" font-size="7.2" text-anchor="middle" fill="#222">40</text>
<line x1="310.6" y1="475.2" x2="310.6" y2="477.4" stroke="#222" stroke-width="0.7"/>
<text x="310.6" y="484.49" font-size="7.2" text-anchor="middle" fill="#222">50</text>
<line x1="330.8" y1="475.2" x2="330.8" y2="477.4" stroke="#222" stroke-width="0.7"/>
<text x="330.8" y="484.49" font-size="7.2" text-anchor="middle" fill="#222">60</text>
<line x1="219.7" y1="475.2" x2="219.7" y2="476.4" stroke="#222" stroke-width="0.6"/>
<line x1="239.9" y1="475.2" x2="239.9" y2="476.4" stroke="#222" stroke-width="0.6"/>
<line x1="260.1" y1="475.2" x2="260.1" y2="476.4" stroke="#222" stroke-width="0.6"/>
<line x1="280.3" y1="475.2" x2="280.3" y2="476.4" stroke="#222" stroke-width="0.6"/>
<line x1="300.5" y1="475.2" x2="300.5" y2="476.4" stroke="#222" stroke-width="0.6"/>
<line x1="320.7" y1="475.2" x2="320.7" y2="476.4" stroke="#222" stroke-width="0.6"/>
<line x1="340.9" y1="475.2" x2="340.9" y2="476.4" stroke="#222" stroke-width="0.6"/>
<text x="224.8" y="493.7" font-size="7.2" fill="#222" textLength="98.3" lengthAdjust="spacingAndGlyphs">Days after <tspan font-style="italic">FVIII</tspan> plasmid injection</text>
<text transform="translate(181.1 417.5) rotate(-90)" x="0" y="2.52" text-anchor="middle" font-size="7.2" fill="#222" textLength="56.6" lengthAdjust="spacingAndGlyphs">% CD4<tspan baseline-shift="super" font-size="72%">+</tspan>FoxP3<tspan baseline-shift="super" font-size="72%">+</tspan> T cells</text>
<text transform="translate(189.1 423.9) rotate(-90)" x="0" y="2.52" text-anchor="middle" font-size="7.2" fill="#222" textLength="18.3" lengthAdjust="spacingAndGlyphs">blood</text>
<line x1="223.74" y1="394.56" x2="223.74" y2="381.5" stroke="#444" stroke-width="0.6"/>
<line x1="222.54" y1="394.56" x2="224.94" y2="394.56" stroke="#444" stroke-width="0.6"/>
<line x1="222.54" y1="381.5" x2="224.94" y2="381.5" stroke="#444" stroke-width="0.6"/>
<line x1="223.74" y1="425.02" x2="223.74" y2="412.78" stroke="#444" stroke-width="0.6"/>
<line x1="222.54" y1="425.02" x2="224.94" y2="425.02" stroke="#444" stroke-width="0.6"/>
<line x1="222.54" y1="412.78" x2="224.94" y2="412.78" stroke="#444" stroke-width="0.6"/>
<line x1="237.88" y1="419.04" x2="237.88" y2="411.42" stroke="#444" stroke-width="0.6"/>
<line x1="236.68" y1="419.04" x2="239.08" y2="419.04" stroke="#444" stroke-width="0.6"/>
<line x1="236.68" y1="411.42" x2="239.08" y2="411.42" stroke="#444" stroke-width="0.6"/>
<line x1="266.16" y1="444.06" x2="266.16" y2="438.9" stroke="#444" stroke-width="0.6"/>
<line x1="264.96" y1="444.06" x2="267.36" y2="444.06" stroke="#444" stroke-width="0.6"/>
<line x1="264.96" y1="438.9" x2="267.36" y2="438.9" stroke="#444" stroke-width="0.6"/>
<line x1="266.16" y1="454.4" x2="266.16" y2="448.69" stroke="#444" stroke-width="0.6"/>
<line x1="264.96" y1="454.4" x2="267.36" y2="454.4" stroke="#444" stroke-width="0.6"/>
<line x1="264.96" y1="448.69" x2="267.36" y2="448.69" stroke="#444" stroke-width="0.6"/>
<line x1="237.88" y1="450.59" x2="237.88" y2="446.24" stroke="#444" stroke-width="0.6"/>
<line x1="236.68" y1="450.59" x2="239.08" y2="450.59" stroke="#444" stroke-width="0.6"/>
<line x1="236.68" y1="446.24" x2="239.08" y2="446.24" stroke="#444" stroke-width="0.6"/>
<line x1="223.74" y1="461.2" x2="223.74" y2="454.94" stroke="#444" stroke-width="0.6"/>
<line x1="222.54" y1="461.2" x2="224.94" y2="461.2" stroke="#444" stroke-width="0.6"/>
<line x1="222.54" y1="454.94" x2="224.94" y2="454.94" stroke="#444" stroke-width="0.6"/>
<line x1="209.6" y1="459.3" x2="209.6" y2="455.76" stroke="#444" stroke-width="0.6"/>
<line x1="208.4" y1="459.3" x2="210.8" y2="459.3" stroke="#444" stroke-width="0.6"/>
<line x1="208.4" y1="455.76" x2="210.8" y2="455.76" stroke="#444" stroke-width="0.6"/>
<polyline points="209.6,457.66 223.74,419.04 237.88,448.42 266.16,451.68" fill="none" stroke="#333" stroke-width="0.9" stroke-linejoin="round"/>
<polyline points="209.6,457.66 223.74,457.94 237.88,458.48 266.16,457.94" fill="none" stroke="#333" stroke-width="0.9" stroke-linejoin="round"/>
<polyline points="209.6,457.66 223.74,389.66 237.88,414.96 266.16,441.34 294.44,450.32 322.72,454.4" fill="none" stroke="#333" stroke-width="0.9" stroke-linejoin="round"/>
<polygon points="209.6,455.46 211.6,457.66 209.6,459.86 207.6,457.66" fill="#fff" stroke="#444" stroke-width="0.7"/>
<polygon points="223.74,387.46 225.74,389.66 223.74,391.86 221.74,389.66" fill="#fff" stroke="#444" stroke-width="0.7"/>
<polygon points="237.88,412.76 239.88,414.96 237.88,417.16 235.88,414.96" fill="#fff" stroke="#444" stroke-width="0.7"/>
<polygon points="266.16,439.14 268.16,441.34 266.16,443.54 264.16,441.34" fill="#fff" stroke="#444" stroke-width="0.7"/>
<polygon points="294.44,448.12 296.44,450.32 294.44,452.52 292.44,450.32" fill="#fff" stroke="#444" stroke-width="0.7"/>
<polygon points="322.72,452.2 324.72,454.4 322.72,456.6 320.72,454.4" fill="#fff" stroke="#444" stroke-width="0.7"/>
<polygon points="207.5,456.06 211.7,456.06 209.6,460.06" fill="#888" stroke="#444" stroke-width="0.6"/>
<polygon points="221.64,456.34 225.84,456.34 223.74,460.34" fill="#888" stroke="#444" stroke-width="0.6"/>
<polygon points="235.78,456.88 239.98,456.88 237.88,460.88" fill="#888" stroke="#444" stroke-width="0.6"/>
<polygon points="264.06,456.34 268.26,456.34 266.16,460.34" fill="#888" stroke="#444" stroke-width="0.6"/>
<circle cx="209.6" cy="457.66" r="2.1" fill="#000"/>
<circle cx="223.74" cy="419.04" r="2.1" fill="#000"/>
<circle cx="237.88" cy="448.42" r="2.1" fill="#000"/>
<circle cx="266.16" cy="451.68" r="2.1" fill="#000"/>
<text x="227.6" y="383.7" font-size="6.2" text-anchor="middle" fill="#222">#</text>
<circle cx="229" cy="386.5" r="0.95" fill="#111"/><circle cx="232.2" cy="386.5" r="0.95" fill="#111"/>
<text x="241.1" y="409.5" font-size="6.2" text-anchor="middle" fill="#222">#</text>
<circle cx="242.4" cy="411.3" r="0.95" fill="#111"/><circle cx="245.6" cy="411.3" r="0.95" fill="#111"/>
<text x="266.6" y="436.2" font-size="6.2" text-anchor="middle" fill="#222">#</text>
<circle cx="268.6" cy="437.2" r="0.95" fill="#111"/><circle cx="271.8" cy="437.2" r="0.95" fill="#111"/>
<line x1="247.8" y1="373" x2="262" y2="373" stroke="#333" stroke-width="0.9"/>
<circle cx="254.4" cy="373" r="2.1" fill="#000"/>
<text x="263.7" y="375.5" font-size="7" fill="#111" textLength="37.8" lengthAdjust="spacingAndGlyphs"><tspan font-style="italic">anti-CD3</tspan> only</text>
<line x1="247.8" y1="381" x2="262" y2="381" stroke="#333" stroke-width="0.9"/>
<polygon points="252.3,379.4 256.5,379.4 254.4,383.4" fill="#888" stroke="#444" stroke-width="0.6"/>
<text x="263.7" y="383.5" font-size="7" fill="#111" textLength="50.5" lengthAdjust="spacingAndGlyphs"><tspan font-style="italic">FVIII</tspan> plasmid only</text>
<line x1="247.8" y1="388.8" x2="262" y2="388.8" stroke="#333" stroke-width="0.9"/>
<polygon points="254.4,386.6 256.4,388.8 254.4,391 252.4,388.8" fill="#fff" stroke="#444" stroke-width="0.7"/>
<text x="263.7" y="391.3" font-size="7" fill="#111" textLength="65.1" lengthAdjust="spacingAndGlyphs"><tspan font-style="italic">FVIII</tspan> plasmid+anti-CD3</text>
<text x="178" y="356.2" font-size="11.6" font-weight="bold">E</text>
<line x1="379.4" y1="364.1" x2="379.4" y2="473.2" stroke="#222" stroke-width="0.9"/>
<line x1="379.4" y1="472.8" x2="513.3" y2="472.8" stroke="#222" stroke-width="0.9"/>
<line x1="377.2" y1="472.6" x2="379.4" y2="472.6" stroke="#222" stroke-width="0.7"/>
<text x="377.6" y="475.12" font-size="7" text-anchor="end" fill="#222">0</text>
<line x1="378.2" y1="454.6" x2="379.4" y2="454.6" stroke="#222" stroke-width="0.6"/>
<line x1="377.2" y1="436.6" x2="379.4" y2="436.6" stroke="#222" stroke-width="0.7"/>
<text x="377.6" y="439.12" font-size="7" text-anchor="end" fill="#222">5</text>
<line x1="378.2" y1="418.6" x2="379.4" y2="418.6" stroke="#222" stroke-width="0.6"/>
<line x1="377.2" y1="400.6" x2="379.4" y2="400.6" stroke="#222" stroke-width="0.7"/>
<text x="377.6" y="403.12" font-size="7" text-anchor="end" fill="#222">10</text>
<line x1="378.2" y1="382.6" x2="379.4" y2="382.6" stroke="#222" stroke-width="0.6"/>
<line x1="377.2" y1="364.6" x2="379.4" y2="364.6" stroke="#222" stroke-width="0.7"/>
<text x="377.6" y="367.12" font-size="7" text-anchor="end" fill="#222">15</text>
<line x1="382" y1="472.8" x2="382" y2="475" stroke="#222" stroke-width="0.7"/>
<text x="382" y="482.19" font-size="7.2" text-anchor="middle" fill="#222">0</text>
<line x1="402.1" y1="472.8" x2="402.1" y2="475" stroke="#222" stroke-width="0.7"/>
<text x="402.1" y="482.19" font-size="7.2" text-anchor="middle" fill="#222">10</text>
<line x1="422.2" y1="472.8" x2="422.2" y2="475" stroke="#222" stroke-width="0.7"/>
<text x="422.2" y="482.19" font-size="7.2" text-anchor="middle" fill="#222">20</text>
<line x1="442.3" y1="472.8" x2="442.3" y2="475" stroke="#222" stroke-width="0.7"/>
<text x="442.3" y="482.19" font-size="7.2" text-anchor="middle" fill="#222">30</text>
<line x1="462.4" y1="472.8" x2="462.4" y2="475" stroke="#222" stroke-width="0.7"/>
<text x="462.4" y="482.19" font-size="7.2" text-anchor="middle" fill="#222">40</text>
<line x1="482.5" y1="472.8" x2="482.5" y2="475" stroke="#222" stroke-width="0.7"/>
<text x="482.5" y="482.19" font-size="7.2" text-anchor="middle" fill="#222">50</text>
<line x1="502.6" y1="472.8" x2="502.6" y2="475" stroke="#222" stroke-width="0.7"/>
<text x="502.6" y="482.19" font-size="7.2" text-anchor="middle" fill="#222">60</text>
<line x1="392.05" y1="472.8" x2="392.05" y2="474" stroke="#222" stroke-width="0.6"/>
<line x1="412.15" y1="472.8" x2="412.15" y2="474" stroke="#222" stroke-width="0.6"/>
<line x1="432.25" y1="472.8" x2="432.25" y2="474" stroke="#222" stroke-width="0.6"/>
<line x1="452.35" y1="472.8" x2="452.35" y2="474" stroke="#222" stroke-width="0.6"/>
<line x1="472.45" y1="472.8" x2="472.45" y2="474" stroke="#222" stroke-width="0.6"/>
<line x1="492.55" y1="472.8" x2="492.55" y2="474" stroke="#222" stroke-width="0.6"/>
<line x1="512.65" y1="472.8" x2="512.65" y2="474" stroke="#222" stroke-width="0.6"/>
<text x="397.3" y="492" font-size="7.2" fill="#222" textLength="97.7" lengthAdjust="spacingAndGlyphs">Days after <tspan font-style="italic">FVIII</tspan> plasmid injection</text>
<text transform="translate(357.7 422.5) rotate(-90)" x="0" y="2.52" text-anchor="middle" font-size="7.2" fill="#222" textLength="87.5" lengthAdjust="spacingAndGlyphs">% CD4<tspan baseline-shift="super" font-size="72%">+</tspan>CD25<tspan baseline-shift="super" font-size="72%">+</tspan>FoxP3<tspan baseline-shift="super" font-size="72%">+</tspan> T cells</text>
<text transform="translate(366.3 422.6) rotate(-90)" x="0" y="2.52" text-anchor="middle" font-size="7.2" fill="#222" textLength="18.2" lengthAdjust="spacingAndGlyphs">blood</text>
<line x1="396.07" y1="448.84" x2="396.07" y2="427.24" stroke="#444" stroke-width="0.6"/>
<line x1="394.87" y1="448.84" x2="397.27" y2="448.84" stroke="#444" stroke-width="0.6"/>
<line x1="394.87" y1="427.24" x2="397.27" y2="427.24" stroke="#444" stroke-width="0.6"/>
<line x1="410.14" y1="449.56" x2="410.14" y2="438.76" stroke="#444" stroke-width="0.6"/>
<line x1="408.94" y1="449.56" x2="411.34" y2="449.56" stroke="#444" stroke-width="0.6"/>
<line x1="408.94" y1="438.76" x2="411.34" y2="438.76" stroke="#444" stroke-width="0.6"/>
<line x1="438.28" y1="448.12" x2="438.28" y2="441.64" stroke="#444" stroke-width="0.6"/>
<line x1="437.08" y1="448.12" x2="439.48" y2="448.12" stroke="#444" stroke-width="0.6"/>
<line x1="437.08" y1="441.64" x2="439.48" y2="441.64" stroke="#444" stroke-width="0.6"/>
<line x1="410.14" y1="415" x2="410.14" y2="391.24" stroke="#444" stroke-width="0.6"/>
<line x1="408.94" y1="415" x2="411.34" y2="415" stroke="#444" stroke-width="0.6"/>
<line x1="408.94" y1="391.24" x2="411.34" y2="391.24" stroke="#444" stroke-width="0.6"/>
<line x1="438.28" y1="412.84" x2="438.28" y2="398.44" stroke="#444" stroke-width="0.6"/>
<line x1="437.08" y1="412.84" x2="439.48" y2="412.84" stroke="#444" stroke-width="0.6"/>
<line x1="437.08" y1="398.44" x2="439.48" y2="398.44" stroke="#444" stroke-width="0.6"/>
<line x1="396.07" y1="396.28" x2="396.07" y2="389.08" stroke="#444" stroke-width="0.6"/>
<line x1="394.87" y1="396.28" x2="397.27" y2="396.28" stroke="#444" stroke-width="0.6"/>
<line x1="394.87" y1="389.08" x2="397.27" y2="389.08" stroke="#444" stroke-width="0.6"/>
<line x1="410.14" y1="417.88" x2="410.14" y2="412.12" stroke="#444" stroke-width="0.6"/>
<line x1="408.94" y1="417.88" x2="411.34" y2="417.88" stroke="#444" stroke-width="0.6"/>
<line x1="408.94" y1="412.12" x2="411.34" y2="412.12" stroke="#444" stroke-width="0.6"/>
<line x1="438.28" y1="417.88" x2="438.28" y2="411.4" stroke="#444" stroke-width="0.6"/>
<line x1="437.08" y1="417.88" x2="439.48" y2="417.88" stroke="#444" stroke-width="0.6"/>
<line x1="437.08" y1="411.4" x2="439.48" y2="411.4" stroke="#444" stroke-width="0.6"/>
<line x1="494.56" y1="439.48" x2="494.56" y2="433.72" stroke="#444" stroke-width="0.6"/>
<line x1="493.36" y1="439.48" x2="495.76" y2="439.48" stroke="#444" stroke-width="0.6"/>
<line x1="493.36" y1="433.72" x2="495.76" y2="433.72" stroke="#444" stroke-width="0.6"/>
<polyline points="382,443.8 396.07,393.4 410.14,415 438.28,414.5" fill="none" stroke="#333" stroke-width="0.9" stroke-linejoin="round"/>
<polyline points="382,443.8 396.07,438.04 410.14,445.24 438.28,444.81" fill="none" stroke="#333" stroke-width="0.9" stroke-linejoin="round"/>
<polyline points="382,443.8 396.07,391.96 410.14,403.48 438.28,407.08 466.42,435.88 494.56,436.82" fill="none" stroke="#333" stroke-width="0.9" stroke-linejoin="round"/>
<polygon points="382,441.6 384,443.8 382,446 380,443.8" fill="#fff" stroke="#444" stroke-width="0.7"/>
<polygon points="396.07,389.76 398.07,391.96 396.07,394.16 394.07,391.96" fill="#fff" stroke="#444" stroke-width="0.7"/>
<polygon points="410.14,401.28 412.14,403.48 410.14,405.68 408.14,403.48" fill="#fff" stroke="#444" stroke-width="0.7"/>
<polygon points="438.28,404.88 440.28,407.08 438.28,409.28 436.28,407.08" fill="#fff" stroke="#444" stroke-width="0.7"/>
<polygon points="466.42,433.68 468.42,435.88 466.42,438.08 464.42,435.88" fill="#fff" stroke="#444" stroke-width="0.7"/>
<polygon points="494.56,434.62 496.56,436.82 494.56,439.02 492.56,436.82" fill="#fff" stroke="#444" stroke-width="0.7"/>
<polygon points="379.9,442.2 384.1,442.2 382,446.2" fill="#888" stroke="#444" stroke-width="0.6"/>
<polygon points="393.97,436.44 398.17,436.44 396.07,440.44" fill="#888" stroke="#444" stroke-width="0.6"/>
<polygon points="408.04,443.64 412.24,443.64 410.14,447.64" fill="#888" stroke="#444" stroke-width="0.6"/>
<polygon points="436.18,443.21 440.38,443.21 438.28,447.21" fill="#888" stroke="#444" stroke-width="0.6"/>
<circle cx="382" cy="443.8" r="2.1" fill="#000"/>
<circle cx="396.07" cy="393.4" r="2.1" fill="#000"/>
<circle cx="410.14" cy="415" r="2.1" fill="#000"/>
<circle cx="438.28" cy="414.5" r="2.1" fill="#000"/>
<circle cx="400" cy="388" r="0.95" fill="#111"/><circle cx="403.2" cy="388" r="0.95" fill="#111"/>
<circle cx="413.6" cy="398.6" r="0.95" fill="#111"/><circle cx="416.8" cy="398.6" r="0.95" fill="#111"/>
<circle cx="441" cy="402.8" r="0.95" fill="#111"/><circle cx="444.2" cy="402.8" r="0.95" fill="#111"/>
<line x1="430.1" y1="369.7" x2="444.2" y2="369.7" stroke="#333" stroke-width="0.9"/>
<circle cx="437.2" cy="369.7" r="2.1" fill="#000"/>
<text x="446.3" y="372.2" font-size="7" fill="#111" textLength="37.9" lengthAdjust="spacingAndGlyphs"><tspan font-style="italic">anti-CD3</tspan> only</text>
<line x1="430.1" y1="377.8" x2="444.2" y2="377.8" stroke="#333" stroke-width="0.9"/>
<polygon points="435.1,376.2 439.3,376.2 437.2,380.2" fill="#888" stroke="#444" stroke-width="0.6"/>
<text x="446.3" y="380.3" font-size="7" fill="#111" textLength="49.5" lengthAdjust="spacingAndGlyphs"><tspan font-style="italic">FVIII</tspan> plasmid only</text>
<line x1="430.1" y1="385.9" x2="444.2" y2="385.9" stroke="#333" stroke-width="0.9"/>
<polygon points="437.2,383.7 439.2,385.9 437.2,388.1 435.2,385.9" fill="#fff" stroke="#444" stroke-width="0.7"/>
<text x="446.3" y="388.4" font-size="7" fill="#111" textLength="65.6" lengthAdjust="spacingAndGlyphs"><tspan font-style="italic">FVIII</tspan> plasmid+anti-CD3</text>
<text x="354.1" y="356.2" font-size="11.6" font-weight="bold">F</text>
</svg>
</body></html>
